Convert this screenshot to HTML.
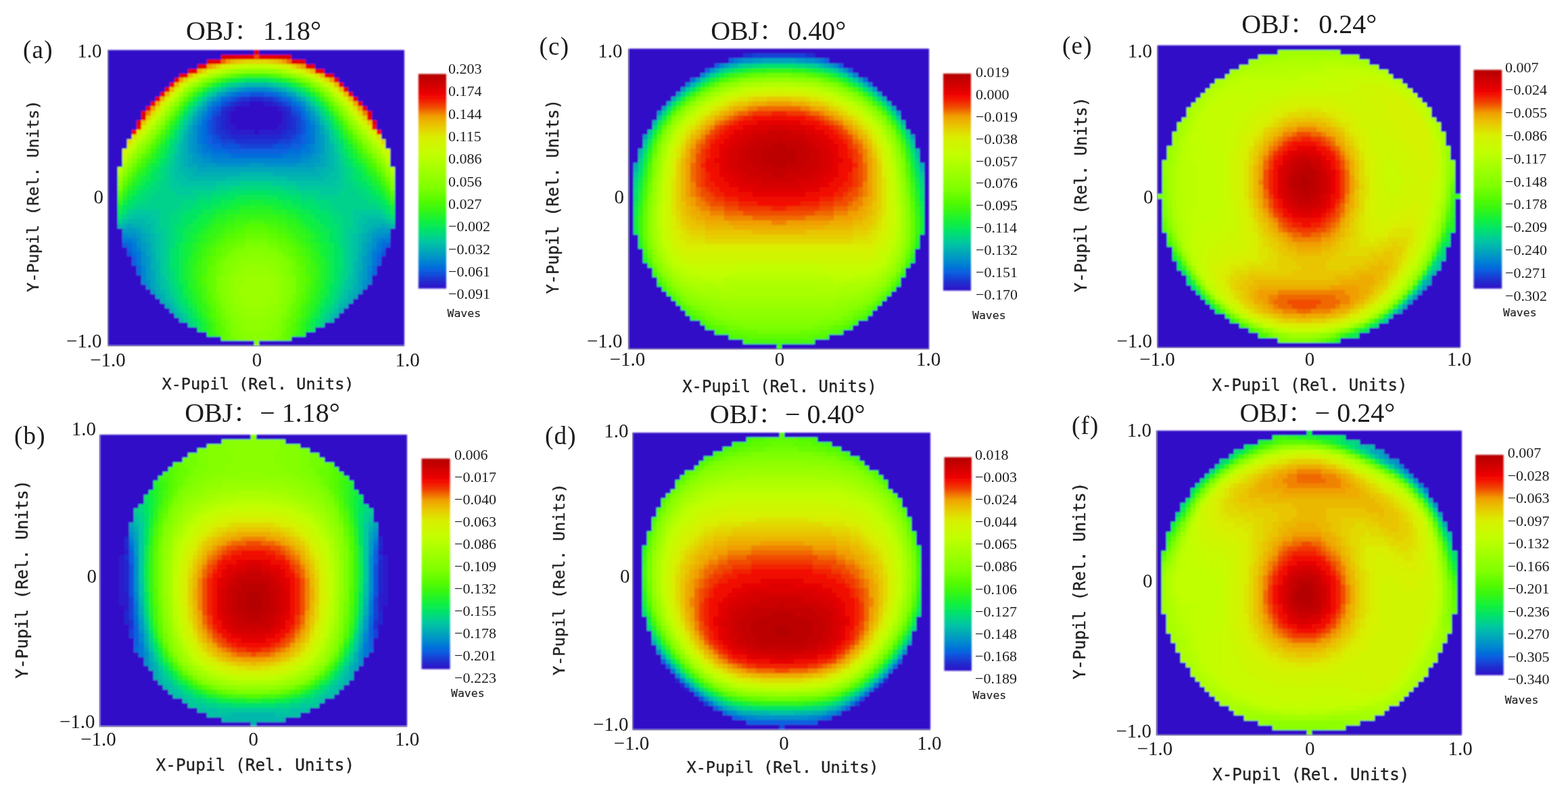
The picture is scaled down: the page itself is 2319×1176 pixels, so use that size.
<!DOCTYPE html>
<html lang="en"><head><meta charset="utf-8"><title>Wavefront maps</title>
<style>
html,body{margin:0;padding:0;background:#fff;}
body{width:2319px;height:1176px;overflow:hidden;}
svg{display:block;}
.ts{font-family:"Liberation Serif","Noto Serif CJK SC",serif;fill:#1a1a1a;}
.tm{font-family:"DejaVu Sans Mono","Liberation Mono",monospace;fill:#222;stroke:#222;stroke-width:0.35px;}
</style></head><body>
<svg width="2319" height="1176" viewBox="0 0 2319 1176">
<defs>
<linearGradient id="cb" x1="0" y1="0" x2="0" y2="1"><stop offset="0.000" stop-color="#b40000"/><stop offset="0.061" stop-color="#d80000"/><stop offset="0.107" stop-color="#f40800"/><stop offset="0.152" stop-color="#f04800"/><stop offset="0.198" stop-color="#f0a000"/><stop offset="0.244" stop-color="#e8c800"/><stop offset="0.298" stop-color="#d8f000"/><stop offset="0.380" stop-color="#c0ff00"/><stop offset="0.471" stop-color="#98ff00"/><stop offset="0.529" stop-color="#80ff00"/><stop offset="0.620" stop-color="#40f808"/><stop offset="0.688" stop-color="#10f040"/><stop offset="0.734" stop-color="#00e070"/><stop offset="0.779" stop-color="#00c8a0"/><stop offset="0.825" stop-color="#00a8b8"/><stop offset="0.870" stop-color="#0088d0"/><stop offset="0.916" stop-color="#0860e0"/><stop offset="0.961" stop-color="#2030d0"/><stop offset="1.000" stop-color="#3010c8"/></linearGradient>
<filter id="bl" x="-2%" y="-2%" width="104%" height="104%"><feGaussianBlur stdDeviation="1.0"/></filter>
<filter id="bl2" x="-10%" y="-2%" width="120%" height="104%"><feGaussianBlur stdDeviation="0.8"/></filter>
<filter id="bt" x="-5%" y="-20%" width="110%" height="140%"><feGaussianBlur stdDeviation="0.5"/></filter>
</defs>
<rect width="2319" height="1176" fill="#fff"/>

<g filter="url(#bt)">
<g id="pa">
<g filter="url(#bl)">
<g transform="translate(160.20 73.80) scale(6.95397 6.94603)" shape-rendering="crispEdges">
<rect x="0" y="0" width="63" height="63" fill="#300fc8"/>
<path fill="#3010c8" d="M30 11h3v1h-3zM27 12h9v1h-9zM26 13h11v1h-11zM26 14h11v1h-11zM26 15h11v1h-11zM27 16h9v1h-9zM31 17h1v1h-1z"/>
<path fill="#2a1ccb" d="M28 11h2v1h-2zM33 11h2v1h-2zM26 12h1v1h-1zM36 12h1v1h-1zM25 13h1v1h-1zM37 13h1v1h-1zM25 14h1v1h-1zM37 14h1v1h-1zM25 15h1v1h-1zM37 15h1v1h-1zM25 16h2v1h-2zM36 16h2v1h-2zM26 17h5v1h-5zM32 17h5v1h-5z"/>
<path fill="#2427ce" d="M30 10h3v1h-3zM27 11h1v1h-1zM35 11h1v1h-1zM25 12h1v1h-1zM37 12h1v1h-1zM24 13h1v1h-1zM38 13h1v1h-1zM24 14h1v1h-1zM38 14h1v1h-1zM24 15h1v1h-1zM38 15h1v1h-1zM24 16h1v1h-1zM38 16h1v1h-1zM25 17h1v1h-1zM37 17h1v1h-1zM26 18h11v1h-11z"/>
<path fill="#1e33d1" d="M28 10h2v1h-2zM33 10h2v1h-2zM26 11h1v1h-1zM36 11h1v1h-1zM24 12h1v1h-1zM38 12h1v1h-1zM23 14h1v1h-1zM39 14h1v1h-1zM23 15h1v1h-1zM39 15h1v1h-1zM23 16h1v1h-1zM39 16h1v1h-1zM23 17h2v1h-2zM38 17h2v1h-2zM24 18h2v1h-2zM37 18h2v1h-2zM27 19h9v1h-9z"/>
<path fill="#1742d6" d="M27 10h1v1h-1zM35 10h1v1h-1zM25 11h1v1h-1zM37 11h1v1h-1zM23 13h1v1h-1zM39 13h1v1h-1zM22 14h1v1h-1zM40 14h1v1h-1zM22 15h1v1h-1zM40 15h1v1h-1zM22 16h1v1h-1zM40 16h1v1h-1zM22 17h1v1h-1zM40 17h1v1h-1zM23 18h1v1h-1zM39 18h1v1h-1zM24 19h3v1h-3zM36 19h3v1h-3zM28 20h7v1h-7z"/>
<path fill="#0f52db" d="M30 9h3v1h-3zM26 10h1v1h-1zM36 10h1v1h-1zM24 11h1v1h-1zM38 11h1v1h-1zM23 12h1v1h-1zM39 12h1v1h-1zM22 13h1v1h-1zM40 13h1v1h-1zM21 15h1v1h-1zM41 15h1v1h-1zM21 16h1v1h-1zM41 16h1v1h-1zM21 17h1v1h-1zM41 17h1v1h-1zM22 18h1v1h-1zM40 18h1v1h-1zM22 19h2v1h-2zM39 19h2v1h-2zM24 20h4v1h-4zM35 20h4v1h-4zM4 43h1v1h-1zM58 43h1v1h-1z"/>
<path fill="#0860e0" d="M28 9h2v1h-2zM33 9h2v1h-2zM25 10h1v1h-1zM37 10h1v1h-1zM22 12h1v1h-1zM40 12h1v1h-1zM21 14h1v1h-1zM41 14h1v1h-1zM21 18h1v1h-1zM41 18h1v1h-1zM21 19h1v1h-1zM41 19h1v1h-1zM22 20h2v1h-2zM39 20h2v1h-2zM25 21h13v1h-13zM3 41h1v1h-1zM59 41h1v1h-1zM4 42h1v1h-1zM58 42h1v1h-1zM5 44h1v1h-1zM57 44h1v1h-1zM5 45h1v1h-1zM57 45h1v1h-1z"/>
<path fill="#056ddb" d="M27 9h1v1h-1zM35 9h1v1h-1zM24 10h1v1h-1zM38 10h1v1h-1zM23 11h1v1h-1zM39 11h1v1h-1zM21 13h1v1h-1zM41 13h1v1h-1zM20 15h1v1h-1zM42 15h1v1h-1zM20 16h1v1h-1zM42 16h1v1h-1zM20 17h1v1h-1zM42 17h1v1h-1zM20 18h1v1h-1zM42 18h1v1h-1zM20 19h1v1h-1zM42 19h1v1h-1zM21 20h1v1h-1zM41 20h1v1h-1zM22 21h3v1h-3zM38 21h3v1h-3zM26 22h11v1h-11zM4 41h1v1h-1zM58 41h1v1h-1zM5 43h1v1h-1zM57 43h1v1h-1zM6 46h1v1h-1zM56 46h1v1h-1zM6 47h1v1h-1zM56 47h1v1h-1z"/>
<path fill="#0379d6" d="M26 9h1v1h-1zM36 9h1v1h-1zM22 11h1v1h-1zM40 11h1v1h-1zM21 12h1v1h-1zM41 12h1v1h-1zM20 14h1v1h-1zM42 14h1v1h-1zM19 16h1v1h-1zM43 16h1v1h-1zM19 17h1v1h-1zM43 17h1v1h-1zM19 18h1v1h-1zM43 18h1v1h-1zM19 19h1v1h-1zM43 19h1v1h-1zM20 20h1v1h-1zM42 20h1v1h-1zM20 21h2v1h-2zM41 21h2v1h-2zM22 22h4v1h-4zM37 22h4v1h-4zM3 40h2v1h-2zM58 40h2v1h-2zM5 41h1v1h-1zM57 41h1v1h-1zM5 42h1v1h-1zM57 42h1v1h-1zM6 43h1v1h-1zM56 43h1v1h-1zM6 44h1v1h-1zM56 44h1v1h-1zM6 45h1v1h-1zM56 45h1v1h-1z"/>
<path fill="#0185d1" d="M29 8h5v1h-5zM25 9h1v1h-1zM37 9h1v1h-1zM23 10h1v1h-1zM39 10h1v1h-1zM20 13h1v1h-1zM42 13h1v1h-1zM19 15h1v1h-1zM43 15h1v1h-1zM19 20h1v1h-1zM43 20h1v1h-1zM19 21h1v1h-1zM43 21h1v1h-1zM20 22h2v1h-2zM41 22h2v1h-2zM22 23h19v1h-19zM3 39h1v1h-1zM59 39h1v1h-1zM5 40h1v1h-1zM57 40h1v1h-1zM6 42h1v1h-1zM56 42h1v1h-1zM7 46h1v1h-1zM55 46h1v1h-1zM7 47h1v1h-1zM55 47h1v1h-1zM7 48h1v1h-1zM55 48h1v1h-1zM7 49h1v1h-1zM55 49h1v1h-1z"/>
<path fill="#0090ca" d="M28 8h1v1h-1zM34 8h1v1h-1zM21 11h1v1h-1zM41 11h1v1h-1zM19 14h1v1h-1zM43 14h1v1h-1zM18 16h1v1h-1zM44 16h1v1h-1zM18 17h1v1h-1zM44 17h1v1h-1zM18 18h1v1h-1zM44 18h1v1h-1zM18 19h1v1h-1zM44 19h1v1h-1zM18 20h1v1h-1zM44 20h1v1h-1zM18 21h1v1h-1zM44 21h1v1h-1zM19 22h1v1h-1zM43 22h1v1h-1zM20 23h2v1h-2zM41 23h2v1h-2zM23 24h7v1h-7zM33 24h7v1h-7zM4 39h2v1h-2zM57 39h2v1h-2zM6 40h1v1h-1zM56 40h1v1h-1zM6 41h1v1h-1zM56 41h1v1h-1zM7 43h1v1h-1zM55 43h1v1h-1zM7 44h1v1h-1zM55 44h1v1h-1zM7 45h1v1h-1zM55 45h1v1h-1zM8 49h1v1h-1zM54 49h1v1h-1zM8 50h1v1h-1zM54 50h1v1h-1z"/>
<path fill="#009ac3" d="M27 8h1v1h-1zM35 8h1v1h-1zM24 9h1v1h-1zM38 9h1v1h-1zM22 10h1v1h-1zM40 10h1v1h-1zM20 12h1v1h-1zM42 12h1v1h-1zM19 13h1v1h-1zM43 13h1v1h-1zM18 15h1v1h-1zM44 15h1v1h-1zM17 18h1v1h-1zM45 18h1v1h-1zM17 19h1v1h-1zM45 19h1v1h-1zM17 20h1v1h-1zM45 20h1v1h-1zM17 21h1v1h-1zM45 21h1v1h-1zM18 22h1v1h-1zM44 22h1v1h-1zM18 23h2v1h-2zM43 23h2v1h-2zM19 24h4v1h-4zM30 24h3v1h-3zM40 24h4v1h-4zM3 38h3v1h-3zM57 38h3v1h-3zM6 39h1v1h-1zM56 39h1v1h-1zM7 41h1v1h-1zM55 41h1v1h-1zM7 42h1v1h-1zM55 42h1v1h-1zM8 44h1v1h-1zM54 44h1v1h-1zM8 45h1v1h-1zM54 45h1v1h-1zM8 46h1v1h-1zM54 46h1v1h-1zM8 47h1v1h-1zM54 47h1v1h-1zM8 48h1v1h-1zM54 48h1v1h-1zM9 51h1v1h-1zM53 51h1v1h-1z"/>
<path fill="#00a4bb" d="M26 8h1v1h-1zM36 8h1v1h-1zM23 9h1v1h-1zM39 9h1v1h-1zM18 14h1v1h-1zM44 14h1v1h-1zM17 16h1v1h-1zM45 16h1v1h-1zM17 17h1v1h-1zM45 17h1v1h-1zM17 22h1v1h-1zM45 22h1v1h-1zM17 23h1v1h-1zM45 23h1v1h-1zM17 24h2v1h-2zM44 24h2v1h-2zM19 25h25v1h-25zM4 37h1v1h-1zM58 37h1v1h-1zM6 38h1v1h-1zM56 38h1v1h-1zM7 39h1v1h-1zM55 39h1v1h-1zM7 40h1v1h-1zM55 40h1v1h-1zM8 41h1v1h-1zM54 41h1v1h-1zM8 42h1v1h-1zM54 42h1v1h-1zM8 43h1v1h-1zM54 43h1v1h-1zM9 47h1v1h-1zM53 47h1v1h-1zM9 48h1v1h-1zM53 48h1v1h-1zM9 49h1v1h-1zM53 49h1v1h-1zM9 50h1v1h-1zM53 50h1v1h-1zM10 52h1v1h-1zM52 52h1v1h-1z"/>
<path fill="#00aeb4" d="M25 8h1v1h-1zM37 8h1v1h-1zM21 10h1v1h-1zM41 10h1v1h-1zM20 11h1v1h-1zM42 11h1v1h-1zM19 12h1v1h-1zM43 12h1v1h-1zM16 18h1v1h-1zM46 18h1v1h-1zM16 19h1v1h-1zM46 19h1v1h-1zM16 20h1v1h-1zM46 20h1v1h-1zM16 21h1v1h-1zM46 21h1v1h-1zM16 22h1v1h-1zM46 22h1v1h-1zM16 23h1v1h-1zM46 23h1v1h-1zM16 24h1v1h-1zM46 24h1v1h-1zM17 25h2v1h-2zM44 25h2v1h-2zM18 26h10v1h-10zM35 26h10v1h-10zM3 37h1v1h-1zM5 37h2v1h-2zM56 37h2v1h-2zM59 37h1v1h-1zM7 38h1v1h-1zM55 38h1v1h-1zM8 39h1v1h-1zM54 39h1v1h-1zM8 40h1v1h-1zM54 40h1v1h-1zM9 43h1v1h-1zM53 43h1v1h-1zM9 44h1v1h-1zM53 44h1v1h-1zM9 45h1v1h-1zM53 45h1v1h-1zM9 46h1v1h-1zM53 46h1v1h-1zM10 50h1v1h-1zM52 50h1v1h-1zM10 51h1v1h-1zM52 51h1v1h-1zM11 52h1v1h-1zM51 52h1v1h-1zM11 53h1v1h-1zM51 53h1v1h-1zM12 54h1v1h-1zM50 54h1v1h-1zM13 55h1v1h-1zM49 55h1v1h-1z"/>
<path fill="#00b7ac" d="M29 7h5v1h-5zM18 13h1v1h-1zM44 13h1v1h-1zM17 15h1v1h-1zM45 15h1v1h-1zM16 17h1v1h-1zM46 17h1v1h-1zM15 20h1v1h-1zM47 20h1v1h-1zM15 21h1v1h-1zM47 21h1v1h-1zM15 22h1v1h-1zM47 22h1v1h-1zM15 23h1v1h-1zM47 23h1v1h-1zM15 24h1v1h-1zM47 24h1v1h-1zM15 25h2v1h-2zM46 25h2v1h-2zM16 26h2v1h-2zM28 26h7v1h-7zM45 26h2v1h-2zM17 27h8v1h-8zM38 27h8v1h-8zM4 36h4v1h-4zM55 36h4v1h-4zM2 37h1v1h-1zM7 37h2v1h-2zM54 37h2v1h-2zM60 37h1v1h-1zM8 38h1v1h-1zM54 38h1v1h-1zM9 39h1v1h-1zM53 39h1v1h-1zM9 40h1v1h-1zM53 40h1v1h-1zM9 41h1v1h-1zM53 41h1v1h-1zM9 42h1v1h-1zM53 42h1v1h-1zM10 45h1v1h-1zM52 45h1v1h-1zM10 46h1v1h-1zM52 46h1v1h-1zM10 47h1v1h-1zM52 47h1v1h-1zM10 48h1v1h-1zM52 48h1v1h-1zM10 49h1v1h-1zM52 49h1v1h-1zM11 51h1v1h-1zM51 51h1v1h-1zM12 53h1v1h-1zM50 53h1v1h-1zM13 54h1v1h-1zM49 54h1v1h-1zM14 56h1v1h-1zM48 56h1v1h-1zM15 57h1v1h-1zM47 57h1v1h-1z"/>
<path fill="#00c1a5" d="M28 7h1v1h-1zM34 7h1v1h-1zM24 8h1v1h-1zM38 8h1v1h-1zM22 9h1v1h-1zM40 9h1v1h-1zM17 14h1v1h-1zM45 14h1v1h-1zM16 16h1v1h-1zM46 16h1v1h-1zM15 19h1v1h-1zM47 19h1v1h-1zM14 22h1v1h-1zM48 22h1v1h-1zM14 23h1v1h-1zM48 23h1v1h-1zM14 24h1v1h-1zM48 24h1v1h-1zM14 25h1v1h-1zM48 25h1v1h-1zM14 26h2v1h-2zM47 26h2v1h-2zM14 27h3v1h-3zM25 27h13v1h-13zM46 27h3v1h-3zM15 28h8v1h-8zM40 28h8v1h-8zM5 35h4v1h-4zM54 35h4v1h-4zM3 36h1v1h-1zM8 36h2v1h-2zM53 36h2v1h-2zM59 36h1v1h-1zM9 37h1v1h-1zM53 37h1v1h-1zM9 38h1v1h-1zM53 38h1v1h-1zM10 39h1v1h-1zM52 39h1v1h-1zM10 40h1v1h-1zM52 40h1v1h-1zM10 41h1v1h-1zM52 41h1v1h-1zM10 42h1v1h-1zM52 42h1v1h-1zM10 43h1v1h-1zM52 43h1v1h-1zM10 44h1v1h-1zM52 44h1v1h-1zM11 48h1v1h-1zM51 48h1v1h-1zM11 49h1v1h-1zM51 49h1v1h-1zM11 50h1v1h-1zM51 50h1v1h-1zM12 51h1v1h-1zM50 51h1v1h-1zM12 52h1v1h-1zM50 52h1v1h-1zM13 53h1v1h-1zM49 53h1v1h-1zM14 55h1v1h-1zM48 55h1v1h-1zM15 56h1v1h-1zM47 56h1v1h-1z"/>
<path fill="#00ca9b" d="M27 7h1v1h-1zM35 7h1v1h-1zM20 10h1v1h-1zM42 10h1v1h-1zM19 11h1v1h-1zM43 11h1v1h-1zM18 12h1v1h-1zM44 12h1v1h-1zM16 15h1v1h-1zM46 15h1v1h-1zM15 17h1v1h-1zM47 17h1v1h-1zM15 18h1v1h-1zM47 18h1v1h-1zM14 20h1v1h-1zM48 20h1v1h-1zM14 21h1v1h-1zM48 21h1v1h-1zM13 24h1v1h-1zM49 24h1v1h-1zM13 25h1v1h-1zM49 25h1v1h-1zM13 26h1v1h-1zM49 26h1v1h-1zM13 27h1v1h-1zM49 27h1v1h-1zM13 28h2v1h-2zM23 28h5v1h-5zM35 28h5v1h-5zM48 28h2v1h-2zM13 29h10v1h-10zM40 29h10v1h-10zM14 30h4v1h-4zM45 30h4v1h-4zM5 34h6v1h-6zM52 34h6v1h-6zM4 35h1v1h-1zM9 35h2v1h-2zM52 35h2v1h-2zM58 35h1v1h-1zM10 36h1v1h-1zM52 36h1v1h-1zM10 37h1v1h-1zM52 37h1v1h-1zM10 38h2v1h-2zM51 38h2v1h-2zM11 39h1v1h-1zM51 39h1v1h-1zM11 40h1v1h-1zM51 40h1v1h-1zM11 41h1v1h-1zM51 41h1v1h-1zM11 42h1v1h-1zM51 42h1v1h-1zM11 43h1v1h-1zM51 43h1v1h-1zM11 44h1v1h-1zM51 44h1v1h-1zM11 45h1v1h-1zM51 45h1v1h-1zM11 46h1v1h-1zM51 46h1v1h-1zM11 47h1v1h-1zM51 47h1v1h-1zM12 49h1v1h-1zM50 49h1v1h-1zM12 50h1v1h-1zM50 50h1v1h-1zM13 52h1v1h-1zM49 52h1v1h-1zM14 54h1v1h-1zM48 54h1v1h-1zM16 57h1v1h-1zM46 57h1v1h-1z"/>
<path fill="#00d28c" d="M26 7h1v1h-1zM36 7h1v1h-1zM23 8h1v1h-1zM39 8h1v1h-1zM21 9h1v1h-1zM41 9h1v1h-1zM17 13h1v1h-1zM45 13h1v1h-1zM14 19h1v1h-1zM48 19h1v1h-1zM13 22h1v1h-1zM49 22h1v1h-1zM13 23h1v1h-1zM49 23h1v1h-1zM12 25h1v1h-1zM50 25h1v1h-1zM12 26h1v1h-1zM50 26h1v1h-1zM12 27h1v1h-1zM50 27h1v1h-1zM11 28h2v1h-2zM28 28h7v1h-7zM50 28h2v1h-2zM11 29h2v1h-2zM23 29h3v1h-3zM37 29h3v1h-3zM50 29h2v1h-2zM10 30h4v1h-4zM18 30h4v1h-4zM41 30h4v1h-4zM49 30h4v1h-4zM9 31h10v1h-10zM44 31h10v1h-10zM8 32h8v1h-8zM47 32h8v1h-8zM6 33h9v1h-9zM48 33h9v1h-9zM4 34h1v1h-1zM11 34h3v1h-3zM49 34h3v1h-3zM58 34h1v1h-1zM3 35h1v1h-1zM11 35h2v1h-2zM50 35h2v1h-2zM59 35h1v1h-1zM2 36h1v1h-1zM11 36h2v1h-2zM50 36h2v1h-2zM60 36h1v1h-1zM11 37h2v1h-2zM50 37h2v1h-2zM12 38h1v1h-1zM50 38h1v1h-1zM12 39h1v1h-1zM50 39h1v1h-1zM12 40h1v1h-1zM50 40h1v1h-1zM12 41h1v1h-1zM50 41h1v1h-1zM12 42h1v1h-1zM50 42h1v1h-1zM12 43h1v1h-1zM50 43h1v1h-1zM12 44h1v1h-1zM50 44h1v1h-1zM12 45h1v1h-1zM50 45h1v1h-1zM12 46h1v1h-1zM50 46h1v1h-1zM12 47h1v1h-1zM50 47h1v1h-1zM12 48h1v1h-1zM50 48h1v1h-1zM13 50h1v1h-1zM49 50h1v1h-1zM13 51h1v1h-1zM49 51h1v1h-1zM14 53h1v1h-1zM48 53h1v1h-1zM15 55h1v1h-1zM47 55h1v1h-1zM16 56h1v1h-1zM46 56h1v1h-1zM17 58h1v1h-1zM45 58h1v1h-1z"/>
<path fill="#00d97d" d="M25 7h1v1h-1zM37 7h1v1h-1zM16 14h1v1h-1zM46 14h1v1h-1zM15 16h1v1h-1zM47 16h1v1h-1zM14 18h1v1h-1zM48 18h1v1h-1zM13 20h1v1h-1zM49 20h1v1h-1zM13 21h1v1h-1zM49 21h1v1h-1zM12 23h1v1h-1zM50 23h1v1h-1zM12 24h1v1h-1zM50 24h1v1h-1zM11 25h1v1h-1zM51 25h1v1h-1zM11 26h1v1h-1zM51 26h1v1h-1zM11 27h1v1h-1zM51 27h1v1h-1zM10 28h1v1h-1zM52 28h1v1h-1zM9 29h2v1h-2zM26 29h11v1h-11zM52 29h2v1h-2zM8 30h2v1h-2zM22 30h3v1h-3zM38 30h3v1h-3zM53 30h2v1h-2zM7 31h2v1h-2zM19 31h3v1h-3zM41 31h3v1h-3zM54 31h2v1h-2zM6 32h2v1h-2zM16 32h3v1h-3zM44 32h3v1h-3zM55 32h2v1h-2zM5 33h1v1h-1zM15 33h3v1h-3zM45 33h3v1h-3zM57 33h1v1h-1zM14 34h2v1h-2zM47 34h2v1h-2zM13 35h2v1h-2zM48 35h2v1h-2zM13 36h2v1h-2zM48 36h2v1h-2zM13 37h1v1h-1zM49 37h1v1h-1zM13 38h1v1h-1zM49 38h1v1h-1zM13 39h1v1h-1zM49 39h1v1h-1zM13 40h1v1h-1zM49 40h1v1h-1zM13 41h1v1h-1zM49 41h1v1h-1zM13 47h1v1h-1zM49 47h1v1h-1zM13 48h1v1h-1zM49 48h1v1h-1zM13 49h1v1h-1zM49 49h1v1h-1zM14 51h1v1h-1zM48 51h1v1h-1zM14 52h1v1h-1zM48 52h1v1h-1zM15 54h1v1h-1zM47 54h1v1h-1zM16 55h1v1h-1zM46 55h1v1h-1zM17 57h1v1h-1zM45 57h1v1h-1z"/>
<path fill="#01e16e" d="M22 8h1v1h-1zM40 8h1v1h-1zM19 10h1v1h-1zM43 10h1v1h-1zM18 11h1v1h-1zM44 11h1v1h-1zM17 12h1v1h-1zM45 12h1v1h-1zM15 15h1v1h-1zM47 15h1v1h-1zM14 17h1v1h-1zM48 17h1v1h-1zM13 19h1v1h-1zM49 19h1v1h-1zM12 22h1v1h-1zM50 22h1v1h-1zM11 24h1v1h-1zM51 24h1v1h-1zM10 26h1v1h-1zM52 26h1v1h-1zM10 27h1v1h-1zM52 27h1v1h-1zM9 28h1v1h-1zM53 28h1v1h-1zM8 29h1v1h-1zM54 29h1v1h-1zM7 30h1v1h-1zM25 30h4v1h-4zM34 30h4v1h-4zM55 30h1v1h-1zM6 31h1v1h-1zM22 31h2v1h-2zM39 31h2v1h-2zM56 31h1v1h-1zM5 32h1v1h-1zM19 32h3v1h-3zM41 32h3v1h-3zM57 32h1v1h-1zM4 33h1v1h-1zM18 33h2v1h-2zM43 33h2v1h-2zM58 33h1v1h-1zM3 34h1v1h-1zM16 34h2v1h-2zM45 34h2v1h-2zM59 34h1v1h-1zM2 35h1v1h-1zM15 35h2v1h-2zM46 35h2v1h-2zM60 35h1v1h-1zM15 36h1v1h-1zM47 36h1v1h-1zM14 37h2v1h-2zM47 37h2v1h-2zM14 38h1v1h-1zM48 38h1v1h-1zM14 39h1v1h-1zM48 39h1v1h-1zM14 40h1v1h-1zM48 40h1v1h-1zM13 42h1v1h-1zM49 42h1v1h-1zM13 43h1v1h-1zM49 43h1v1h-1zM13 44h1v1h-1zM49 44h1v1h-1zM13 45h1v1h-1zM49 45h1v1h-1zM13 46h1v1h-1zM49 46h1v1h-1zM14 49h1v1h-1zM48 49h1v1h-1zM14 50h1v1h-1zM48 50h1v1h-1zM15 52h1v1h-1zM47 52h1v1h-1zM15 53h1v1h-1zM47 53h1v1h-1zM16 54h1v1h-1zM46 54h1v1h-1zM17 56h1v1h-1zM45 56h1v1h-1zM18 58h1v1h-1zM44 58h1v1h-1z"/>
<path fill="#05e560" d="M29 6h5v1h-5zM24 7h1v1h-1zM38 7h1v1h-1zM20 9h1v1h-1zM42 9h1v1h-1zM16 13h1v1h-1zM46 13h1v1h-1zM12 21h1v1h-1zM50 21h1v1h-1zM11 23h1v1h-1zM51 23h1v1h-1zM10 25h1v1h-1zM52 25h1v1h-1zM9 26h1v1h-1zM53 26h1v1h-1zM9 27h1v1h-1zM53 27h1v1h-1zM8 28h1v1h-1zM54 28h1v1h-1zM7 29h1v1h-1zM55 29h1v1h-1zM6 30h1v1h-1zM29 30h5v1h-5zM56 30h1v1h-1zM5 31h1v1h-1zM24 31h3v1h-3zM36 31h3v1h-3zM57 31h1v1h-1zM4 32h1v1h-1zM22 32h2v1h-2zM39 32h2v1h-2zM58 32h1v1h-1zM3 33h1v1h-1zM20 33h2v1h-2zM41 33h2v1h-2zM59 33h1v1h-1zM18 34h2v1h-2zM43 34h2v1h-2zM17 35h2v1h-2zM44 35h2v1h-2zM16 36h2v1h-2zM45 36h2v1h-2zM16 37h1v1h-1zM46 37h1v1h-1zM15 38h1v1h-1zM47 38h1v1h-1zM15 39h1v1h-1zM47 39h1v1h-1zM15 40h1v1h-1zM47 40h1v1h-1zM14 41h1v1h-1zM48 41h1v1h-1zM14 42h1v1h-1zM48 42h1v1h-1zM14 43h1v1h-1zM48 43h1v1h-1zM14 44h1v1h-1zM48 44h1v1h-1zM14 45h1v1h-1zM48 45h1v1h-1zM14 46h1v1h-1zM48 46h1v1h-1zM14 47h1v1h-1zM48 47h1v1h-1zM14 48h1v1h-1zM48 48h1v1h-1zM15 50h1v1h-1zM47 50h1v1h-1zM15 51h1v1h-1zM47 51h1v1h-1zM16 53h1v1h-1zM46 53h1v1h-1zM17 55h1v1h-1zM45 55h1v1h-1zM18 57h1v1h-1zM44 57h1v1h-1z"/>
<path fill="#0aea51" d="M28 6h1v1h-1zM34 6h1v1h-1zM21 8h1v1h-1zM41 8h1v1h-1zM15 14h1v1h-1zM47 14h1v1h-1zM14 16h1v1h-1zM48 16h1v1h-1zM13 18h1v1h-1zM49 18h1v1h-1zM12 20h1v1h-1zM50 20h1v1h-1zM11 22h1v1h-1zM51 22h1v1h-1zM10 24h1v1h-1zM52 24h1v1h-1zM9 25h1v1h-1zM53 25h1v1h-1zM8 27h1v1h-1zM54 27h1v1h-1zM7 28h1v1h-1zM55 28h1v1h-1zM6 29h1v1h-1zM56 29h1v1h-1zM27 31h9v1h-9zM24 32h2v1h-2zM37 32h2v1h-2zM22 33h2v1h-2zM39 33h2v1h-2zM2 34h1v1h-1zM20 34h2v1h-2zM41 34h2v1h-2zM60 34h1v1h-1zM19 35h1v1h-1zM43 35h1v1h-1zM18 36h1v1h-1zM44 36h1v1h-1zM17 37h1v1h-1zM45 37h1v1h-1zM16 38h2v1h-2zM45 38h2v1h-2zM16 39h1v1h-1zM46 39h1v1h-1zM16 40h1v1h-1zM46 40h1v1h-1zM15 41h1v1h-1zM47 41h1v1h-1zM15 42h1v1h-1zM47 42h1v1h-1zM15 43h1v1h-1zM47 43h1v1h-1zM15 44h1v1h-1zM47 44h1v1h-1zM15 45h1v1h-1zM47 45h1v1h-1zM15 46h1v1h-1zM47 46h1v1h-1zM15 47h1v1h-1zM47 47h1v1h-1zM15 48h1v1h-1zM47 48h1v1h-1zM15 49h1v1h-1zM47 49h1v1h-1zM16 52h1v1h-1zM46 52h1v1h-1zM17 54h1v1h-1zM45 54h1v1h-1zM18 56h1v1h-1zM44 56h1v1h-1zM19 58h1v1h-1zM43 58h1v1h-1zM19 59h1v1h-1zM43 59h1v1h-1z"/>
<path fill="#0fef42" d="M27 6h1v1h-1zM35 6h1v1h-1zM23 7h1v1h-1zM39 7h1v1h-1zM18 10h1v1h-1zM44 10h1v1h-1zM17 11h1v1h-1zM45 11h1v1h-1zM13 17h1v1h-1zM49 17h1v1h-1zM12 19h1v1h-1zM50 19h1v1h-1zM11 21h1v1h-1zM51 21h1v1h-1zM10 23h1v1h-1zM52 23h1v1h-1zM9 24h1v1h-1zM53 24h1v1h-1zM8 26h1v1h-1zM54 26h1v1h-1zM7 27h1v1h-1zM55 27h1v1h-1zM5 30h1v1h-1zM57 30h1v1h-1zM4 31h1v1h-1zM58 31h1v1h-1zM3 32h1v1h-1zM26 32h4v1h-4zM33 32h4v1h-4zM59 32h1v1h-1zM24 33h2v1h-2zM37 33h2v1h-2zM22 34h1v1h-1zM40 34h1v1h-1zM20 35h2v1h-2zM41 35h2v1h-2zM19 36h2v1h-2zM42 36h2v1h-2zM18 37h2v1h-2zM43 37h2v1h-2zM18 38h1v1h-1zM44 38h1v1h-1zM17 39h1v1h-1zM45 39h1v1h-1zM17 40h1v1h-1zM45 40h1v1h-1zM16 41h1v1h-1zM46 41h1v1h-1zM16 42h1v1h-1zM46 42h1v1h-1zM16 43h1v1h-1zM46 43h1v1h-1zM16 44h1v1h-1zM46 44h1v1h-1zM16 49h1v1h-1zM46 49h1v1h-1zM16 50h1v1h-1zM46 50h1v1h-1zM16 51h1v1h-1zM46 51h1v1h-1zM17 53h1v1h-1zM45 53h1v1h-1zM18 55h1v1h-1zM44 55h1v1h-1zM19 57h1v1h-1zM43 57h1v1h-1z"/>
<path fill="#18f136" d="M26 6h1v1h-1zM36 6h1v1h-1zM19 9h1v1h-1zM43 9h1v1h-1zM16 12h1v1h-1zM46 12h1v1h-1zM14 15h1v1h-1zM48 15h1v1h-1zM11 20h1v1h-1zM51 20h1v1h-1zM10 22h1v1h-1zM52 22h1v1h-1zM8 25h1v1h-1zM54 25h1v1h-1zM6 28h1v1h-1zM56 28h1v1h-1zM5 29h1v1h-1zM57 29h1v1h-1zM4 30h1v1h-1zM58 30h1v1h-1zM30 32h3v1h-3zM2 33h1v1h-1zM26 33h2v1h-2zM35 33h2v1h-2zM60 33h1v1h-1zM23 34h2v1h-2zM38 34h2v1h-2zM22 35h1v1h-1zM40 35h1v1h-1zM21 36h1v1h-1zM41 36h1v1h-1zM20 37h1v1h-1zM42 37h1v1h-1zM19 38h1v1h-1zM43 38h1v1h-1zM18 39h1v1h-1zM44 39h1v1h-1zM18 40h1v1h-1zM44 40h1v1h-1zM17 41h1v1h-1zM45 41h1v1h-1zM17 42h1v1h-1zM45 42h1v1h-1zM17 43h1v1h-1zM45 43h1v1h-1zM16 45h1v1h-1zM46 45h1v1h-1zM16 46h1v1h-1zM46 46h1v1h-1zM16 47h1v1h-1zM46 47h1v1h-1zM16 48h1v1h-1zM46 48h1v1h-1zM17 51h1v1h-1zM45 51h1v1h-1zM17 52h1v1h-1zM45 52h1v1h-1zM18 54h1v1h-1zM44 54h1v1h-1zM19 56h1v1h-1zM43 56h1v1h-1zM20 58h1v1h-1zM42 58h1v1h-1zM20 59h1v1h-1zM42 59h1v1h-1z"/>
<path fill="#22f32b" d="M25 6h1v1h-1zM37 6h1v1h-1zM22 7h1v1h-1zM40 7h1v1h-1zM20 8h1v1h-1zM42 8h1v1h-1zM15 13h1v1h-1zM47 13h1v1h-1zM13 16h1v1h-1zM49 16h1v1h-1zM12 18h1v1h-1zM50 18h1v1h-1zM10 21h1v1h-1zM52 21h1v1h-1zM9 23h1v1h-1zM53 23h1v1h-1zM8 24h1v1h-1zM54 24h1v1h-1zM7 26h1v1h-1zM55 26h1v1h-1zM6 27h1v1h-1zM56 27h1v1h-1zM5 28h1v1h-1zM57 28h1v1h-1zM3 31h1v1h-1zM59 31h1v1h-1zM28 33h7v1h-7zM25 34h3v1h-3zM35 34h3v1h-3zM23 35h2v1h-2zM38 35h2v1h-2zM22 36h1v1h-1zM40 36h1v1h-1zM21 37h1v1h-1zM41 37h1v1h-1zM20 38h1v1h-1zM42 38h1v1h-1zM19 39h1v1h-1zM43 39h1v1h-1zM19 40h1v1h-1zM43 40h1v1h-1zM18 41h1v1h-1zM44 41h1v1h-1zM18 42h1v1h-1zM44 42h1v1h-1zM17 44h1v1h-1zM45 44h1v1h-1zM17 45h1v1h-1zM45 45h1v1h-1zM17 46h1v1h-1zM45 46h1v1h-1zM17 47h1v1h-1zM45 47h1v1h-1zM17 48h1v1h-1zM45 48h1v1h-1zM17 49h1v1h-1zM45 49h1v1h-1zM17 50h1v1h-1zM45 50h1v1h-1zM18 52h1v1h-1zM44 52h1v1h-1zM18 53h1v1h-1zM44 53h1v1h-1zM19 55h1v1h-1zM43 55h1v1h-1zM20 57h1v1h-1zM42 57h1v1h-1z"/>
<path fill="#2cf51f" d="M14 14h1v1h-1zM48 14h1v1h-1zM11 19h1v1h-1zM51 19h1v1h-1zM9 22h1v1h-1zM53 22h1v1h-1zM7 25h1v1h-1zM55 25h1v1h-1zM6 26h1v1h-1zM56 26h1v1h-1zM4 29h1v1h-1zM58 29h1v1h-1zM28 34h7v1h-7zM25 35h2v1h-2zM36 35h2v1h-2zM23 36h2v1h-2zM38 36h2v1h-2zM22 37h1v1h-1zM40 37h1v1h-1zM21 38h1v1h-1zM41 38h1v1h-1zM20 39h1v1h-1zM42 39h1v1h-1zM20 40h1v1h-1zM42 40h1v1h-1zM19 41h1v1h-1zM43 41h1v1h-1zM19 42h1v1h-1zM43 42h1v1h-1zM18 43h1v1h-1zM44 43h1v1h-1zM18 44h1v1h-1zM44 44h1v1h-1zM18 45h1v1h-1zM44 45h1v1h-1zM18 49h1v1h-1zM44 49h1v1h-1zM18 50h1v1h-1zM44 50h1v1h-1zM18 51h1v1h-1zM44 51h1v1h-1zM19 53h1v1h-1zM43 53h1v1h-1zM19 54h1v1h-1zM43 54h1v1h-1zM20 56h1v1h-1zM42 56h1v1h-1zM21 58h1v1h-1zM41 58h1v1h-1zM21 59h1v1h-1zM41 59h1v1h-1zM21 60h1v1h-1zM41 60h1v1h-1z"/>
<path fill="#36f613" d="M24 6h1v1h-1zM38 6h1v1h-1zM18 9h1v1h-1zM44 9h1v1h-1zM17 10h1v1h-1zM45 10h1v1h-1zM16 11h1v1h-1zM46 11h1v1h-1zM13 15h1v1h-1zM49 15h1v1h-1zM12 17h1v1h-1zM50 17h1v1h-1zM10 20h1v1h-1zM52 20h1v1h-1zM8 23h1v1h-1zM54 23h1v1h-1zM5 27h1v1h-1zM57 27h1v1h-1zM3 30h1v1h-1zM59 30h1v1h-1zM2 32h1v1h-1zM60 32h1v1h-1zM27 35h9v1h-9zM25 36h2v1h-2zM36 36h2v1h-2zM23 37h2v1h-2zM38 37h2v1h-2zM22 38h2v1h-2zM39 38h2v1h-2zM21 39h2v1h-2zM40 39h2v1h-2zM21 40h1v1h-1zM41 40h1v1h-1zM20 41h1v1h-1zM42 41h1v1h-1zM19 43h1v1h-1zM43 43h1v1h-1zM19 44h1v1h-1zM43 44h1v1h-1zM18 46h1v1h-1zM44 46h1v1h-1zM18 47h1v1h-1zM44 47h1v1h-1zM18 48h1v1h-1zM44 48h1v1h-1zM19 51h1v1h-1zM43 51h1v1h-1zM19 52h1v1h-1zM43 52h1v1h-1zM20 54h1v1h-1zM42 54h1v1h-1zM20 55h1v1h-1zM42 55h1v1h-1zM21 57h1v1h-1zM41 57h1v1h-1zM22 60h1v1h-1zM40 60h1v1h-1z"/>
<path fill="#40f808" d="M29 5h5v1h-5zM21 7h1v1h-1zM41 7h1v1h-1zM15 12h1v1h-1zM47 12h1v1h-1zM11 18h1v1h-1zM51 18h1v1h-1zM9 21h1v1h-1zM53 21h1v1h-1zM7 24h1v1h-1zM55 24h1v1h-1zM6 25h1v1h-1zM56 25h1v1h-1zM4 28h1v1h-1zM58 28h1v1h-1zM27 36h3v1h-3zM33 36h3v1h-3zM25 37h2v1h-2zM36 37h2v1h-2zM24 38h1v1h-1zM38 38h1v1h-1zM23 39h1v1h-1zM39 39h1v1h-1zM22 40h1v1h-1zM40 40h1v1h-1zM21 41h1v1h-1zM41 41h1v1h-1zM20 42h1v1h-1zM42 42h1v1h-1zM20 43h1v1h-1zM42 43h1v1h-1zM19 45h1v1h-1zM43 45h1v1h-1zM19 46h1v1h-1zM43 46h1v1h-1zM19 47h1v1h-1zM43 47h1v1h-1zM19 48h1v1h-1zM43 48h1v1h-1zM19 49h1v1h-1zM43 49h1v1h-1zM19 50h1v1h-1zM43 50h1v1h-1zM20 53h1v1h-1zM42 53h1v1h-1zM21 55h1v1h-1zM41 55h1v1h-1zM21 56h1v1h-1zM41 56h1v1h-1zM22 58h1v1h-1zM40 58h1v1h-1zM22 59h1v1h-1zM40 59h1v1h-1z"/>
<path fill="#4af907" d="M28 5h1v1h-1zM34 5h1v1h-1zM23 6h1v1h-1zM39 6h1v1h-1zM19 8h1v1h-1zM43 8h1v1h-1zM14 13h1v1h-1zM48 13h1v1h-1zM12 16h1v1h-1zM50 16h1v1h-1zM10 19h1v1h-1zM52 19h1v1h-1zM8 22h1v1h-1zM54 22h1v1h-1zM7 23h1v1h-1zM55 23h1v1h-1zM5 26h1v1h-1zM57 26h1v1h-1zM3 29h1v1h-1zM59 29h1v1h-1zM2 31h1v1h-1zM60 31h1v1h-1zM30 36h3v1h-3zM27 37h2v1h-2zM34 37h2v1h-2zM25 38h2v1h-2zM36 38h2v1h-2zM24 39h1v1h-1zM38 39h1v1h-1zM23 40h1v1h-1zM39 40h1v1h-1zM22 41h1v1h-1zM40 41h1v1h-1zM21 42h1v1h-1zM41 42h1v1h-1zM21 43h1v1h-1zM41 43h1v1h-1zM20 44h1v1h-1zM42 44h1v1h-1zM20 45h1v1h-1zM42 45h1v1h-1zM20 46h1v1h-1zM42 46h1v1h-1zM20 47h1v1h-1zM42 47h1v1h-1zM20 50h1v1h-1zM42 50h1v1h-1zM20 51h1v1h-1zM42 51h1v1h-1zM20 52h1v1h-1zM42 52h1v1h-1zM21 54h1v1h-1zM41 54h1v1h-1zM22 57h1v1h-1zM40 57h1v1h-1zM23 60h1v1h-1zM39 60h1v1h-1z"/>
<path fill="#54fa05" d="M27 5h1v1h-1zM35 5h1v1h-1zM13 14h1v1h-1zM49 14h1v1h-1zM11 17h1v1h-1zM51 17h1v1h-1zM9 20h1v1h-1zM53 20h1v1h-1zM6 24h1v1h-1zM56 24h1v1h-1zM4 27h1v1h-1zM58 27h1v1h-1zM29 37h5v1h-5zM27 38h2v1h-2zM34 38h2v1h-2zM25 39h2v1h-2zM36 39h2v1h-2zM24 40h1v1h-1zM38 40h1v1h-1zM23 41h1v1h-1zM39 41h1v1h-1zM22 42h1v1h-1zM40 42h1v1h-1zM22 43h1v1h-1zM40 43h1v1h-1zM21 44h1v1h-1zM41 44h1v1h-1zM21 45h1v1h-1zM41 45h1v1h-1zM20 48h1v1h-1zM42 48h1v1h-1zM20 49h1v1h-1zM42 49h1v1h-1zM21 52h1v1h-1zM41 52h1v1h-1zM21 53h1v1h-1zM41 53h1v1h-1zM22 55h1v1h-1zM40 55h1v1h-1zM22 56h1v1h-1zM40 56h1v1h-1zM23 58h1v1h-1zM39 58h1v1h-1zM23 59h1v1h-1zM39 59h1v1h-1z"/>
<path fill="#5efb04" d="M26 5h1v1h-1zM36 5h1v1h-1zM20 7h1v1h-1zM42 7h1v1h-1zM17 9h1v1h-1zM45 9h1v1h-1zM16 10h1v1h-1zM46 10h1v1h-1zM15 11h1v1h-1zM47 11h1v1h-1zM12 15h1v1h-1zM50 15h1v1h-1zM10 18h1v1h-1zM52 18h1v1h-1zM8 21h1v1h-1zM54 21h1v1h-1zM7 22h1v1h-1zM55 22h1v1h-1zM5 25h1v1h-1zM57 25h1v1h-1zM3 28h1v1h-1zM59 28h1v1h-1zM2 30h1v1h-1zM60 30h1v1h-1zM29 38h5v1h-5zM27 39h2v1h-2zM34 39h2v1h-2zM25 40h2v1h-2zM36 40h2v1h-2zM24 41h1v1h-1zM38 41h1v1h-1zM23 42h1v1h-1zM39 42h1v1h-1zM23 43h1v1h-1zM39 43h1v1h-1zM22 44h1v1h-1zM40 44h1v1h-1zM22 45h1v1h-1zM40 45h1v1h-1zM21 46h1v1h-1zM41 46h1v1h-1zM21 47h1v1h-1zM41 47h1v1h-1zM21 48h1v1h-1zM41 48h1v1h-1zM21 49h1v1h-1zM41 49h1v1h-1zM21 50h1v1h-1zM41 50h1v1h-1zM21 51h1v1h-1zM41 51h1v1h-1zM22 53h1v1h-1zM40 53h1v1h-1zM22 54h1v1h-1zM40 54h1v1h-1zM23 56h1v1h-1zM39 56h1v1h-1zM23 57h1v1h-1zM39 57h1v1h-1zM24 59h1v1h-1zM38 59h1v1h-1zM24 60h1v1h-1zM38 60h1v1h-1zM24 61h1v1h-1zM38 61h1v1h-1z"/>
<path fill="#68fc03" d="M22 6h1v1h-1zM40 6h1v1h-1zM18 8h1v1h-1zM44 8h1v1h-1zM14 12h1v1h-1zM48 12h1v1h-1zM9 19h1v1h-1zM53 19h1v1h-1zM6 23h1v1h-1zM56 23h1v1h-1zM4 26h1v1h-1zM58 26h1v1h-1zM29 39h5v1h-5zM27 40h2v1h-2zM34 40h2v1h-2zM25 41h2v1h-2zM36 41h2v1h-2zM24 42h2v1h-2zM37 42h2v1h-2zM24 43h1v1h-1zM38 43h1v1h-1zM23 44h1v1h-1zM39 44h1v1h-1zM22 46h1v1h-1zM40 46h1v1h-1zM22 47h1v1h-1zM40 47h1v1h-1zM22 48h1v1h-1zM40 48h1v1h-1zM22 49h1v1h-1zM40 49h1v1h-1zM22 50h1v1h-1zM40 50h1v1h-1zM22 51h1v1h-1zM40 51h1v1h-1zM22 52h1v1h-1zM40 52h1v1h-1zM23 54h1v1h-1zM39 54h1v1h-1zM23 55h1v1h-1zM39 55h1v1h-1zM24 57h1v1h-1zM38 57h1v1h-1zM24 58h1v1h-1zM38 58h1v1h-1zM25 60h1v1h-1zM37 60h1v1h-1zM25 61h1v1h-1zM37 61h1v1h-1z"/>
<path fill="#72fd02" d="M25 5h1v1h-1zM37 5h1v1h-1zM13 13h1v1h-1zM49 13h1v1h-1zM11 16h1v1h-1zM51 16h1v1h-1zM8 20h1v1h-1zM54 20h1v1h-1zM5 24h1v1h-1zM57 24h1v1h-1zM3 27h1v1h-1zM59 27h1v1h-1zM29 40h5v1h-5zM27 41h2v1h-2zM34 41h2v1h-2zM26 42h1v1h-1zM36 42h1v1h-1zM25 43h1v1h-1zM37 43h1v1h-1zM24 44h1v1h-1zM38 44h1v1h-1zM23 45h1v1h-1zM39 45h1v1h-1zM23 46h1v1h-1zM39 46h1v1h-1zM23 47h1v1h-1zM39 47h1v1h-1zM23 52h1v1h-1zM39 52h1v1h-1zM23 53h1v1h-1zM39 53h1v1h-1zM24 55h1v1h-1zM38 55h1v1h-1zM24 56h1v1h-1zM38 56h1v1h-1zM25 57h1v1h-1zM37 57h1v1h-1zM25 58h1v1h-1zM37 58h1v1h-1zM25 59h1v1h-1zM37 59h1v1h-1zM26 61h1v1h-1zM36 61h1v1h-1z"/>
<path fill="#7cff01" d="M24 5h1v1h-1zM38 5h1v1h-1zM21 6h1v1h-1zM41 6h1v1h-1zM19 7h1v1h-1zM43 7h1v1h-1zM12 14h1v1h-1zM50 14h1v1h-1zM10 17h1v1h-1zM52 17h1v1h-1zM7 21h1v1h-1zM55 21h1v1h-1zM6 22h1v1h-1zM56 22h1v1h-1zM4 25h1v1h-1zM58 25h1v1h-1zM2 29h1v1h-1zM60 29h1v1h-1zM29 41h5v1h-5zM27 42h2v1h-2zM34 42h2v1h-2zM26 43h1v1h-1zM36 43h1v1h-1zM25 44h1v1h-1zM37 44h1v1h-1zM24 45h1v1h-1zM38 45h1v1h-1zM24 46h1v1h-1zM38 46h1v1h-1zM24 47h1v1h-1zM38 47h1v1h-1zM23 48h1v1h-1zM39 48h1v1h-1zM23 49h1v1h-1zM39 49h1v1h-1zM23 50h1v1h-1zM39 50h1v1h-1zM23 51h1v1h-1zM39 51h1v1h-1zM24 53h1v1h-1zM38 53h1v1h-1zM24 54h1v1h-1zM38 54h1v1h-1zM25 56h1v1h-1zM37 56h1v1h-1zM26 58h1v1h-1zM36 58h1v1h-1zM26 59h1v1h-1zM36 59h1v1h-1zM26 60h1v1h-1zM36 60h1v1h-1zM27 61h1v1h-1zM35 61h1v1h-1z"/>
<path fill="#83ff00" d="M16 9h1v1h-1zM46 9h1v1h-1zM15 10h1v1h-1zM47 10h1v1h-1zM9 18h1v1h-1zM53 18h1v1h-1zM5 23h1v1h-1zM57 23h1v1h-1zM29 42h5v1h-5zM27 43h3v1h-3zM33 43h3v1h-3zM26 44h2v1h-2zM35 44h2v1h-2zM25 45h2v1h-2zM36 45h2v1h-2zM25 46h1v1h-1zM37 46h1v1h-1zM25 47h1v1h-1zM37 47h1v1h-1zM24 48h1v1h-1zM38 48h1v1h-1zM24 49h1v1h-1zM38 49h1v1h-1zM24 50h1v1h-1zM38 50h1v1h-1zM24 51h1v1h-1zM38 51h1v1h-1zM24 52h1v1h-1zM38 52h1v1h-1zM25 54h1v1h-1zM37 54h1v1h-1zM25 55h1v1h-1zM37 55h1v1h-1zM26 56h1v1h-1zM36 56h1v1h-1zM26 57h1v1h-1zM36 57h1v1h-1zM27 58h1v1h-1zM35 58h1v1h-1zM27 59h1v1h-1zM35 59h1v1h-1zM27 60h2v1h-2zM34 60h2v1h-2zM28 61h1v1h-1zM34 61h1v1h-1z"/>
<path fill="#89ff00" d="M29 4h5v1h-5zM17 8h1v1h-1zM45 8h1v1h-1zM14 11h1v1h-1zM48 11h1v1h-1zM13 12h1v1h-1zM49 12h1v1h-1zM11 15h1v1h-1zM51 15h1v1h-1zM8 19h1v1h-1zM54 19h1v1h-1zM7 20h1v1h-1zM55 20h1v1h-1zM4 24h1v1h-1zM58 24h1v1h-1zM3 26h1v1h-1zM59 26h1v1h-1zM2 28h1v1h-1zM60 28h1v1h-1zM30 43h3v1h-3zM28 44h3v1h-3zM32 44h3v1h-3zM27 45h1v1h-1zM35 45h1v1h-1zM26 46h1v1h-1zM36 46h1v1h-1zM26 47h1v1h-1zM36 47h1v1h-1zM25 48h1v1h-1zM37 48h1v1h-1zM25 49h1v1h-1zM37 49h1v1h-1zM25 50h1v1h-1zM37 50h1v1h-1zM25 51h1v1h-1zM37 51h1v1h-1zM25 52h1v1h-1zM37 52h1v1h-1zM25 53h1v1h-1zM37 53h1v1h-1zM26 54h1v1h-1zM36 54h1v1h-1zM26 55h1v1h-1zM36 55h1v1h-1zM27 56h1v1h-1zM35 56h1v1h-1zM27 57h2v1h-2zM34 57h2v1h-2zM28 58h1v1h-1zM34 58h1v1h-1zM28 59h2v1h-2zM33 59h2v1h-2zM29 60h5v1h-5zM29 61h5v1h-5zM31 62h1v1h-1z"/>
<path fill="#8fff00" d="M28 4h1v1h-1zM34 4h1v1h-1zM23 5h1v1h-1zM39 5h1v1h-1zM20 6h1v1h-1zM42 6h1v1h-1zM10 16h1v1h-1zM52 16h1v1h-1zM6 21h1v1h-1zM56 21h1v1h-1zM31 44h1v1h-1zM28 45h7v1h-7zM27 46h2v1h-2zM34 46h2v1h-2zM27 47h1v1h-1zM35 47h1v1h-1zM26 48h1v1h-1zM36 48h1v1h-1zM26 49h1v1h-1zM36 49h1v1h-1zM26 50h1v1h-1zM36 50h1v1h-1zM26 51h1v1h-1zM36 51h1v1h-1zM26 52h1v1h-1zM36 52h1v1h-1zM26 53h1v1h-1zM36 53h1v1h-1zM27 54h1v1h-1zM35 54h1v1h-1zM27 55h2v1h-2zM34 55h2v1h-2zM28 56h1v1h-1zM34 56h1v1h-1zM29 57h5v1h-5zM29 58h5v1h-5zM30 59h3v1h-3z"/>
<path fill="#95ff00" d="M27 4h1v1h-1zM35 4h1v1h-1zM18 7h1v1h-1zM44 7h1v1h-1zM12 13h1v1h-1zM50 13h1v1h-1zM9 17h1v1h-1zM53 17h1v1h-1zM5 22h1v1h-1zM57 22h1v1h-1zM3 25h1v1h-1zM59 25h1v1h-1zM2 27h1v1h-1zM60 27h1v1h-1zM29 46h5v1h-5zM28 47h7v1h-7zM27 48h2v1h-2zM34 48h2v1h-2zM27 49h2v1h-2zM34 49h2v1h-2zM27 50h1v1h-1zM35 50h1v1h-1zM27 51h1v1h-1zM35 51h1v1h-1zM27 52h2v1h-2zM34 52h2v1h-2zM27 53h2v1h-2zM34 53h2v1h-2zM28 54h2v1h-2zM33 54h2v1h-2zM29 55h5v1h-5zM29 56h5v1h-5z"/>
<path fill="#9bff00" d="M26 4h1v1h-1zM36 4h1v1h-1zM22 5h1v1h-1zM40 5h1v1h-1zM11 14h1v1h-1zM51 14h1v1h-1zM8 18h1v1h-1zM54 18h1v1h-1zM7 19h1v1h-1zM55 19h1v1h-1zM4 23h1v1h-1zM58 23h1v1h-1zM29 48h5v1h-5zM29 49h5v1h-5zM28 50h7v1h-7zM28 51h7v1h-7zM29 52h5v1h-5zM29 53h5v1h-5zM30 54h3v1h-3z"/>
<path fill="#a1ff00" d="M16 8h1v1h-1zM46 8h1v1h-1zM15 9h1v1h-1zM47 9h1v1h-1zM14 10h1v1h-1zM48 10h1v1h-1zM13 11h1v1h-1zM49 11h1v1h-1zM10 15h1v1h-1zM52 15h1v1h-1zM6 20h1v1h-1zM56 20h1v1h-1z"/>
<path fill="#a7ff00" d="M25 4h1v1h-1zM37 4h1v1h-1zM19 6h1v1h-1zM43 6h1v1h-1zM12 12h1v1h-1zM50 12h1v1h-1zM9 16h1v1h-1zM53 16h1v1h-1zM5 21h1v1h-1zM57 21h1v1h-1zM3 24h1v1h-1zM59 24h1v1h-1zM2 26h1v1h-1zM60 26h1v1h-1z"/>
<path fill="#adff00" d="M21 5h1v1h-1zM41 5h1v1h-1zM17 7h1v1h-1zM45 7h1v1h-1zM8 17h1v1h-1zM54 17h1v1h-1zM4 22h1v1h-1zM58 22h1v1h-1z"/>
<path fill="#b3ff00" d="M24 4h1v1h-1zM38 4h1v1h-1zM11 13h1v1h-1zM51 13h1v1h-1zM7 18h1v1h-1zM55 18h1v1h-1zM6 19h1v1h-1zM56 19h1v1h-1z"/>
<path fill="#baff00" d="M30 3h3v1h-3zM10 14h1v1h-1zM52 14h1v1h-1zM5 20h1v1h-1zM57 20h1v1h-1zM3 23h1v1h-1zM59 23h1v1h-1zM2 25h1v1h-1zM60 25h1v1h-1z"/>
<path fill="#c0ff00" d="M28 3h2v1h-2zM33 3h2v1h-2zM23 4h1v1h-1zM39 4h1v1h-1zM20 5h1v1h-1zM42 5h1v1h-1zM18 6h1v1h-1zM44 6h1v1h-1zM15 8h1v1h-1zM47 8h1v1h-1zM14 9h1v1h-1zM48 9h1v1h-1zM13 10h1v1h-1zM49 10h1v1h-1zM9 15h1v1h-1zM53 15h1v1h-1zM4 21h1v1h-1zM58 21h1v1h-1z"/>
<path fill="#c4fc00" d="M27 3h1v1h-1zM35 3h1v1h-1zM16 7h1v1h-1zM46 7h1v1h-1zM12 11h1v1h-1zM50 11h1v1h-1zM8 16h1v1h-1zM54 16h1v1h-1z"/>
<path fill="#c8fa00" d="M22 4h1v1h-1zM40 4h1v1h-1zM11 12h1v1h-1zM51 12h1v1h-1zM7 17h1v1h-1zM55 17h1v1h-1zM6 18h1v1h-1zM56 18h1v1h-1zM3 22h1v1h-1zM59 22h1v1h-1z"/>
<path fill="#ccf700" d="M26 3h1v1h-1zM36 3h1v1h-1zM19 5h1v1h-1zM43 5h1v1h-1zM10 13h1v1h-1zM52 13h1v1h-1zM5 19h1v1h-1zM57 19h1v1h-1z"/>
<path fill="#d0f500" d="M25 3h1v1h-1zM37 3h1v1h-1zM17 6h1v1h-1zM45 6h1v1h-1zM9 14h1v1h-1zM53 14h1v1h-1zM4 20h1v1h-1zM58 20h1v1h-1z"/>
<path fill="#d5f200" d="M21 4h1v1h-1zM41 4h1v1h-1zM14 8h1v1h-1zM48 8h1v1h-1zM13 9h1v1h-1zM49 9h1v1h-1zM12 10h1v1h-1zM50 10h1v1h-1zM8 15h1v1h-1zM54 15h1v1h-1zM3 21h1v1h-1zM59 21h1v1h-1z"/>
<path fill="#d9ee00" d="M24 3h1v1h-1zM38 3h1v1h-1zM15 7h1v1h-1zM47 7h1v1h-1zM11 11h1v1h-1zM51 11h1v1h-1zM7 16h1v1h-1zM55 16h1v1h-1zM6 17h1v1h-1zM56 17h1v1h-1z"/>
<path fill="#dde400" d="M18 5h1v1h-1zM44 5h1v1h-1zM10 12h1v1h-1zM52 12h1v1h-1zM5 18h1v1h-1zM57 18h1v1h-1z"/>
<path fill="#e1d900" d="M29 2h5v1h-5zM23 3h1v1h-1zM39 3h1v1h-1zM20 4h1v1h-1zM42 4h1v1h-1zM16 6h1v1h-1zM46 6h1v1h-1zM9 13h1v1h-1zM53 13h1v1h-1zM4 19h1v1h-1zM58 19h1v1h-1z"/>
<path fill="#e5cf00" d="M28 2h1v1h-1zM34 2h1v1h-1zM8 14h1v1h-1zM54 14h1v1h-1z"/>
<path fill="#e9c400" d="M27 2h1v1h-1zM35 2h1v1h-1zM7 15h1v1h-1zM55 15h1v1h-1z"/>
<path fill="#ebb800" d="M26 2h1v1h-1zM36 2h1v1h-1zM22 3h1v1h-1zM40 3h1v1h-1zM19 4h1v1h-1zM43 4h1v1h-1zM17 5h1v1h-1zM45 5h1v1h-1zM14 7h1v1h-1zM48 7h1v1h-1zM13 8h1v1h-1zM49 8h1v1h-1zM12 9h1v1h-1zM50 9h1v1h-1zM11 10h1v1h-1zM51 10h1v1h-1z"/>
<path fill="#eeac00" d="M10 11h1v1h-1zM52 11h1v1h-1z"/>
<path fill="#f09e00" d="M25 2h1v1h-1zM37 2h1v1h-1zM21 3h1v1h-1zM41 3h1v1h-1zM15 6h1v1h-1zM47 6h1v1h-1zM9 12h1v1h-1zM53 12h1v1h-1z"/>
<path fill="#f08300" d="M8 13h1v1h-1zM54 13h1v1h-1z"/>
<path fill="#f06900" d="M24 2h1v1h-1zM38 2h1v1h-1z"/>
<path fill="#f04e00" d="M31 1h1v1h-1z"/>
<path fill="#ef0700" d="M6 16h1v1h-1zM56 16h1v1h-1zM5 17h1v1h-1zM57 17h1v1h-1z"/>
<path fill="#e60400" d="M27 1h4v1h-4zM32 1h4v1h-4zM22 2h2v1h-2zM39 2h2v1h-2zM20 3h1v1h-1zM42 3h1v1h-1zM17 4h2v1h-2zM44 4h2v1h-2zM16 5h1v1h-1zM46 5h1v1h-1zM14 6h1v1h-1zM48 6h1v1h-1zM13 7h1v1h-1zM49 7h1v1h-1zM12 8h1v1h-1zM50 8h1v1h-1zM11 9h1v1h-1zM51 9h1v1h-1zM10 10h1v1h-1zM52 10h1v1h-1zM9 11h1v1h-1zM53 11h1v1h-1zM8 12h1v1h-1zM54 12h1v1h-1zM7 14h1v1h-1zM55 14h1v1h-1zM6 15h1v1h-1zM56 15h1v1h-1z"/>
<path fill="#de0200" d="M31 0h1v1h-1zM24 1h3v1h-3zM36 1h3v1h-3zM21 2h1v1h-1zM41 2h1v1h-1zM19 3h1v1h-1zM43 3h1v1h-1zM15 5h1v1h-1zM47 5h1v1h-1zM7 13h1v1h-1zM55 13h1v1h-1z"/>
</g>
</g>
<path d="M159.9 73.8V511.7H598.3" fill="none" stroke="#3a3a55" stroke-opacity="0.55" stroke-width="1.2"/>
<rect x="618.8" y="109.4" width="41.2" height="317.4" fill="url(#cb)" filter="url(#bl2)"/>
<text class="ts" x="663.0" y="108.9" font-size="22.0" text-anchor="start">0.203</text>
<text class="ts" x="663.0" y="142.2" font-size="22.0" text-anchor="start">0.174</text>
<text class="ts" x="663.0" y="175.5" font-size="22.0" text-anchor="start">0.144</text>
<text class="ts" x="663.0" y="208.9" font-size="22.0" text-anchor="start">0.115</text>
<text class="ts" x="663.0" y="242.2" font-size="22.0" text-anchor="start">0.086</text>
<text class="ts" x="663.0" y="275.6" font-size="22.0" text-anchor="start">0.056</text>
<text class="ts" x="663.0" y="308.9" font-size="22.0" text-anchor="start">0.027</text>
<text class="ts" x="663.0" y="342.2" font-size="22.0" text-anchor="start">−0.002</text>
<text class="ts" x="663.0" y="375.6" font-size="22.0" text-anchor="start">−0.032</text>
<text class="ts" x="663.0" y="408.9" font-size="22.0" text-anchor="start">−0.061</text>
<text class="ts" x="663.0" y="442.3" font-size="22.0" text-anchor="start">−0.091</text>
<text class="tm" x="661.5" y="469.0" font-size="16.5" text-anchor="start" style="stroke-width:0.15px">Waves</text>
<text class="ts" x="375.0" y="59.0" font-size="40.0" text-anchor="middle">OBJ：<tspan dx="3">1.18°</tspan></text>
<text class="ts" x="34.0" y="86.0" font-size="37.0" text-anchor="start" letter-spacing="1.2">(a)</text>
<text class="ts" x="150.5" y="84.6" font-size="29.0" text-anchor="end">1.0</text>
<text class="ts" x="153.0" y="300.6" font-size="29.0" text-anchor="end">0</text>
<text class="ts" x="150.5" y="513.6" font-size="29.0" text-anchor="end">−1.0</text>
<text class="ts" x="159.5" y="541.6" font-size="29.0" text-anchor="middle">−1.0</text>
<text class="ts" x="380.0" y="541.6" font-size="29.0" text-anchor="middle">0</text>
<text class="ts" x="602.5" y="541.6" font-size="29.0" text-anchor="middle">1.0</text>
<text class="tm" x="381.5" y="576.1" font-size="23.6" text-anchor="middle">X-Pupil (Rel. Units)</text>
<text class="tm" font-size="23.6" text-anchor="middle" transform="translate(50.0 290.0) rotate(-90)" y="7.1">Y-Pupil (Rel. Units)</text>
</g>
<g id="pb">
<g filter="url(#bl)">
<g transform="translate(147.60 642.80) scale(7.21746 6.85238)" shape-rendering="crispEdges">
<rect x="0" y="0" width="63" height="63" fill="#300fc8"/>
<path fill="#2a1ccb" d="M5 25h1v1h-1zM57 25h1v1h-1zM4 26h1v1h-1zM58 26h1v1h-1zM4 27h1v1h-1zM58 27h1v1h-1zM4 28h1v1h-1zM58 28h1v1h-1zM4 29h1v1h-1zM58 29h1v1h-1zM4 30h1v1h-1zM58 30h1v1h-1zM4 31h1v1h-1zM58 31h1v1h-1zM4 32h1v1h-1zM58 32h1v1h-1zM4 33h1v1h-1zM58 33h1v1h-1zM4 34h2v1h-2zM57 34h2v1h-2zM4 35h2v1h-2zM57 35h2v1h-2zM4 36h2v1h-2zM57 36h2v1h-2zM5 37h1v1h-1zM57 37h1v1h-1z"/>
<path fill="#2427ce" d="M5 22h1v1h-1zM57 22h1v1h-1zM5 23h1v1h-1zM57 23h1v1h-1zM5 24h1v1h-1zM57 24h1v1h-1zM5 27h1v1h-1zM57 27h1v1h-1zM5 28h1v1h-1zM57 28h1v1h-1zM5 29h1v1h-1zM57 29h1v1h-1zM5 30h1v1h-1zM57 30h1v1h-1zM5 31h1v1h-1zM57 31h1v1h-1zM5 32h1v1h-1zM57 32h1v1h-1zM5 33h1v1h-1zM57 33h1v1h-1zM5 38h1v1h-1zM57 38h1v1h-1zM5 39h1v1h-1zM57 39h1v1h-1zM5 40h1v1h-1zM57 40h1v1h-1z"/>
<path fill="#1e33d1" d="M5 26h1v1h-1zM57 26h1v1h-1zM6 40h1v1h-1zM56 40h1v1h-1zM6 41h1v1h-1zM56 41h1v1h-1z"/>
<path fill="#1742d6" d="M6 35h1v1h-1zM56 35h1v1h-1zM6 36h1v1h-1zM56 36h1v1h-1zM6 37h1v1h-1zM56 37h1v1h-1zM6 38h1v1h-1zM56 38h1v1h-1zM6 39h1v1h-1zM56 39h1v1h-1zM6 42h1v1h-1zM56 42h1v1h-1zM6 43h1v1h-1zM56 43h1v1h-1z"/>
<path fill="#0f52db" d="M6 28h1v1h-1zM56 28h1v1h-1zM6 29h1v1h-1zM56 29h1v1h-1zM6 30h1v1h-1zM56 30h1v1h-1zM6 31h1v1h-1zM56 31h1v1h-1zM6 32h1v1h-1zM56 32h1v1h-1zM6 33h1v1h-1zM56 33h1v1h-1zM6 34h1v1h-1zM56 34h1v1h-1z"/>
<path fill="#0860e0" d="M6 25h1v1h-1zM56 25h1v1h-1zM6 26h1v1h-1zM56 26h1v1h-1zM6 27h1v1h-1zM56 27h1v1h-1zM7 41h1v1h-1zM55 41h1v1h-1zM7 42h1v1h-1zM55 42h1v1h-1zM7 43h1v1h-1zM55 43h1v1h-1zM7 44h1v1h-1zM55 44h1v1h-1zM7 45h1v1h-1zM55 45h1v1h-1z"/>
<path fill="#056ddb" d="M6 24h1v1h-1zM56 24h1v1h-1zM7 39h1v1h-1zM55 39h1v1h-1zM7 40h1v1h-1zM55 40h1v1h-1zM7 46h1v1h-1zM55 46h1v1h-1z"/>
<path fill="#0379d6" d="M6 23h1v1h-1zM56 23h1v1h-1zM7 36h1v1h-1zM55 36h1v1h-1zM7 37h1v1h-1zM55 37h1v1h-1zM7 38h1v1h-1zM55 38h1v1h-1zM8 45h1v1h-1zM54 45h1v1h-1zM8 46h1v1h-1zM54 46h1v1h-1zM8 47h1v1h-1zM54 47h1v1h-1z"/>
<path fill="#0185d1" d="M6 22h1v1h-1zM56 22h1v1h-1zM7 34h1v1h-1zM55 34h1v1h-1zM7 35h1v1h-1zM55 35h1v1h-1zM8 43h1v1h-1zM54 43h1v1h-1zM8 44h1v1h-1zM54 44h1v1h-1z"/>
<path fill="#0090ca" d="M6 21h1v1h-1zM56 21h1v1h-1zM7 26h1v1h-1zM55 26h1v1h-1zM7 27h1v1h-1zM55 27h1v1h-1zM7 28h1v1h-1zM55 28h1v1h-1zM7 29h1v1h-1zM55 29h1v1h-1zM7 30h1v1h-1zM55 30h1v1h-1zM7 31h1v1h-1zM55 31h1v1h-1zM7 32h1v1h-1zM55 32h1v1h-1zM7 33h1v1h-1zM55 33h1v1h-1zM8 42h1v1h-1zM54 42h1v1h-1zM9 47h1v1h-1zM53 47h1v1h-1zM9 48h1v1h-1zM53 48h1v1h-1zM9 49h1v1h-1zM53 49h1v1h-1z"/>
<path fill="#009ac3" d="M6 20h1v1h-1zM56 20h1v1h-1zM7 23h1v1h-1zM55 23h1v1h-1zM7 24h1v1h-1zM55 24h1v1h-1zM7 25h1v1h-1zM55 25h1v1h-1zM8 40h1v1h-1zM54 40h1v1h-1zM8 41h1v1h-1zM54 41h1v1h-1zM9 46h1v1h-1zM53 46h1v1h-1z"/>
<path fill="#00a4bb" d="M6 19h1v1h-1zM56 19h1v1h-1zM7 21h1v1h-1zM55 21h1v1h-1zM7 22h1v1h-1zM55 22h1v1h-1zM8 39h1v1h-1zM54 39h1v1h-1zM9 45h1v1h-1zM53 45h1v1h-1zM10 49h1v1h-1zM52 49h1v1h-1zM10 50h1v1h-1zM52 50h1v1h-1z"/>
<path fill="#00aeb4" d="M7 20h1v1h-1zM55 20h1v1h-1zM8 37h1v1h-1zM54 37h1v1h-1zM8 38h1v1h-1zM54 38h1v1h-1zM9 43h1v1h-1zM53 43h1v1h-1zM9 44h1v1h-1zM53 44h1v1h-1zM10 47h1v1h-1zM52 47h1v1h-1zM10 48h1v1h-1zM52 48h1v1h-1zM11 50h1v1h-1zM51 50h1v1h-1zM11 51h1v1h-1zM51 51h1v1h-1zM11 52h1v1h-1zM51 52h1v1h-1zM31 62h1v1h-1z"/>
<path fill="#00b7ac" d="M7 19h1v1h-1zM55 19h1v1h-1zM8 35h1v1h-1zM54 35h1v1h-1zM8 36h1v1h-1zM54 36h1v1h-1zM9 42h1v1h-1zM53 42h1v1h-1zM11 49h1v1h-1zM51 49h1v1h-1zM12 52h1v1h-1zM50 52h1v1h-1zM12 53h1v1h-1zM50 53h1v1h-1zM13 54h1v1h-1zM49 54h1v1h-1zM27 60h9v1h-9zM25 61h13v1h-13z"/>
<path fill="#00c1a5" d="M7 18h1v1h-1zM55 18h1v1h-1zM8 32h1v1h-1zM54 32h1v1h-1zM8 33h1v1h-1zM54 33h1v1h-1zM8 34h1v1h-1zM54 34h1v1h-1zM9 41h1v1h-1zM53 41h1v1h-1zM10 46h1v1h-1zM52 46h1v1h-1zM12 51h1v1h-1zM50 51h1v1h-1zM13 53h1v1h-1zM49 53h1v1h-1zM14 54h1v1h-1zM48 54h1v1h-1zM14 55h2v1h-2zM47 55h2v1h-2zM15 56h2v1h-2zM46 56h2v1h-2zM17 57h1v1h-1zM45 57h1v1h-1zM20 59h4v1h-4zM39 59h4v1h-4zM22 60h5v1h-5zM36 60h5v1h-5z"/>
<path fill="#00ca9b" d="M7 17h1v1h-1zM55 17h1v1h-1zM8 19h1v1h-1zM54 19h1v1h-1zM8 20h1v1h-1zM54 20h1v1h-1zM8 21h1v1h-1zM54 21h1v1h-1zM8 22h1v1h-1zM54 22h1v1h-1zM8 23h1v1h-1zM54 23h1v1h-1zM8 24h1v1h-1zM54 24h1v1h-1zM8 25h1v1h-1zM54 25h1v1h-1zM8 26h1v1h-1zM54 26h1v1h-1zM8 27h1v1h-1zM54 27h1v1h-1zM8 28h1v1h-1zM54 28h1v1h-1zM8 29h1v1h-1zM54 29h1v1h-1zM8 30h1v1h-1zM54 30h1v1h-1zM8 31h1v1h-1zM54 31h1v1h-1zM9 40h1v1h-1zM53 40h1v1h-1zM10 45h1v1h-1zM52 45h1v1h-1zM11 48h1v1h-1zM51 48h1v1h-1zM12 50h1v1h-1zM50 50h1v1h-1zM13 52h1v1h-1zM49 52h1v1h-1zM14 53h1v1h-1zM48 53h1v1h-1zM15 54h1v1h-1zM47 54h1v1h-1zM16 55h1v1h-1zM46 55h1v1h-1zM17 56h1v1h-1zM45 56h1v1h-1zM18 57h1v1h-1zM44 57h1v1h-1zM18 58h4v1h-4zM41 58h4v1h-4zM24 59h15v1h-15z"/>
<path fill="#00d28c" d="M7 16h1v1h-1zM55 16h1v1h-1zM8 17h1v1h-1zM54 17h1v1h-1zM8 18h1v1h-1zM54 18h1v1h-1zM9 39h1v1h-1zM53 39h1v1h-1zM10 44h1v1h-1zM52 44h1v1h-1zM11 47h1v1h-1zM51 47h1v1h-1zM13 51h1v1h-1zM49 51h1v1h-1zM18 56h1v1h-1zM44 56h1v1h-1zM19 57h2v1h-2zM42 57h2v1h-2zM22 58h2v1h-2zM39 58h2v1h-2z"/>
<path fill="#00d97d" d="M8 15h1v1h-1zM54 15h1v1h-1zM8 16h1v1h-1zM54 16h1v1h-1zM9 38h1v1h-1zM53 38h1v1h-1zM10 43h1v1h-1zM52 43h1v1h-1zM12 49h1v1h-1zM50 49h1v1h-1zM14 52h1v1h-1zM48 52h1v1h-1zM15 53h1v1h-1zM47 53h1v1h-1zM16 54h1v1h-1zM46 54h1v1h-1zM17 55h1v1h-1zM45 55h1v1h-1zM21 57h1v1h-1zM41 57h1v1h-1zM24 58h3v1h-3zM36 58h3v1h-3z"/>
<path fill="#01e16e" d="M9 17h1v1h-1zM53 17h1v1h-1zM9 18h1v1h-1zM53 18h1v1h-1zM9 19h1v1h-1zM53 19h1v1h-1zM9 36h1v1h-1zM53 36h1v1h-1zM9 37h1v1h-1zM53 37h1v1h-1zM11 46h1v1h-1zM51 46h1v1h-1zM12 48h1v1h-1zM50 48h1v1h-1zM13 50h1v1h-1zM49 50h1v1h-1zM18 55h1v1h-1zM44 55h1v1h-1zM19 56h1v1h-1zM43 56h1v1h-1zM22 57h1v1h-1zM40 57h1v1h-1zM27 58h9v1h-9z"/>
<path fill="#05e560" d="M9 14h1v1h-1zM53 14h1v1h-1zM9 15h1v1h-1zM53 15h1v1h-1zM9 16h1v1h-1zM53 16h1v1h-1zM9 20h1v1h-1zM53 20h1v1h-1zM9 21h1v1h-1zM53 21h1v1h-1zM9 22h1v1h-1zM53 22h1v1h-1zM9 23h1v1h-1zM53 23h1v1h-1zM9 34h1v1h-1zM53 34h1v1h-1zM9 35h1v1h-1zM53 35h1v1h-1zM10 42h1v1h-1zM52 42h1v1h-1zM11 45h1v1h-1zM51 45h1v1h-1zM14 51h1v1h-1zM48 51h1v1h-1zM17 54h1v1h-1zM45 54h1v1h-1zM20 56h1v1h-1zM42 56h1v1h-1zM23 57h1v1h-1zM39 57h1v1h-1z"/>
<path fill="#0aea51" d="M9 13h1v1h-1zM53 13h1v1h-1zM9 24h1v1h-1zM53 24h1v1h-1zM9 25h1v1h-1zM53 25h1v1h-1zM9 26h1v1h-1zM53 26h1v1h-1zM9 27h1v1h-1zM53 27h1v1h-1zM9 31h1v1h-1zM53 31h1v1h-1zM9 32h1v1h-1zM53 32h1v1h-1zM9 33h1v1h-1zM53 33h1v1h-1zM10 41h1v1h-1zM52 41h1v1h-1zM12 47h1v1h-1zM50 47h1v1h-1zM13 49h1v1h-1zM49 49h1v1h-1zM15 52h1v1h-1zM47 52h1v1h-1zM16 53h1v1h-1zM46 53h1v1h-1zM19 55h1v1h-1zM43 55h1v1h-1zM21 56h1v1h-1zM41 56h1v1h-1zM24 57h1v1h-1zM38 57h1v1h-1z"/>
<path fill="#0fef42" d="M10 13h1v1h-1zM52 13h1v1h-1zM10 14h1v1h-1zM52 14h1v1h-1zM10 15h1v1h-1zM52 15h1v1h-1zM10 16h1v1h-1zM52 16h1v1h-1zM10 17h1v1h-1zM52 17h1v1h-1zM9 28h1v1h-1zM53 28h1v1h-1zM9 29h1v1h-1zM53 29h1v1h-1zM9 30h1v1h-1zM53 30h1v1h-1zM10 40h1v1h-1zM52 40h1v1h-1zM11 44h1v1h-1zM51 44h1v1h-1zM25 57h2v1h-2zM36 57h2v1h-2z"/>
<path fill="#18f136" d="M10 12h1v1h-1zM52 12h1v1h-1zM10 18h1v1h-1zM52 18h1v1h-1zM10 19h1v1h-1zM52 19h1v1h-1zM10 39h1v1h-1zM52 39h1v1h-1zM12 46h1v1h-1zM50 46h1v1h-1zM14 50h1v1h-1zM48 50h1v1h-1zM15 51h1v1h-1zM47 51h1v1h-1zM17 53h1v1h-1zM45 53h1v1h-1zM18 54h1v1h-1zM44 54h1v1h-1zM20 55h1v1h-1zM42 55h1v1h-1zM22 56h1v1h-1zM40 56h1v1h-1zM27 57h3v1h-3zM33 57h3v1h-3z"/>
<path fill="#22f32b" d="M11 11h1v1h-1zM51 11h1v1h-1zM11 12h1v1h-1zM51 12h1v1h-1zM11 13h1v1h-1zM51 13h1v1h-1zM11 14h1v1h-1zM51 14h1v1h-1zM11 15h1v1h-1zM51 15h1v1h-1zM10 20h1v1h-1zM52 20h1v1h-1zM10 21h1v1h-1zM52 21h1v1h-1zM10 37h1v1h-1zM52 37h1v1h-1zM10 38h1v1h-1zM52 38h1v1h-1zM11 43h1v1h-1zM51 43h1v1h-1zM13 48h1v1h-1zM49 48h1v1h-1zM16 52h1v1h-1zM46 52h1v1h-1zM23 56h1v1h-1zM39 56h1v1h-1zM30 57h3v1h-3z"/>
<path fill="#2cf51f" d="M11 10h1v1h-1zM51 10h1v1h-1zM11 16h1v1h-1zM51 16h1v1h-1zM11 17h1v1h-1zM51 17h1v1h-1zM10 22h1v1h-1zM52 22h1v1h-1zM10 23h1v1h-1zM52 23h1v1h-1zM10 34h1v1h-1zM52 34h1v1h-1zM10 35h1v1h-1zM52 35h1v1h-1zM10 36h1v1h-1zM52 36h1v1h-1zM11 42h1v1h-1zM51 42h1v1h-1zM12 45h1v1h-1zM50 45h1v1h-1zM14 49h1v1h-1zM48 49h1v1h-1zM19 54h1v1h-1zM43 54h1v1h-1zM21 55h1v1h-1zM41 55h1v1h-1zM24 56h1v1h-1zM38 56h1v1h-1z"/>
<path fill="#36f613" d="M12 10h1v1h-1zM50 10h1v1h-1zM12 11h1v1h-1zM50 11h1v1h-1zM12 12h1v1h-1zM50 12h1v1h-1zM12 13h1v1h-1zM50 13h1v1h-1zM12 14h1v1h-1zM50 14h1v1h-1zM11 18h1v1h-1zM51 18h1v1h-1zM10 24h1v1h-1zM52 24h1v1h-1zM10 25h1v1h-1zM52 25h1v1h-1zM10 26h1v1h-1zM52 26h1v1h-1zM10 27h1v1h-1zM52 27h1v1h-1zM10 28h1v1h-1zM52 28h1v1h-1zM10 29h1v1h-1zM52 29h1v1h-1zM10 30h1v1h-1zM52 30h1v1h-1zM10 31h1v1h-1zM52 31h1v1h-1zM10 32h1v1h-1zM52 32h1v1h-1zM10 33h1v1h-1zM52 33h1v1h-1zM11 41h1v1h-1zM51 41h1v1h-1zM13 47h1v1h-1zM49 47h1v1h-1zM18 53h1v1h-1zM44 53h1v1h-1zM25 56h1v1h-1zM37 56h1v1h-1z"/>
<path fill="#40f808" d="M12 9h1v1h-1zM50 9h1v1h-1zM13 10h1v1h-1zM49 10h1v1h-1zM13 11h1v1h-1zM49 11h1v1h-1zM12 15h1v1h-1zM50 15h1v1h-1zM11 19h1v1h-1zM51 19h1v1h-1zM11 40h1v1h-1zM51 40h1v1h-1zM12 44h1v1h-1zM50 44h1v1h-1zM15 50h1v1h-1zM47 50h1v1h-1zM16 51h1v1h-1zM46 51h1v1h-1zM17 52h1v1h-1zM45 52h1v1h-1zM20 54h1v1h-1zM42 54h1v1h-1zM22 55h1v1h-1zM40 55h1v1h-1zM26 56h1v1h-1zM36 56h1v1h-1z"/>
<path fill="#4af907" d="M13 8h1v1h-1zM49 8h1v1h-1zM13 9h1v1h-1zM49 9h1v1h-1zM13 12h1v1h-1zM49 12h1v1h-1zM13 13h1v1h-1zM49 13h1v1h-1zM12 16h1v1h-1zM50 16h1v1h-1zM11 20h1v1h-1zM51 20h1v1h-1zM11 21h1v1h-1zM51 21h1v1h-1zM11 37h1v1h-1zM51 37h1v1h-1zM11 38h1v1h-1zM51 38h1v1h-1zM11 39h1v1h-1zM51 39h1v1h-1zM13 46h1v1h-1zM49 46h1v1h-1zM14 48h1v1h-1zM48 48h1v1h-1zM23 55h1v1h-1zM39 55h1v1h-1zM27 56h3v1h-3zM33 56h3v1h-3z"/>
<path fill="#54fa05" d="M14 7h1v1h-1zM48 7h1v1h-1zM14 8h1v1h-1zM48 8h1v1h-1zM14 9h1v1h-1zM48 9h1v1h-1zM14 10h1v1h-1zM48 10h1v1h-1zM14 11h1v1h-1zM48 11h1v1h-1zM14 12h1v1h-1zM48 12h1v1h-1zM13 14h1v1h-1zM49 14h1v1h-1zM13 15h1v1h-1zM49 15h1v1h-1zM12 17h1v1h-1zM50 17h1v1h-1zM12 18h1v1h-1zM50 18h1v1h-1zM11 22h1v1h-1zM51 22h1v1h-1zM11 23h1v1h-1zM51 23h1v1h-1zM11 24h1v1h-1zM51 24h1v1h-1zM11 33h1v1h-1zM51 33h1v1h-1zM11 34h1v1h-1zM51 34h1v1h-1zM11 35h1v1h-1zM51 35h1v1h-1zM11 36h1v1h-1zM51 36h1v1h-1zM12 43h1v1h-1zM50 43h1v1h-1zM15 49h1v1h-1zM47 49h1v1h-1zM19 53h1v1h-1zM43 53h1v1h-1zM21 54h1v1h-1zM41 54h1v1h-1zM30 56h3v1h-3z"/>
<path fill="#5efb04" d="M15 6h1v1h-1zM47 6h1v1h-1zM15 7h1v1h-1zM47 7h1v1h-1zM15 8h1v1h-1zM47 8h1v1h-1zM15 9h1v1h-1zM47 9h1v1h-1zM15 10h1v1h-1zM47 10h1v1h-1zM15 11h1v1h-1zM47 11h1v1h-1zM14 13h1v1h-1zM48 13h1v1h-1zM13 16h1v1h-1zM49 16h1v1h-1zM12 19h1v1h-1zM50 19h1v1h-1zM11 25h1v1h-1zM51 25h1v1h-1zM11 26h1v1h-1zM51 26h1v1h-1zM11 27h1v1h-1zM51 27h1v1h-1zM11 28h1v1h-1zM51 28h1v1h-1zM11 29h1v1h-1zM51 29h1v1h-1zM11 30h1v1h-1zM51 30h1v1h-1zM11 31h1v1h-1zM51 31h1v1h-1zM11 32h1v1h-1zM51 32h1v1h-1zM12 41h1v1h-1zM50 41h1v1h-1zM12 42h1v1h-1zM50 42h1v1h-1zM13 45h1v1h-1zM49 45h1v1h-1zM16 50h1v1h-1zM46 50h1v1h-1zM18 52h1v1h-1zM44 52h1v1h-1zM24 55h1v1h-1zM38 55h1v1h-1z"/>
<path fill="#68fc03" d="M16 6h1v1h-1zM46 6h1v1h-1zM16 7h2v1h-2zM45 7h2v1h-2zM16 8h2v1h-2zM45 8h2v1h-2zM16 9h1v1h-1zM46 9h1v1h-1zM16 10h1v1h-1zM46 10h1v1h-1zM15 12h1v1h-1zM47 12h1v1h-1zM14 14h1v1h-1zM48 14h1v1h-1zM13 17h1v1h-1zM49 17h1v1h-1zM12 20h1v1h-1zM50 20h1v1h-1zM12 21h1v1h-1zM50 21h1v1h-1zM12 39h1v1h-1zM50 39h1v1h-1zM12 40h1v1h-1zM50 40h1v1h-1zM14 47h1v1h-1zM48 47h1v1h-1zM17 51h1v1h-1zM45 51h1v1h-1zM22 54h1v1h-1zM40 54h1v1h-1zM25 55h1v1h-1zM37 55h1v1h-1z"/>
<path fill="#72fd02" d="M18 4h2v1h-2zM43 4h2v1h-2zM17 5h3v1h-3zM43 5h3v1h-3zM17 6h3v1h-3zM43 6h3v1h-3zM18 7h1v1h-1zM44 7h1v1h-1zM18 8h1v1h-1zM44 8h1v1h-1zM17 9h1v1h-1zM45 9h1v1h-1zM17 10h1v1h-1zM45 10h1v1h-1zM16 11h1v1h-1zM46 11h1v1h-1zM15 13h1v1h-1zM47 13h1v1h-1zM14 15h1v1h-1zM48 15h1v1h-1zM13 18h1v1h-1zM49 18h1v1h-1zM12 22h1v1h-1zM50 22h1v1h-1zM12 23h1v1h-1zM50 23h1v1h-1zM12 36h1v1h-1zM50 36h1v1h-1zM12 37h1v1h-1zM50 37h1v1h-1zM12 38h1v1h-1zM50 38h1v1h-1zM13 43h1v1h-1zM49 43h1v1h-1zM13 44h1v1h-1zM49 44h1v1h-1zM15 48h1v1h-1zM47 48h1v1h-1zM20 53h1v1h-1zM42 53h1v1h-1zM26 55h2v1h-2zM35 55h2v1h-2z"/>
<path fill="#7cff01" d="M20 3h2v1h-2zM41 3h2v1h-2zM20 4h2v1h-2zM41 4h2v1h-2zM20 5h2v1h-2zM41 5h2v1h-2zM20 6h2v1h-2zM41 6h2v1h-2zM19 7h3v1h-3zM41 7h3v1h-3zM19 8h2v1h-2zM42 8h2v1h-2zM18 9h2v1h-2zM43 9h2v1h-2zM18 10h1v1h-1zM44 10h1v1h-1zM17 11h1v1h-1zM45 11h1v1h-1zM16 12h1v1h-1zM46 12h1v1h-1zM16 13h1v1h-1zM46 13h1v1h-1zM15 14h1v1h-1zM47 14h1v1h-1zM14 16h1v1h-1zM48 16h1v1h-1zM13 19h1v1h-1zM49 19h1v1h-1zM12 24h1v1h-1zM50 24h1v1h-1zM12 25h1v1h-1zM50 25h1v1h-1zM12 26h1v1h-1zM50 26h1v1h-1zM12 27h1v1h-1zM50 27h1v1h-1zM12 28h1v1h-1zM50 28h1v1h-1zM12 29h1v1h-1zM50 29h1v1h-1zM12 30h1v1h-1zM50 30h1v1h-1zM12 31h1v1h-1zM50 31h1v1h-1zM12 32h1v1h-1zM50 32h1v1h-1zM12 33h1v1h-1zM50 33h1v1h-1zM12 34h1v1h-1zM50 34h1v1h-1zM12 35h1v1h-1zM50 35h1v1h-1zM13 42h1v1h-1zM49 42h1v1h-1zM14 46h1v1h-1zM48 46h1v1h-1zM16 49h1v1h-1zM46 49h1v1h-1zM19 52h1v1h-1zM43 52h1v1h-1zM23 54h1v1h-1zM39 54h1v1h-1zM28 55h7v1h-7z"/>
<path fill="#83ff00" d="M25 1h1v1h-1zM37 1h1v1h-1zM22 2h4v1h-4zM37 2h4v1h-4zM22 3h4v1h-4zM37 3h4v1h-4zM22 4h5v1h-5zM36 4h5v1h-5zM22 5h5v1h-5zM36 5h5v1h-5zM22 6h4v1h-4zM37 6h4v1h-4zM22 7h3v1h-3zM38 7h3v1h-3zM21 8h2v1h-2zM40 8h2v1h-2zM20 9h2v1h-2zM41 9h2v1h-2zM19 10h1v1h-1zM43 10h1v1h-1zM18 11h1v1h-1zM44 11h1v1h-1zM17 12h1v1h-1zM45 12h1v1h-1zM16 14h1v1h-1zM46 14h1v1h-1zM15 15h1v1h-1zM47 15h1v1h-1zM14 17h1v1h-1zM48 17h1v1h-1zM14 18h1v1h-1zM48 18h1v1h-1zM13 20h1v1h-1zM49 20h1v1h-1zM13 21h1v1h-1zM49 21h1v1h-1zM13 40h1v1h-1zM49 40h1v1h-1zM13 41h1v1h-1zM49 41h1v1h-1zM14 45h1v1h-1zM48 45h1v1h-1zM15 47h1v1h-1zM47 47h1v1h-1zM17 50h1v1h-1zM45 50h1v1h-1zM18 51h1v1h-1zM44 51h1v1h-1zM21 53h1v1h-1zM41 53h1v1h-1zM24 54h1v1h-1zM38 54h1v1h-1z"/>
<path fill="#89ff00" d="M26 1h11v1h-11zM26 2h11v1h-11zM26 3h11v1h-11zM27 4h9v1h-9zM27 5h9v1h-9zM26 6h11v1h-11zM25 7h13v1h-13zM23 8h6v1h-6zM34 8h6v1h-6zM22 9h2v1h-2zM39 9h2v1h-2zM20 10h2v1h-2zM41 10h2v1h-2zM19 11h2v1h-2zM42 11h2v1h-2zM18 12h1v1h-1zM44 12h1v1h-1zM17 13h1v1h-1zM45 13h1v1h-1zM16 15h1v1h-1zM46 15h1v1h-1zM15 16h1v1h-1zM47 16h1v1h-1zM14 19h1v1h-1zM48 19h1v1h-1zM13 22h1v1h-1zM49 22h1v1h-1zM13 23h1v1h-1zM49 23h1v1h-1zM13 38h1v1h-1zM49 38h1v1h-1zM13 39h1v1h-1zM49 39h1v1h-1zM14 44h1v1h-1zM48 44h1v1h-1zM25 54h1v1h-1zM37 54h1v1h-1z"/>
<path fill="#8fff00" d="M31 0h1v1h-1zM29 8h5v1h-5zM24 9h15v1h-15zM22 10h3v1h-3zM38 10h3v1h-3zM21 11h1v1h-1zM41 11h1v1h-1zM19 12h2v1h-2zM42 12h2v1h-2zM18 13h1v1h-1zM44 13h1v1h-1zM17 14h1v1h-1zM45 14h1v1h-1zM16 16h1v1h-1zM46 16h1v1h-1zM15 17h1v1h-1zM47 17h1v1h-1zM15 18h1v1h-1zM47 18h1v1h-1zM14 20h1v1h-1zM48 20h1v1h-1zM13 24h1v1h-1zM49 24h1v1h-1zM13 25h1v1h-1zM49 25h1v1h-1zM13 26h1v1h-1zM49 26h1v1h-1zM13 35h1v1h-1zM49 35h1v1h-1zM13 36h1v1h-1zM49 36h1v1h-1zM13 37h1v1h-1zM49 37h1v1h-1zM14 43h1v1h-1zM48 43h1v1h-1zM15 46h1v1h-1zM47 46h1v1h-1zM16 48h1v1h-1zM46 48h1v1h-1zM20 52h1v1h-1zM42 52h1v1h-1zM22 53h1v1h-1zM40 53h1v1h-1zM26 54h1v1h-1zM36 54h1v1h-1z"/>
<path fill="#95ff00" d="M25 10h13v1h-13zM22 11h3v1h-3zM38 11h3v1h-3zM21 12h1v1h-1zM41 12h1v1h-1zM19 13h2v1h-2zM42 13h2v1h-2zM18 14h1v1h-1zM44 14h1v1h-1zM17 15h1v1h-1zM45 15h1v1h-1zM16 17h1v1h-1zM46 17h1v1h-1zM15 19h1v1h-1zM47 19h1v1h-1zM14 21h1v1h-1zM48 21h1v1h-1zM14 22h1v1h-1zM48 22h1v1h-1zM13 27h1v1h-1zM49 27h1v1h-1zM13 28h1v1h-1zM49 28h1v1h-1zM13 29h1v1h-1zM49 29h1v1h-1zM13 30h1v1h-1zM49 30h1v1h-1zM13 31h1v1h-1zM49 31h1v1h-1zM13 32h1v1h-1zM49 32h1v1h-1zM13 33h1v1h-1zM49 33h1v1h-1zM13 34h1v1h-1zM49 34h1v1h-1zM14 41h1v1h-1zM48 41h1v1h-1zM14 42h1v1h-1zM48 42h1v1h-1zM15 45h1v1h-1zM47 45h1v1h-1zM16 47h1v1h-1zM46 47h1v1h-1zM17 49h1v1h-1zM45 49h1v1h-1zM18 50h1v1h-1zM44 50h1v1h-1zM19 51h1v1h-1zM43 51h1v1h-1zM21 52h1v1h-1zM41 52h1v1h-1zM23 53h1v1h-1zM39 53h1v1h-1zM27 54h9v1h-9z"/>
<path fill="#9bff00" d="M25 11h13v1h-13zM22 12h2v1h-2zM39 12h2v1h-2zM21 13h1v1h-1zM41 13h1v1h-1zM19 14h1v1h-1zM43 14h1v1h-1zM18 15h1v1h-1zM44 15h1v1h-1zM17 16h1v1h-1zM45 16h1v1h-1zM16 18h1v1h-1zM46 18h1v1h-1zM15 20h1v1h-1zM47 20h1v1h-1zM14 23h1v1h-1zM48 23h1v1h-1zM14 24h1v1h-1zM48 24h1v1h-1zM14 40h1v1h-1zM48 40h1v1h-1zM15 44h1v1h-1zM47 44h1v1h-1zM24 53h1v1h-1zM38 53h1v1h-1z"/>
<path fill="#a1ff00" d="M24 12h4v1h-4zM35 12h4v1h-4zM22 13h2v1h-2zM39 13h2v1h-2zM20 14h2v1h-2zM41 14h2v1h-2zM19 15h1v1h-1zM43 15h1v1h-1zM18 16h1v1h-1zM44 16h1v1h-1zM17 17h1v1h-1zM45 17h1v1h-1zM16 19h1v1h-1zM46 19h1v1h-1zM15 21h1v1h-1zM47 21h1v1h-1zM14 25h1v1h-1zM48 25h1v1h-1zM14 26h1v1h-1zM48 26h1v1h-1zM14 37h1v1h-1zM48 37h1v1h-1zM14 38h1v1h-1zM48 38h1v1h-1zM14 39h1v1h-1zM48 39h1v1h-1zM15 43h1v1h-1zM47 43h1v1h-1zM16 46h1v1h-1zM46 46h1v1h-1zM17 48h1v1h-1zM45 48h1v1h-1zM18 49h1v1h-1zM44 49h1v1h-1zM19 50h1v1h-1zM43 50h1v1h-1zM20 51h1v1h-1zM42 51h1v1h-1zM22 52h1v1h-1zM40 52h1v1h-1zM25 53h1v1h-1zM37 53h1v1h-1z"/>
<path fill="#a7ff00" d="M28 12h7v1h-7zM24 13h2v1h-2zM37 13h2v1h-2zM22 14h1v1h-1zM40 14h1v1h-1zM20 15h1v1h-1zM42 15h1v1h-1zM19 16h1v1h-1zM43 16h1v1h-1zM18 17h1v1h-1zM44 17h1v1h-1zM17 18h1v1h-1zM45 18h1v1h-1zM16 20h1v1h-1zM46 20h1v1h-1zM15 22h1v1h-1zM47 22h1v1h-1zM14 27h1v1h-1zM48 27h1v1h-1zM14 28h1v1h-1zM48 28h1v1h-1zM14 29h1v1h-1zM48 29h1v1h-1zM14 30h1v1h-1zM48 30h1v1h-1zM14 31h1v1h-1zM48 31h1v1h-1zM14 32h1v1h-1zM48 32h1v1h-1zM14 33h1v1h-1zM48 33h1v1h-1zM14 34h1v1h-1zM48 34h1v1h-1zM14 35h1v1h-1zM48 35h1v1h-1zM14 36h1v1h-1zM48 36h1v1h-1zM15 42h1v1h-1zM47 42h1v1h-1zM16 45h1v1h-1zM46 45h1v1h-1zM17 47h1v1h-1zM45 47h1v1h-1zM21 51h1v1h-1zM41 51h1v1h-1zM23 52h1v1h-1zM39 52h1v1h-1zM26 53h2v1h-2zM35 53h2v1h-2z"/>
<path fill="#adff00" d="M26 13h11v1h-11zM23 14h2v1h-2zM38 14h2v1h-2zM21 15h1v1h-1zM41 15h1v1h-1zM20 16h1v1h-1zM42 16h1v1h-1zM18 18h1v1h-1zM44 18h1v1h-1zM17 19h1v1h-1zM45 19h1v1h-1zM16 21h1v1h-1zM46 21h1v1h-1zM15 23h1v1h-1zM47 23h1v1h-1zM15 24h1v1h-1zM47 24h1v1h-1zM15 41h1v1h-1zM47 41h1v1h-1zM16 44h1v1h-1zM46 44h1v1h-1zM18 48h1v1h-1zM44 48h1v1h-1zM20 50h1v1h-1zM42 50h1v1h-1zM24 52h1v1h-1zM38 52h1v1h-1zM28 53h7v1h-7z"/>
<path fill="#b3ff00" d="M25 14h3v1h-3zM35 14h3v1h-3zM22 15h2v1h-2zM39 15h2v1h-2zM21 16h1v1h-1zM41 16h1v1h-1zM19 17h1v1h-1zM43 17h1v1h-1zM17 20h1v1h-1zM45 20h1v1h-1zM16 22h1v1h-1zM46 22h1v1h-1zM15 25h1v1h-1zM47 25h1v1h-1zM15 26h1v1h-1zM47 26h1v1h-1zM15 39h1v1h-1zM47 39h1v1h-1zM15 40h1v1h-1zM47 40h1v1h-1zM17 46h1v1h-1zM45 46h1v1h-1zM19 49h1v1h-1zM43 49h1v1h-1zM22 51h1v1h-1zM40 51h1v1h-1zM25 52h1v1h-1zM37 52h1v1h-1z"/>
<path fill="#baff00" d="M28 14h7v1h-7zM24 15h2v1h-2zM37 15h2v1h-2zM22 16h1v1h-1zM40 16h1v1h-1zM20 17h1v1h-1zM42 17h1v1h-1zM19 18h1v1h-1zM43 18h1v1h-1zM18 19h1v1h-1zM44 19h1v1h-1zM17 21h1v1h-1zM45 21h1v1h-1zM16 23h1v1h-1zM46 23h1v1h-1zM15 27h1v1h-1zM47 27h1v1h-1zM15 28h1v1h-1zM47 28h1v1h-1zM15 29h1v1h-1zM47 29h1v1h-1zM15 35h1v1h-1zM47 35h1v1h-1zM15 36h1v1h-1zM47 36h1v1h-1zM15 37h1v1h-1zM47 37h1v1h-1zM15 38h1v1h-1zM47 38h1v1h-1zM16 42h1v1h-1zM46 42h1v1h-1zM16 43h1v1h-1zM46 43h1v1h-1zM17 45h1v1h-1zM45 45h1v1h-1zM18 47h1v1h-1zM44 47h1v1h-1zM21 50h1v1h-1zM41 50h1v1h-1zM23 51h1v1h-1zM39 51h1v1h-1zM26 52h1v1h-1zM36 52h1v1h-1z"/>
<path fill="#c0ff00" d="M26 15h4v1h-4zM33 15h4v1h-4zM23 16h1v1h-1zM39 16h1v1h-1zM21 17h1v1h-1zM41 17h1v1h-1zM20 18h1v1h-1zM42 18h1v1h-1zM19 19h1v1h-1zM43 19h1v1h-1zM18 20h1v1h-1zM44 20h1v1h-1zM17 22h1v1h-1zM45 22h1v1h-1zM16 24h1v1h-1zM46 24h1v1h-1zM16 25h1v1h-1zM46 25h1v1h-1zM15 30h1v1h-1zM47 30h1v1h-1zM15 31h1v1h-1zM47 31h1v1h-1zM15 32h1v1h-1zM47 32h1v1h-1zM15 33h1v1h-1zM47 33h1v1h-1zM15 34h1v1h-1zM47 34h1v1h-1zM16 41h1v1h-1zM46 41h1v1h-1zM19 48h1v1h-1zM43 48h1v1h-1zM20 49h1v1h-1zM42 49h1v1h-1zM27 52h2v1h-2zM34 52h2v1h-2z"/>
<path fill="#c4fc00" d="M30 15h3v1h-3zM24 16h2v1h-2zM37 16h2v1h-2zM22 17h1v1h-1zM40 17h1v1h-1zM21 18h1v1h-1zM41 18h1v1h-1zM18 21h1v1h-1zM44 21h1v1h-1zM17 23h1v1h-1zM45 23h1v1h-1zM16 26h1v1h-1zM46 26h1v1h-1zM16 39h1v1h-1zM46 39h1v1h-1zM16 40h1v1h-1zM46 40h1v1h-1zM17 44h1v1h-1zM45 44h1v1h-1zM18 46h1v1h-1zM44 46h1v1h-1zM22 50h1v1h-1zM40 50h1v1h-1zM24 51h1v1h-1zM38 51h1v1h-1zM29 52h5v1h-5z"/>
<path fill="#c8fa00" d="M26 16h11v1h-11zM23 17h2v1h-2zM38 17h2v1h-2zM22 18h1v1h-1zM40 18h1v1h-1zM20 19h1v1h-1zM42 19h1v1h-1zM19 20h1v1h-1zM43 20h1v1h-1zM18 22h1v1h-1zM44 22h1v1h-1zM17 24h1v1h-1zM45 24h1v1h-1zM16 27h1v1h-1zM46 27h1v1h-1zM16 28h1v1h-1zM46 28h1v1h-1zM16 29h1v1h-1zM46 29h1v1h-1zM16 37h1v1h-1zM46 37h1v1h-1zM16 38h1v1h-1zM46 38h1v1h-1zM17 43h1v1h-1zM45 43h1v1h-1zM18 45h1v1h-1zM44 45h1v1h-1zM19 47h1v1h-1zM43 47h1v1h-1zM20 48h1v1h-1zM42 48h1v1h-1zM21 49h1v1h-1zM41 49h1v1h-1zM23 50h1v1h-1zM39 50h1v1h-1zM25 51h1v1h-1zM37 51h1v1h-1z"/>
<path fill="#ccf700" d="M25 17h2v1h-2zM36 17h2v1h-2zM23 18h1v1h-1zM39 18h1v1h-1zM21 19h1v1h-1zM41 19h1v1h-1zM20 20h1v1h-1zM42 20h1v1h-1zM19 21h1v1h-1zM43 21h1v1h-1zM18 23h1v1h-1zM44 23h1v1h-1zM17 25h1v1h-1zM45 25h1v1h-1zM16 30h1v1h-1zM46 30h1v1h-1zM16 31h1v1h-1zM46 31h1v1h-1zM16 32h1v1h-1zM46 32h1v1h-1zM16 33h1v1h-1zM46 33h1v1h-1zM16 34h1v1h-1zM46 34h1v1h-1zM16 35h1v1h-1zM46 35h1v1h-1zM16 36h1v1h-1zM46 36h1v1h-1zM17 41h1v1h-1zM45 41h1v1h-1zM17 42h1v1h-1zM45 42h1v1h-1zM18 44h1v1h-1zM44 44h1v1h-1zM19 46h1v1h-1zM43 46h1v1h-1zM22 49h1v1h-1zM40 49h1v1h-1zM26 51h2v1h-2zM35 51h2v1h-2z"/>
<path fill="#d0f500" d="M27 17h9v1h-9zM24 18h1v1h-1zM38 18h1v1h-1zM22 19h1v1h-1zM40 19h1v1h-1zM21 20h1v1h-1zM41 20h1v1h-1zM20 21h1v1h-1zM42 21h1v1h-1zM19 22h1v1h-1zM43 22h1v1h-1zM18 24h1v1h-1zM44 24h1v1h-1zM17 26h1v1h-1zM45 26h1v1h-1zM17 27h1v1h-1zM45 27h1v1h-1zM17 40h1v1h-1zM45 40h1v1h-1zM20 47h1v1h-1zM42 47h1v1h-1zM21 48h1v1h-1zM41 48h1v1h-1zM24 50h1v1h-1zM38 50h1v1h-1zM28 51h7v1h-7z"/>
<path fill="#d5f200" d="M25 18h2v1h-2zM36 18h2v1h-2zM23 19h1v1h-1zM39 19h1v1h-1zM19 23h1v1h-1zM43 23h1v1h-1zM18 25h1v1h-1zM44 25h1v1h-1zM17 28h1v1h-1zM45 28h1v1h-1zM17 29h1v1h-1zM45 29h1v1h-1zM17 37h1v1h-1zM45 37h1v1h-1zM17 38h1v1h-1zM45 38h1v1h-1zM17 39h1v1h-1zM45 39h1v1h-1zM18 42h1v1h-1zM44 42h1v1h-1zM18 43h1v1h-1zM44 43h1v1h-1zM19 45h1v1h-1zM43 45h1v1h-1zM23 49h1v1h-1zM39 49h1v1h-1zM25 50h1v1h-1zM37 50h1v1h-1z"/>
<path fill="#d9ee00" d="M27 18h9v1h-9zM24 19h2v1h-2zM37 19h2v1h-2zM22 20h1v1h-1zM40 20h1v1h-1zM21 21h1v1h-1zM41 21h1v1h-1zM20 22h1v1h-1zM42 22h1v1h-1zM19 24h1v1h-1zM43 24h1v1h-1zM18 26h1v1h-1zM44 26h1v1h-1zM17 30h1v1h-1zM45 30h1v1h-1zM17 31h1v1h-1zM45 31h1v1h-1zM17 32h1v1h-1zM45 32h1v1h-1zM17 33h1v1h-1zM45 33h1v1h-1zM17 34h1v1h-1zM45 34h1v1h-1zM17 35h1v1h-1zM45 35h1v1h-1zM17 36h1v1h-1zM45 36h1v1h-1zM18 41h1v1h-1zM44 41h1v1h-1zM19 44h1v1h-1zM43 44h1v1h-1zM20 46h1v1h-1zM42 46h1v1h-1zM21 47h1v1h-1zM41 47h1v1h-1zM22 48h1v1h-1zM40 48h1v1h-1zM24 49h1v1h-1zM38 49h1v1h-1zM26 50h2v1h-2zM35 50h2v1h-2z"/>
<path fill="#dde400" d="M26 19h1v1h-1zM36 19h1v1h-1zM23 20h1v1h-1zM39 20h1v1h-1zM22 21h1v1h-1zM40 21h1v1h-1zM21 22h1v1h-1zM41 22h1v1h-1zM20 23h1v1h-1zM42 23h1v1h-1zM19 25h1v1h-1zM43 25h1v1h-1zM18 27h1v1h-1zM44 27h1v1h-1zM18 28h1v1h-1zM44 28h1v1h-1zM18 40h1v1h-1zM44 40h1v1h-1zM19 43h1v1h-1zM43 43h1v1h-1zM20 45h1v1h-1zM42 45h1v1h-1zM23 48h1v1h-1zM39 48h1v1h-1zM25 49h1v1h-1zM37 49h1v1h-1zM28 50h2v1h-2zM33 50h2v1h-2z"/>
<path fill="#e1d900" d="M27 19h9v1h-9zM24 20h2v1h-2zM37 20h2v1h-2zM23 21h1v1h-1zM39 21h1v1h-1zM20 24h1v1h-1zM42 24h1v1h-1zM19 26h1v1h-1zM43 26h1v1h-1zM18 29h1v1h-1zM44 29h1v1h-1zM18 30h1v1h-1zM44 30h1v1h-1zM18 37h1v1h-1zM44 37h1v1h-1zM18 38h1v1h-1zM44 38h1v1h-1zM18 39h1v1h-1zM44 39h1v1h-1zM19 42h1v1h-1zM43 42h1v1h-1zM21 46h1v1h-1zM41 46h1v1h-1zM22 47h1v1h-1zM40 47h1v1h-1zM26 49h1v1h-1zM36 49h1v1h-1zM30 50h3v1h-3z"/>
<path fill="#e5cf00" d="M26 20h2v1h-2zM35 20h2v1h-2zM24 21h1v1h-1zM38 21h1v1h-1zM22 22h1v1h-1zM40 22h1v1h-1zM21 23h1v1h-1zM41 23h1v1h-1zM20 25h1v1h-1zM42 25h1v1h-1zM19 27h1v1h-1zM43 27h1v1h-1zM18 31h1v1h-1zM44 31h1v1h-1zM18 32h1v1h-1zM44 32h1v1h-1zM18 33h1v1h-1zM44 33h1v1h-1zM18 34h1v1h-1zM44 34h1v1h-1zM18 35h1v1h-1zM44 35h1v1h-1zM18 36h1v1h-1zM44 36h1v1h-1zM19 41h1v1h-1zM43 41h1v1h-1zM20 44h1v1h-1zM42 44h1v1h-1zM21 45h1v1h-1zM41 45h1v1h-1zM24 48h1v1h-1zM38 48h1v1h-1zM27 49h1v1h-1zM35 49h1v1h-1z"/>
<path fill="#e9c400" d="M28 20h7v1h-7zM25 21h1v1h-1zM37 21h1v1h-1zM23 22h1v1h-1zM39 22h1v1h-1zM22 23h1v1h-1zM40 23h1v1h-1zM21 24h1v1h-1zM41 24h1v1h-1zM20 26h1v1h-1zM42 26h1v1h-1zM19 28h1v1h-1zM43 28h1v1h-1zM19 29h1v1h-1zM43 29h1v1h-1zM19 39h1v1h-1zM43 39h1v1h-1zM19 40h1v1h-1zM43 40h1v1h-1zM20 43h1v1h-1zM42 43h1v1h-1zM22 46h1v1h-1zM40 46h1v1h-1zM23 47h1v1h-1zM39 47h1v1h-1zM25 48h1v1h-1zM37 48h1v1h-1zM28 49h3v1h-3zM32 49h3v1h-3z"/>
<path fill="#ebb800" d="M26 21h2v1h-2zM35 21h2v1h-2zM24 22h1v1h-1zM38 22h1v1h-1zM23 23h1v1h-1zM39 23h1v1h-1zM22 24h1v1h-1zM40 24h1v1h-1zM21 25h1v1h-1zM41 25h1v1h-1zM20 27h1v1h-1zM42 27h1v1h-1zM19 30h1v1h-1zM43 30h1v1h-1zM19 31h1v1h-1zM43 31h1v1h-1zM19 32h1v1h-1zM43 32h1v1h-1zM19 36h1v1h-1zM43 36h1v1h-1zM19 37h1v1h-1zM43 37h1v1h-1zM19 38h1v1h-1zM43 38h1v1h-1zM20 42h1v1h-1zM42 42h1v1h-1zM21 44h1v1h-1zM41 44h1v1h-1zM22 45h1v1h-1zM40 45h1v1h-1zM23 46h1v1h-1zM39 46h1v1h-1zM24 47h1v1h-1zM38 47h1v1h-1zM26 48h1v1h-1zM36 48h1v1h-1zM31 49h1v1h-1z"/>
<path fill="#eeac00" d="M28 21h7v1h-7zM25 22h2v1h-2zM36 22h2v1h-2zM24 23h1v1h-1zM38 23h1v1h-1zM21 26h1v1h-1zM41 26h1v1h-1zM20 28h1v1h-1zM42 28h1v1h-1zM19 33h1v1h-1zM43 33h1v1h-1zM19 34h1v1h-1zM43 34h1v1h-1zM19 35h1v1h-1zM43 35h1v1h-1zM20 40h1v1h-1zM42 40h1v1h-1zM20 41h1v1h-1zM42 41h1v1h-1zM21 43h1v1h-1zM41 43h1v1h-1zM25 47h1v1h-1zM37 47h1v1h-1zM27 48h2v1h-2zM34 48h2v1h-2z"/>
<path fill="#f09e00" d="M27 22h2v1h-2zM34 22h2v1h-2zM25 23h1v1h-1zM37 23h1v1h-1zM23 24h1v1h-1zM39 24h1v1h-1zM22 25h1v1h-1zM40 25h1v1h-1zM21 27h1v1h-1zM41 27h1v1h-1zM20 29h1v1h-1zM42 29h1v1h-1zM20 30h1v1h-1zM42 30h1v1h-1zM20 38h1v1h-1zM42 38h1v1h-1zM20 39h1v1h-1zM42 39h1v1h-1zM21 42h1v1h-1zM41 42h1v1h-1zM22 44h1v1h-1zM40 44h1v1h-1zM23 45h1v1h-1zM39 45h1v1h-1zM24 46h1v1h-1zM38 46h1v1h-1zM26 47h1v1h-1zM36 47h1v1h-1zM29 48h5v1h-5z"/>
<path fill="#f08300" d="M29 22h5v1h-5zM26 23h1v1h-1zM36 23h1v1h-1zM24 24h1v1h-1zM38 24h1v1h-1zM23 25h1v1h-1zM39 25h1v1h-1zM22 26h1v1h-1zM40 26h1v1h-1zM21 28h1v1h-1zM41 28h1v1h-1zM20 31h1v1h-1zM42 31h1v1h-1zM20 32h1v1h-1zM42 32h1v1h-1zM20 33h1v1h-1zM42 33h1v1h-1zM20 34h1v1h-1zM42 34h1v1h-1zM20 35h1v1h-1zM42 35h1v1h-1zM20 36h1v1h-1zM42 36h1v1h-1zM20 37h1v1h-1zM42 37h1v1h-1zM21 41h1v1h-1zM41 41h1v1h-1zM22 43h1v1h-1zM40 43h1v1h-1zM25 46h1v1h-1zM37 46h1v1h-1zM27 47h1v1h-1zM35 47h1v1h-1z"/>
<path fill="#f06900" d="M27 23h3v1h-3zM33 23h3v1h-3zM25 24h1v1h-1zM37 24h1v1h-1zM24 25h1v1h-1zM38 25h1v1h-1zM23 26h1v1h-1zM39 26h1v1h-1zM22 27h1v1h-1zM40 27h1v1h-1zM21 29h1v1h-1zM41 29h1v1h-1zM21 30h1v1h-1zM41 30h1v1h-1zM21 39h1v1h-1zM41 39h1v1h-1zM21 40h1v1h-1zM41 40h1v1h-1zM22 42h1v1h-1zM40 42h1v1h-1zM23 44h1v1h-1zM39 44h1v1h-1zM24 45h1v1h-1zM38 45h1v1h-1zM26 46h1v1h-1zM36 46h1v1h-1zM28 47h3v1h-3zM32 47h3v1h-3z"/>
<path fill="#f04e00" d="M30 23h3v1h-3zM26 24h2v1h-2zM35 24h2v1h-2zM25 25h1v1h-1zM37 25h1v1h-1zM24 26h1v1h-1zM38 26h1v1h-1zM23 27h1v1h-1zM39 27h1v1h-1zM22 28h1v1h-1zM40 28h1v1h-1zM22 29h1v1h-1zM40 29h1v1h-1zM21 31h1v1h-1zM41 31h1v1h-1zM21 32h1v1h-1zM41 32h1v1h-1zM21 33h1v1h-1zM41 33h1v1h-1zM21 34h1v1h-1zM41 34h1v1h-1zM21 35h1v1h-1zM41 35h1v1h-1zM21 36h1v1h-1zM41 36h1v1h-1zM21 37h1v1h-1zM41 37h1v1h-1zM21 38h1v1h-1zM41 38h1v1h-1zM22 41h1v1h-1zM40 41h1v1h-1zM23 43h1v1h-1zM39 43h1v1h-1zM24 44h1v1h-1zM38 44h1v1h-1zM25 45h1v1h-1zM37 45h1v1h-1zM27 46h1v1h-1zM35 46h1v1h-1zM31 47h1v1h-1z"/>
<path fill="#f13800" d="M28 24h7v1h-7zM26 25h1v1h-1zM36 25h1v1h-1zM23 28h1v1h-1zM39 28h1v1h-1zM22 30h1v1h-1zM40 30h1v1h-1zM22 39h1v1h-1zM40 39h1v1h-1zM22 40h1v1h-1zM40 40h1v1h-1zM23 42h1v1h-1zM39 42h1v1h-1zM24 43h1v1h-1zM38 43h1v1h-1zM25 44h1v1h-1zM37 44h1v1h-1zM26 45h1v1h-1zM36 45h1v1h-1zM28 46h2v1h-2zM33 46h2v1h-2z"/>
<path fill="#f22400" d="M27 25h2v1h-2zM34 25h2v1h-2zM25 26h2v1h-2zM36 26h2v1h-2zM24 27h1v1h-1zM38 27h1v1h-1zM23 29h1v1h-1zM39 29h1v1h-1zM22 31h1v1h-1zM40 31h1v1h-1zM22 32h1v1h-1zM40 32h1v1h-1zM22 33h1v1h-1zM40 33h1v1h-1zM22 34h1v1h-1zM40 34h1v1h-1zM22 35h1v1h-1zM40 35h1v1h-1zM22 36h1v1h-1zM40 36h1v1h-1zM22 37h1v1h-1zM40 37h1v1h-1zM22 38h1v1h-1zM40 38h1v1h-1zM23 41h1v1h-1zM39 41h1v1h-1zM27 45h1v1h-1zM35 45h1v1h-1zM30 46h3v1h-3z"/>
<path fill="#f31000" d="M29 25h5v1h-5zM27 26h1v1h-1zM35 26h1v1h-1zM25 27h1v1h-1zM37 27h1v1h-1zM24 28h1v1h-1zM38 28h1v1h-1zM24 29h1v1h-1zM38 29h1v1h-1zM23 30h1v1h-1zM39 30h1v1h-1zM23 31h1v1h-1zM39 31h1v1h-1zM23 39h1v1h-1zM39 39h1v1h-1zM23 40h1v1h-1zM39 40h1v1h-1zM24 41h1v1h-1zM38 41h1v1h-1zM24 42h1v1h-1zM38 42h1v1h-1zM25 43h1v1h-1zM37 43h1v1h-1zM26 44h2v1h-2zM35 44h2v1h-2zM28 45h7v1h-7z"/>
<path fill="#ef0700" d="M28 26h7v1h-7zM26 27h2v1h-2zM35 27h2v1h-2zM25 28h1v1h-1zM37 28h1v1h-1zM24 30h1v1h-1zM38 30h1v1h-1zM23 32h1v1h-1zM39 32h1v1h-1zM23 33h1v1h-1zM39 33h1v1h-1zM23 34h1v1h-1zM39 34h1v1h-1zM23 35h1v1h-1zM39 35h1v1h-1zM23 36h1v1h-1zM39 36h1v1h-1zM23 37h1v1h-1zM39 37h1v1h-1zM23 38h1v1h-1zM39 38h1v1h-1zM24 40h1v1h-1zM38 40h1v1h-1zM25 42h1v1h-1zM37 42h1v1h-1zM26 43h1v1h-1zM36 43h1v1h-1zM28 44h1v1h-1zM34 44h1v1h-1z"/>
<path fill="#e60400" d="M28 27h2v1h-2zM33 27h2v1h-2zM26 28h2v1h-2zM35 28h2v1h-2zM25 29h1v1h-1zM37 29h1v1h-1zM25 30h1v1h-1zM37 30h1v1h-1zM24 31h1v1h-1zM38 31h1v1h-1zM24 32h1v1h-1zM38 32h1v1h-1zM24 38h1v1h-1zM38 38h1v1h-1zM24 39h1v1h-1zM38 39h1v1h-1zM25 41h1v1h-1zM37 41h1v1h-1zM26 42h1v1h-1zM36 42h1v1h-1zM27 43h2v1h-2zM34 43h2v1h-2zM29 44h5v1h-5z"/>
<path fill="#de0200" d="M30 27h3v1h-3zM28 28h2v1h-2zM33 28h2v1h-2zM26 29h2v1h-2zM35 29h2v1h-2zM26 30h1v1h-1zM36 30h1v1h-1zM25 31h1v1h-1zM37 31h1v1h-1zM25 32h1v1h-1zM37 32h1v1h-1zM24 33h1v1h-1zM38 33h1v1h-1zM24 34h1v1h-1zM38 34h1v1h-1zM24 35h1v1h-1zM38 35h1v1h-1zM24 36h1v1h-1zM38 36h1v1h-1zM24 37h1v1h-1zM38 37h1v1h-1zM25 39h1v1h-1zM37 39h1v1h-1zM25 40h1v1h-1zM37 40h1v1h-1zM26 41h1v1h-1zM36 41h1v1h-1zM27 42h1v1h-1zM35 42h1v1h-1zM29 43h5v1h-5z"/>
<path fill="#d50000" d="M30 28h3v1h-3zM28 29h2v1h-2zM33 29h2v1h-2zM27 30h1v1h-1zM35 30h1v1h-1zM26 31h1v1h-1zM36 31h1v1h-1zM25 33h1v1h-1zM37 33h1v1h-1zM25 34h1v1h-1zM37 34h1v1h-1zM25 35h1v1h-1zM37 35h1v1h-1zM25 36h1v1h-1zM37 36h1v1h-1zM25 37h1v1h-1zM37 37h1v1h-1zM25 38h1v1h-1zM37 38h1v1h-1zM26 39h1v1h-1zM36 39h1v1h-1zM26 40h1v1h-1zM36 40h1v1h-1zM27 41h1v1h-1zM35 41h1v1h-1zM28 42h3v1h-3zM32 42h3v1h-3z"/>
<path fill="#cd0000" d="M30 29h3v1h-3zM28 30h2v1h-2zM33 30h2v1h-2zM27 31h1v1h-1zM35 31h1v1h-1zM26 32h2v1h-2zM35 32h2v1h-2zM26 33h1v1h-1zM36 33h1v1h-1zM26 34h1v1h-1zM36 34h1v1h-1zM26 35h1v1h-1zM36 35h1v1h-1zM26 36h1v1h-1zM36 36h1v1h-1zM26 37h1v1h-1zM36 37h1v1h-1zM26 38h1v1h-1zM36 38h1v1h-1zM27 39h1v1h-1zM35 39h1v1h-1zM27 40h2v1h-2zM34 40h2v1h-2zM28 41h7v1h-7zM31 42h1v1h-1z"/>
<path fill="#c50000" d="M30 30h3v1h-3zM28 31h7v1h-7zM28 32h1v1h-1zM34 32h1v1h-1zM27 33h2v1h-2zM34 33h2v1h-2zM27 34h1v1h-1zM35 34h1v1h-1zM27 35h1v1h-1zM35 35h1v1h-1zM27 36h1v1h-1zM35 36h1v1h-1zM27 37h1v1h-1zM35 37h1v1h-1zM27 38h2v1h-2zM34 38h2v1h-2zM28 39h2v1h-2zM33 39h2v1h-2zM29 40h5v1h-5z"/>
<path fill="#bc0000" d="M29 32h5v1h-5zM29 33h5v1h-5zM28 34h2v1h-2zM33 34h2v1h-2zM28 35h2v1h-2zM33 35h2v1h-2zM28 36h2v1h-2zM33 36h2v1h-2zM28 37h2v1h-2zM33 37h2v1h-2zM29 38h5v1h-5zM30 39h3v1h-3z"/>
<path fill="#b40000" d="M30 34h3v1h-3zM30 35h3v1h-3zM30 36h3v1h-3zM30 37h3v1h-3z"/>
</g>
</g>
<path d="M147.3 642.8V1074.8H602.3" fill="none" stroke="#3a3a55" stroke-opacity="0.55" stroke-width="1.2"/>
<rect x="623.5" y="678.3" width="42.1" height="311.5" fill="url(#cb)" filter="url(#bl2)"/>
<text class="ts" x="672.0" y="679.6" font-size="22.0" text-anchor="start">0.006</text>
<text class="ts" x="672.0" y="712.6" font-size="22.0" text-anchor="start">−0.017</text>
<text class="ts" x="672.0" y="745.6" font-size="22.0" text-anchor="start">−0.040</text>
<text class="ts" x="672.0" y="778.6" font-size="22.0" text-anchor="start">−0.063</text>
<text class="ts" x="672.0" y="811.6" font-size="22.0" text-anchor="start">−0.086</text>
<text class="ts" x="672.0" y="844.6" font-size="22.0" text-anchor="start">−0.109</text>
<text class="ts" x="672.0" y="877.6" font-size="22.0" text-anchor="start">−0.132</text>
<text class="ts" x="672.0" y="910.6" font-size="22.0" text-anchor="start">−0.155</text>
<text class="ts" x="672.0" y="943.6" font-size="22.0" text-anchor="start">−0.178</text>
<text class="ts" x="672.0" y="976.6" font-size="22.0" text-anchor="start">−0.201</text>
<text class="ts" x="672.0" y="1009.6" font-size="22.0" text-anchor="start">−0.223</text>
<text class="tm" x="667.0" y="1031.0" font-size="16.5" text-anchor="start" style="stroke-width:0.15px">Waves</text>
<text class="ts" x="388.0" y="623.6" font-size="40.0" text-anchor="middle">OBJ：− 1.18°</text>
<text class="ts" x="21.0" y="657.0" font-size="37.0" text-anchor="start" letter-spacing="1.2">(b)</text>
<text class="ts" x="142.0" y="643.6" font-size="29.0" text-anchor="end">1.0</text>
<text class="ts" x="143.0" y="861.6" font-size="29.0" text-anchor="end">0</text>
<text class="ts" x="140.5" y="1077.1" font-size="29.0" text-anchor="end">−1.0</text>
<text class="ts" x="145.5" y="1102.8" font-size="29.0" text-anchor="middle">−1.0</text>
<text class="ts" x="374.7" y="1102.8" font-size="29.0" text-anchor="middle">0</text>
<text class="ts" x="602.0" y="1102.8" font-size="29.0" text-anchor="middle">1.0</text>
<text class="tm" x="377.4" y="1139.6" font-size="24.4" text-anchor="middle">X-Pupil (Rel. Units)</text>
<text class="tm" font-size="24.4" text-anchor="middle" transform="translate(34.0 857.0) rotate(-90)" y="7.3">Y-Pupil (Rel. Units)</text>
</g>
<g id="pc">
<g filter="url(#bl)">
<g transform="translate(929.70 72.40) scale(7.05873 7.03810)" shape-rendering="crispEdges">
<rect x="0" y="0" width="63" height="63" fill="#300fc8"/>
<path fill="#3010c8" d="M31 0h1v1h-1z"/>
<path fill="#1e33d1" d="M24 1h2v1h-2zM37 1h2v1h-2z"/>
<path fill="#1742d6" d="M26 1h11v1h-11z"/>
<path fill="#0860e0" d="M21 2h1v1h-1zM41 2h1v1h-1zM18 3h1v1h-1zM44 3h1v1h-1zM16 4h1v1h-1zM46 4h1v1h-1z"/>
<path fill="#056ddb" d="M13 6h1v1h-1zM49 6h1v1h-1z"/>
<path fill="#0379d6" d="M22 2h1v1h-1zM40 2h1v1h-1z"/>
<path fill="#0185d1" d="M23 2h1v1h-1zM39 2h1v1h-1zM19 3h1v1h-1zM43 3h1v1h-1zM15 5h1v1h-1zM47 5h1v1h-1zM12 7h1v1h-1zM50 7h1v1h-1z"/>
<path fill="#0090ca" d="M24 2h2v1h-2zM37 2h2v1h-2zM17 4h1v1h-1zM45 4h1v1h-1z"/>
<path fill="#009ac3" d="M26 2h2v1h-2zM35 2h2v1h-2zM20 3h1v1h-1zM42 3h1v1h-1zM11 8h1v1h-1zM51 8h1v1h-1zM6 13h1v1h-1zM56 13h1v1h-1z"/>
<path fill="#00a4bb" d="M28 2h7v1h-7zM14 6h1v1h-1zM48 6h1v1h-1zM10 9h1v1h-1zM52 9h1v1h-1zM7 12h1v1h-1zM55 12h1v1h-1zM3 18h1v1h-1zM59 18h1v1h-1z"/>
<path fill="#00aeb4" d="M21 3h1v1h-1zM41 3h1v1h-1zM18 4h1v1h-1zM44 4h1v1h-1zM16 5h1v1h-1zM46 5h1v1h-1zM9 10h1v1h-1zM53 10h1v1h-1zM8 11h1v1h-1zM54 11h1v1h-1zM1 24h1v1h-1zM61 24h1v1h-1z"/>
<path fill="#00b7ac" d="M22 3h1v1h-1zM40 3h1v1h-1zM13 7h1v1h-1zM49 7h1v1h-1zM5 15h1v1h-1zM57 15h1v1h-1zM2 21h1v1h-1zM60 21h1v1h-1zM1 25h1v1h-1zM61 25h1v1h-1z"/>
<path fill="#00c1a5" d="M3 19h1v1h-1zM59 19h1v1h-1zM2 22h1v1h-1zM60 22h1v1h-1z"/>
<path fill="#00ca9b" d="M23 3h1v1h-1zM39 3h1v1h-1zM19 4h1v1h-1zM43 4h1v1h-1zM15 6h1v1h-1zM47 6h1v1h-1zM12 8h1v1h-1zM50 8h1v1h-1zM6 14h1v1h-1zM56 14h1v1h-1zM4 17h1v1h-1zM58 17h1v1h-1zM1 26h1v1h-1zM61 26h1v1h-1z"/>
<path fill="#00d28c" d="M24 3h2v1h-2zM37 3h2v1h-2zM17 5h1v1h-1zM45 5h1v1h-1zM11 9h1v1h-1zM51 9h1v1h-1zM3 20h1v1h-1zM59 20h1v1h-1zM2 23h1v1h-1zM60 23h1v1h-1zM1 27h1v1h-1zM61 27h1v1h-1z"/>
<path fill="#00d97d" d="M26 3h2v1h-2zM35 3h2v1h-2zM20 4h1v1h-1zM42 4h1v1h-1zM14 7h1v1h-1zM48 7h1v1h-1zM10 10h1v1h-1zM52 10h1v1h-1zM7 13h1v1h-1zM55 13h1v1h-1zM5 16h1v1h-1zM57 16h1v1h-1zM4 18h1v1h-1zM58 18h1v1h-1zM2 24h1v1h-1zM60 24h1v1h-1zM1 28h1v1h-1zM61 28h1v1h-1z"/>
<path fill="#01e16e" d="M28 3h7v1h-7zM21 4h1v1h-1zM41 4h1v1h-1zM18 5h1v1h-1zM44 5h1v1h-1zM9 11h1v1h-1zM53 11h1v1h-1zM8 12h1v1h-1zM54 12h1v1h-1zM3 21h1v1h-1zM59 21h1v1h-1zM2 25h1v1h-1zM60 25h1v1h-1zM1 29h1v1h-1zM61 29h1v1h-1zM1 30h1v1h-1zM61 30h1v1h-1z"/>
<path fill="#05e560" d="M16 6h1v1h-1zM46 6h1v1h-1zM13 8h1v1h-1zM49 8h1v1h-1zM2 26h1v1h-1zM60 26h1v1h-1zM1 31h1v1h-1zM61 31h1v1h-1z"/>
<path fill="#0aea51" d="M22 4h1v1h-1zM40 4h1v1h-1zM6 15h1v1h-1zM56 15h1v1h-1zM4 19h1v1h-1zM58 19h1v1h-1zM3 22h1v1h-1zM59 22h1v1h-1zM2 27h1v1h-1zM60 27h1v1h-1zM1 32h1v1h-1zM61 32h1v1h-1z"/>
<path fill="#0fef42" d="M23 4h1v1h-1zM39 4h1v1h-1zM19 5h1v1h-1zM43 5h1v1h-1zM15 7h1v1h-1zM47 7h1v1h-1zM12 9h1v1h-1zM50 9h1v1h-1zM7 14h1v1h-1zM55 14h1v1h-1zM5 17h1v1h-1zM57 17h1v1h-1zM3 23h1v1h-1zM59 23h1v1h-1zM2 28h1v1h-1zM60 28h1v1h-1zM1 33h1v1h-1zM61 33h1v1h-1zM1 34h1v1h-1zM61 34h1v1h-1zM1 38h1v1h-1zM61 38h1v1h-1z"/>
<path fill="#18f136" d="M24 4h1v1h-1zM38 4h1v1h-1zM17 6h1v1h-1zM45 6h1v1h-1zM11 10h1v1h-1zM51 10h1v1h-1zM8 13h1v1h-1zM54 13h1v1h-1zM4 20h1v1h-1zM58 20h1v1h-1zM3 24h1v1h-1zM59 24h1v1h-1zM2 29h1v1h-1zM60 29h1v1h-1zM1 35h1v1h-1zM61 35h1v1h-1zM1 36h1v1h-1zM61 36h1v1h-1zM1 37h1v1h-1zM61 37h1v1h-1z"/>
<path fill="#22f32b" d="M25 4h1v1h-1zM37 4h1v1h-1zM20 5h1v1h-1zM42 5h1v1h-1zM14 8h1v1h-1zM48 8h1v1h-1zM10 11h1v1h-1zM52 11h1v1h-1zM9 12h1v1h-1zM53 12h1v1h-1zM6 16h1v1h-1zM56 16h1v1h-1zM5 18h1v1h-1zM57 18h1v1h-1zM3 25h1v1h-1zM59 25h1v1h-1zM2 30h1v1h-1zM60 30h1v1h-1zM2 31h1v1h-1zM60 31h1v1h-1zM2 41h1v1h-1zM60 41h1v1h-1zM3 44h1v1h-1zM59 44h1v1h-1z"/>
<path fill="#2cf51f" d="M26 4h3v1h-3zM34 4h3v1h-3zM18 6h1v1h-1zM44 6h1v1h-1zM16 7h1v1h-1zM46 7h1v1h-1zM4 21h1v1h-1zM58 21h1v1h-1zM3 26h1v1h-1zM59 26h1v1h-1zM2 32h1v1h-1zM60 32h1v1h-1zM2 40h1v1h-1zM60 40h1v1h-1z"/>
<path fill="#36f613" d="M29 4h5v1h-5zM21 5h1v1h-1zM41 5h1v1h-1zM13 9h1v1h-1zM49 9h1v1h-1zM7 15h1v1h-1zM55 15h1v1h-1zM4 22h1v1h-1zM58 22h1v1h-1zM3 27h1v1h-1zM59 27h1v1h-1zM2 33h1v1h-1zM60 33h1v1h-1zM2 34h1v1h-1zM60 34h1v1h-1zM2 39h1v1h-1zM60 39h1v1h-1zM3 43h1v1h-1zM59 43h1v1h-1zM6 49h1v1h-1zM56 49h1v1h-1z"/>
<path fill="#40f808" d="M22 5h1v1h-1zM40 5h1v1h-1zM6 17h1v1h-1zM56 17h1v1h-1zM5 19h1v1h-1zM57 19h1v1h-1zM4 23h1v1h-1zM58 23h1v1h-1zM3 28h1v1h-1zM59 28h1v1h-1zM2 35h1v1h-1zM60 35h1v1h-1zM2 36h1v1h-1zM60 36h1v1h-1zM2 37h1v1h-1zM60 37h1v1h-1zM2 38h1v1h-1zM60 38h1v1h-1zM4 45h1v1h-1zM58 45h1v1h-1zM5 47h1v1h-1zM57 47h1v1h-1zM7 50h1v1h-1zM55 50h1v1h-1zM13 56h1v1h-1zM49 56h1v1h-1zM16 58h1v1h-1zM46 58h1v1h-1zM31 62h1v1h-1z"/>
<path fill="#4af907" d="M23 5h1v1h-1zM39 5h1v1h-1zM19 6h1v1h-1zM43 6h1v1h-1zM17 7h1v1h-1zM45 7h1v1h-1zM15 8h1v1h-1zM47 8h1v1h-1zM12 10h1v1h-1zM50 10h1v1h-1zM11 11h1v1h-1zM51 11h1v1h-1zM8 14h1v1h-1zM54 14h1v1h-1zM3 29h1v1h-1zM59 29h1v1h-1zM3 30h1v1h-1zM59 30h1v1h-1zM3 42h1v1h-1zM59 42h1v1h-1zM8 51h1v1h-1zM54 51h1v1h-1zM9 52h1v1h-1zM53 52h1v1h-1zM10 53h1v1h-1zM52 53h1v1h-1zM11 54h1v1h-1zM51 54h1v1h-1zM12 55h1v1h-1zM50 55h1v1h-1zM15 57h1v1h-1zM47 57h1v1h-1zM18 59h1v1h-1zM44 59h1v1h-1zM21 60h1v1h-1zM41 60h1v1h-1zM24 61h15v1h-15z"/>
<path fill="#54fa05" d="M24 5h1v1h-1zM38 5h1v1h-1zM20 6h1v1h-1zM42 6h1v1h-1zM10 12h1v1h-1zM52 12h1v1h-1zM9 13h1v1h-1zM53 13h1v1h-1zM5 20h1v1h-1zM57 20h1v1h-1zM4 24h1v1h-1zM58 24h1v1h-1zM4 25h1v1h-1zM58 25h1v1h-1zM3 31h1v1h-1zM59 31h1v1h-1zM3 41h1v1h-1zM59 41h1v1h-1zM4 44h1v1h-1zM58 44h1v1h-1zM5 46h1v1h-1zM57 46h1v1h-1zM6 48h1v1h-1zM56 48h1v1h-1zM14 56h1v1h-1zM48 56h1v1h-1zM17 58h1v1h-1zM45 58h1v1h-1zM19 59h2v1h-2zM42 59h2v1h-2zM22 60h3v1h-3zM38 60h3v1h-3z"/>
<path fill="#5efb04" d="M25 5h1v1h-1zM37 5h1v1h-1zM14 9h1v1h-1zM48 9h1v1h-1zM7 16h1v1h-1zM55 16h1v1h-1zM6 18h1v1h-1zM56 18h1v1h-1zM5 21h1v1h-1zM57 21h1v1h-1zM4 26h1v1h-1zM58 26h1v1h-1zM3 32h1v1h-1zM59 32h1v1h-1zM3 33h1v1h-1zM59 33h1v1h-1zM3 40h1v1h-1zM59 40h1v1h-1zM7 49h1v1h-1zM55 49h1v1h-1zM12 54h1v1h-1zM50 54h1v1h-1zM13 55h1v1h-1zM49 55h1v1h-1zM15 56h1v1h-1zM47 56h1v1h-1zM16 57h1v1h-1zM46 57h1v1h-1zM18 58h2v1h-2zM43 58h2v1h-2zM21 59h2v1h-2zM40 59h2v1h-2zM25 60h13v1h-13z"/>
<path fill="#68fc03" d="M26 5h3v1h-3zM34 5h3v1h-3zM21 6h1v1h-1zM41 6h1v1h-1zM18 7h1v1h-1zM44 7h1v1h-1zM16 8h1v1h-1zM46 8h1v1h-1zM13 10h1v1h-1zM49 10h1v1h-1zM8 15h1v1h-1zM54 15h1v1h-1zM4 27h1v1h-1zM58 27h1v1h-1zM3 34h1v1h-1zM59 34h1v1h-1zM3 35h1v1h-1zM59 35h1v1h-1zM3 36h1v1h-1zM59 36h1v1h-1zM3 37h1v1h-1zM59 37h1v1h-1zM3 38h1v1h-1zM59 38h1v1h-1zM3 39h1v1h-1zM59 39h1v1h-1zM4 43h1v1h-1zM58 43h1v1h-1zM6 47h1v1h-1zM56 47h1v1h-1zM8 50h1v1h-1zM54 50h1v1h-1zM9 51h1v1h-1zM53 51h1v1h-1zM10 52h1v1h-1zM52 52h1v1h-1zM11 53h1v1h-1zM51 53h1v1h-1zM14 55h1v1h-1zM48 55h1v1h-1zM17 57h1v1h-1zM45 57h1v1h-1zM20 58h1v1h-1zM42 58h1v1h-1zM23 59h4v1h-4zM36 59h4v1h-4z"/>
<path fill="#72fd02" d="M29 5h5v1h-5zM22 6h1v1h-1zM40 6h1v1h-1zM12 11h1v1h-1zM50 11h1v1h-1zM6 19h1v1h-1zM56 19h1v1h-1zM5 22h1v1h-1zM57 22h1v1h-1zM4 28h1v1h-1zM58 28h1v1h-1zM4 29h1v1h-1zM58 29h1v1h-1zM4 42h1v1h-1zM58 42h1v1h-1zM5 45h1v1h-1zM57 45h1v1h-1zM7 48h1v1h-1zM55 48h1v1h-1zM13 54h1v1h-1zM49 54h1v1h-1zM15 55h1v1h-1zM47 55h1v1h-1zM16 56h2v1h-2zM45 56h2v1h-2zM18 57h2v1h-2zM43 57h2v1h-2zM21 58h3v1h-3zM39 58h3v1h-3zM27 59h9v1h-9z"/>
<path fill="#7cff01" d="M19 7h1v1h-1zM43 7h1v1h-1zM17 8h1v1h-1zM45 8h1v1h-1zM15 9h1v1h-1zM47 9h1v1h-1zM11 12h1v1h-1zM51 12h1v1h-1zM10 13h1v1h-1zM52 13h1v1h-1zM9 14h1v1h-1zM53 14h1v1h-1zM7 17h1v1h-1zM55 17h1v1h-1zM5 23h1v1h-1zM57 23h1v1h-1zM4 30h1v1h-1zM58 30h1v1h-1zM8 49h1v1h-1zM54 49h1v1h-1zM9 50h1v1h-1zM53 50h1v1h-1zM10 51h1v1h-1zM52 51h1v1h-1zM11 52h1v1h-1zM51 52h1v1h-1zM12 53h1v1h-1zM50 53h1v1h-1zM14 54h1v1h-1zM48 54h1v1h-1zM16 55h1v1h-1zM46 55h1v1h-1zM18 56h1v1h-1zM44 56h1v1h-1zM20 57h3v1h-3zM40 57h3v1h-3zM24 58h15v1h-15z"/>
<path fill="#83ff00" d="M23 6h1v1h-1zM39 6h1v1h-1zM6 20h1v1h-1zM56 20h1v1h-1zM5 24h1v1h-1zM57 24h1v1h-1zM5 25h1v1h-1zM57 25h1v1h-1zM4 31h1v1h-1zM58 31h1v1h-1zM4 32h1v1h-1zM58 32h1v1h-1zM4 40h1v1h-1zM58 40h1v1h-1zM4 41h1v1h-1zM58 41h1v1h-1zM5 44h1v1h-1zM57 44h1v1h-1zM6 46h1v1h-1zM56 46h1v1h-1zM13 53h1v1h-1zM49 53h1v1h-1zM15 54h1v1h-1zM47 54h1v1h-1zM17 55h1v1h-1zM45 55h1v1h-1zM19 56h3v1h-3zM41 56h3v1h-3zM23 57h17v1h-17z"/>
<path fill="#89ff00" d="M24 6h2v1h-2zM37 6h2v1h-2zM20 7h1v1h-1zM42 7h1v1h-1zM14 10h1v1h-1zM48 10h1v1h-1zM8 16h1v1h-1zM54 16h1v1h-1zM7 18h1v1h-1zM55 18h1v1h-1zM6 21h1v1h-1zM56 21h1v1h-1zM5 26h1v1h-1zM57 26h1v1h-1zM4 33h1v1h-1zM58 33h1v1h-1zM4 34h1v1h-1zM58 34h1v1h-1zM4 35h1v1h-1zM58 35h1v1h-1zM4 38h1v1h-1zM58 38h1v1h-1zM4 39h1v1h-1zM58 39h1v1h-1zM5 43h1v1h-1zM57 43h1v1h-1zM6 45h1v1h-1zM56 45h1v1h-1zM7 47h1v1h-1zM55 47h1v1h-1zM8 48h1v1h-1zM54 48h1v1h-1zM11 51h1v1h-1zM51 51h1v1h-1zM12 52h1v1h-1zM50 52h1v1h-1zM14 53h1v1h-1zM48 53h1v1h-1zM16 54h1v1h-1zM46 54h1v1h-1zM18 55h3v1h-3zM42 55h3v1h-3zM22 56h19v1h-19z"/>
<path fill="#8fff00" d="M26 6h2v1h-2zM35 6h2v1h-2zM21 7h1v1h-1zM41 7h1v1h-1zM18 8h1v1h-1zM44 8h1v1h-1zM16 9h1v1h-1zM46 9h1v1h-1zM13 11h1v1h-1zM49 11h1v1h-1zM9 15h1v1h-1zM53 15h1v1h-1zM5 27h1v1h-1zM57 27h1v1h-1zM4 36h1v1h-1zM58 36h1v1h-1zM4 37h1v1h-1zM58 37h1v1h-1zM5 42h1v1h-1zM57 42h1v1h-1zM9 49h1v1h-1zM53 49h1v1h-1zM10 50h1v1h-1zM52 50h1v1h-1zM13 52h1v1h-1zM49 52h1v1h-1zM15 53h2v1h-2zM46 53h2v1h-2zM17 54h3v1h-3zM43 54h3v1h-3zM21 55h21v1h-21z"/>
<path fill="#95ff00" d="M28 6h7v1h-7zM22 7h1v1h-1zM40 7h1v1h-1zM15 10h1v1h-1zM47 10h1v1h-1zM12 12h1v1h-1zM50 12h1v1h-1zM11 13h1v1h-1zM51 13h1v1h-1zM10 14h1v1h-1zM52 14h1v1h-1zM8 17h1v1h-1zM54 17h1v1h-1zM7 19h1v1h-1zM55 19h1v1h-1zM6 22h1v1h-1zM56 22h1v1h-1zM5 28h1v1h-1zM57 28h1v1h-1zM5 29h1v1h-1zM57 29h1v1h-1zM5 41h1v1h-1zM57 41h1v1h-1zM6 44h1v1h-1zM56 44h1v1h-1zM7 46h1v1h-1zM55 46h1v1h-1zM8 47h1v1h-1zM54 47h1v1h-1zM11 50h1v1h-1zM51 50h1v1h-1zM12 51h2v1h-2zM49 51h2v1h-2zM14 52h2v1h-2zM47 52h2v1h-2zM17 53h3v1h-3zM43 53h3v1h-3zM20 54h23v1h-23z"/>
<path fill="#9bff00" d="M19 8h1v1h-1zM43 8h1v1h-1zM17 9h1v1h-1zM45 9h1v1h-1zM6 23h1v1h-1zM56 23h1v1h-1zM6 24h1v1h-1zM56 24h1v1h-1zM5 30h1v1h-1zM57 30h1v1h-1zM5 31h1v1h-1zM57 31h1v1h-1zM5 32h1v1h-1zM57 32h1v1h-1zM5 40h1v1h-1zM57 40h1v1h-1zM7 45h1v1h-1zM55 45h1v1h-1zM9 48h1v1h-1zM53 48h1v1h-1zM10 49h1v1h-1zM52 49h1v1h-1zM12 50h1v1h-1zM50 50h1v1h-1zM14 51h1v1h-1zM48 51h1v1h-1zM16 52h3v1h-3zM44 52h3v1h-3zM20 53h23v1h-23z"/>
<path fill="#a1ff00" d="M23 7h1v1h-1zM39 7h1v1h-1zM20 8h1v1h-1zM42 8h1v1h-1zM14 11h1v1h-1zM48 11h1v1h-1zM9 16h1v1h-1zM53 16h1v1h-1zM8 18h1v1h-1zM54 18h1v1h-1zM7 20h1v1h-1zM55 20h1v1h-1zM6 25h1v1h-1zM56 25h1v1h-1zM5 33h1v1h-1zM57 33h1v1h-1zM5 34h1v1h-1zM57 34h1v1h-1zM5 35h1v1h-1zM57 35h1v1h-1zM5 36h1v1h-1zM57 36h1v1h-1zM5 37h1v1h-1zM57 37h1v1h-1zM5 38h1v1h-1zM57 38h1v1h-1zM5 39h1v1h-1zM57 39h1v1h-1zM6 43h1v1h-1zM56 43h1v1h-1zM8 46h1v1h-1zM54 46h1v1h-1zM9 47h1v1h-1zM53 47h1v1h-1zM10 48h1v1h-1zM52 48h1v1h-1zM11 49h1v1h-1zM51 49h1v1h-1zM13 50h1v1h-1zM49 50h1v1h-1zM15 51h4v1h-4zM44 51h4v1h-4zM19 52h25v1h-25z"/>
<path fill="#a7ff00" d="M24 7h2v1h-2zM37 7h2v1h-2zM18 9h1v1h-1zM44 9h1v1h-1zM16 10h1v1h-1zM46 10h1v1h-1zM13 12h1v1h-1zM49 12h1v1h-1zM12 13h1v1h-1zM50 13h1v1h-1zM11 14h1v1h-1zM51 14h1v1h-1zM10 15h1v1h-1zM52 15h1v1h-1zM7 21h1v1h-1zM55 21h1v1h-1zM6 26h1v1h-1zM56 26h1v1h-1zM6 27h1v1h-1zM56 27h1v1h-1zM6 42h1v1h-1zM56 42h1v1h-1zM7 44h1v1h-1zM55 44h1v1h-1zM12 49h1v1h-1zM50 49h1v1h-1zM14 50h5v1h-5zM23 50h17v1h-17zM44 50h5v1h-5zM19 51h25v1h-25z"/>
<path fill="#adff00" d="M26 7h2v1h-2zM35 7h2v1h-2zM21 8h1v1h-1zM41 8h1v1h-1zM9 17h1v1h-1zM53 17h1v1h-1zM8 19h1v1h-1zM54 19h1v1h-1zM7 22h1v1h-1zM55 22h1v1h-1zM6 28h1v1h-1zM56 28h1v1h-1zM6 29h1v1h-1zM56 29h1v1h-1zM6 40h1v1h-1zM56 40h1v1h-1zM6 41h1v1h-1zM56 41h1v1h-1zM7 43h1v1h-1zM55 43h1v1h-1zM8 45h1v1h-1zM54 45h1v1h-1zM9 46h1v1h-1zM53 46h1v1h-1zM10 47h1v1h-1zM52 47h1v1h-1zM11 48h2v1h-2zM50 48h2v1h-2zM13 49h5v1h-5zM20 49h23v1h-23zM45 49h5v1h-5zM19 50h4v1h-4zM40 50h4v1h-4z"/>
<path fill="#b3ff00" d="M28 7h7v1h-7zM22 8h1v1h-1zM40 8h1v1h-1zM19 9h1v1h-1zM43 9h1v1h-1zM17 10h1v1h-1zM45 10h1v1h-1zM15 11h1v1h-1zM47 11h1v1h-1zM7 23h1v1h-1zM55 23h1v1h-1zM6 30h1v1h-1zM56 30h1v1h-1zM6 31h1v1h-1zM56 31h1v1h-1zM6 32h1v1h-1zM56 32h1v1h-1zM6 38h1v1h-1zM56 38h1v1h-1zM6 39h1v1h-1zM56 39h1v1h-1zM7 42h1v1h-1zM55 42h1v1h-1zM8 44h1v1h-1zM54 44h1v1h-1zM10 46h1v1h-1zM52 46h1v1h-1zM11 47h1v1h-1zM51 47h1v1h-1zM13 48h3v1h-3zM20 48h23v1h-23zM47 48h3v1h-3zM18 49h2v1h-2zM43 49h2v1h-2z"/>
<path fill="#baff00" d="M23 8h1v1h-1zM39 8h1v1h-1zM14 12h1v1h-1zM48 12h1v1h-1zM13 13h1v1h-1zM49 13h1v1h-1zM11 15h1v1h-1zM51 15h1v1h-1zM10 16h1v1h-1zM52 16h1v1h-1zM9 18h1v1h-1zM53 18h1v1h-1zM8 20h1v1h-1zM54 20h1v1h-1zM7 24h1v1h-1zM55 24h1v1h-1zM7 25h1v1h-1zM55 25h1v1h-1zM6 33h1v1h-1zM56 33h1v1h-1zM6 34h1v1h-1zM56 34h1v1h-1zM6 35h1v1h-1zM56 35h1v1h-1zM6 36h1v1h-1zM56 36h1v1h-1zM6 37h1v1h-1zM56 37h1v1h-1zM7 41h1v1h-1zM55 41h1v1h-1zM8 43h1v1h-1zM54 43h1v1h-1zM9 45h1v1h-1zM53 45h1v1h-1zM11 46h1v1h-1zM51 46h1v1h-1zM12 47h3v1h-3zM21 47h21v1h-21zM48 47h3v1h-3zM16 48h4v1h-4zM43 48h4v1h-4z"/>
<path fill="#c0ff00" d="M24 8h1v1h-1zM38 8h1v1h-1zM20 9h1v1h-1zM42 9h1v1h-1zM18 10h1v1h-1zM44 10h1v1h-1zM16 11h1v1h-1zM46 11h1v1h-1zM12 14h1v1h-1zM50 14h1v1h-1zM8 21h1v1h-1zM54 21h1v1h-1zM7 26h1v1h-1zM55 26h1v1h-1zM7 27h1v1h-1zM55 27h1v1h-1zM7 40h1v1h-1zM55 40h1v1h-1zM9 44h1v1h-1zM53 44h1v1h-1zM10 45h1v1h-1zM52 45h1v1h-1zM12 46h2v1h-2zM22 46h19v1h-19zM49 46h2v1h-2zM15 47h6v1h-6zM42 47h6v1h-6z"/>
<path fill="#c4fc00" d="M25 8h2v1h-2zM36 8h2v1h-2zM21 9h1v1h-1zM41 9h1v1h-1zM15 12h1v1h-1zM47 12h1v1h-1zM10 17h1v1h-1zM52 17h1v1h-1zM9 19h1v1h-1zM53 19h1v1h-1zM8 22h1v1h-1zM54 22h1v1h-1zM7 28h1v1h-1zM55 28h1v1h-1zM7 29h1v1h-1zM55 29h1v1h-1zM7 30h1v1h-1zM55 30h1v1h-1zM7 31h1v1h-1zM55 31h1v1h-1zM7 37h1v1h-1zM55 37h1v1h-1zM7 38h1v1h-1zM55 38h1v1h-1zM7 39h1v1h-1zM55 39h1v1h-1zM8 41h1v1h-1zM54 41h1v1h-1zM8 42h1v1h-1zM54 42h1v1h-1zM9 43h1v1h-1zM53 43h1v1h-1zM10 44h1v1h-1zM52 44h1v1h-1zM11 45h2v1h-2zM23 45h17v1h-17zM50 45h2v1h-2zM14 46h8v1h-8zM41 46h8v1h-8z"/>
<path fill="#c8fa00" d="M27 8h4v1h-4zM32 8h4v1h-4zM22 9h1v1h-1zM40 9h1v1h-1zM19 10h1v1h-1zM43 10h1v1h-1zM17 11h1v1h-1zM45 11h1v1h-1zM14 13h1v1h-1zM48 13h1v1h-1zM13 14h1v1h-1zM49 14h1v1h-1zM12 15h1v1h-1zM50 15h1v1h-1zM11 16h1v1h-1zM51 16h1v1h-1zM9 20h1v1h-1zM53 20h1v1h-1zM8 23h1v1h-1zM54 23h1v1h-1zM8 24h1v1h-1zM54 24h1v1h-1zM7 32h1v1h-1zM55 32h1v1h-1zM7 33h1v1h-1zM55 33h1v1h-1zM7 34h1v1h-1zM55 34h1v1h-1zM7 35h1v1h-1zM55 35h1v1h-1zM7 36h1v1h-1zM55 36h1v1h-1zM8 40h1v1h-1zM54 40h1v1h-1zM9 42h1v1h-1zM53 42h1v1h-1zM10 43h1v1h-1zM52 43h1v1h-1zM11 44h1v1h-1zM51 44h1v1h-1zM13 45h10v1h-10zM40 45h10v1h-10z"/>
<path fill="#ccf700" d="M31 8h1v1h-1zM23 9h1v1h-1zM39 9h1v1h-1zM20 10h1v1h-1zM42 10h1v1h-1zM16 12h1v1h-1zM46 12h1v1h-1zM10 18h1v1h-1zM52 18h1v1h-1zM8 25h1v1h-1zM54 25h1v1h-1zM8 26h1v1h-1zM54 26h1v1h-1zM8 38h1v1h-1zM54 38h1v1h-1zM8 39h1v1h-1zM54 39h1v1h-1zM9 41h1v1h-1zM53 41h1v1h-1zM10 42h1v1h-1zM52 42h1v1h-1zM11 43h1v1h-1zM51 43h1v1h-1zM12 44h39v1h-39z"/>
<path fill="#d0f500" d="M24 9h1v1h-1zM38 9h1v1h-1zM18 11h1v1h-1zM44 11h1v1h-1zM15 13h1v1h-1zM47 13h1v1h-1zM11 17h1v1h-1zM51 17h1v1h-1zM10 19h1v1h-1zM52 19h1v1h-1zM9 21h1v1h-1zM53 21h1v1h-1zM9 22h1v1h-1zM53 22h1v1h-1zM8 27h1v1h-1zM54 27h1v1h-1zM8 28h1v1h-1zM54 28h1v1h-1zM8 29h1v1h-1zM54 29h1v1h-1zM8 30h1v1h-1zM54 30h1v1h-1zM8 31h1v1h-1zM54 31h1v1h-1zM8 32h1v1h-1zM54 32h1v1h-1zM8 33h1v1h-1zM54 33h1v1h-1zM8 34h1v1h-1zM54 34h1v1h-1zM8 35h1v1h-1zM54 35h1v1h-1zM8 36h1v1h-1zM54 36h1v1h-1zM8 37h1v1h-1zM54 37h1v1h-1zM9 39h1v1h-1zM53 39h1v1h-1zM9 40h1v1h-1zM53 40h1v1h-1zM10 41h1v1h-1zM52 41h1v1h-1zM11 42h1v1h-1zM51 42h1v1h-1zM12 43h39v1h-39z"/>
<path fill="#d5f200" d="M25 9h2v1h-2zM36 9h2v1h-2zM21 10h1v1h-1zM41 10h1v1h-1zM19 11h1v1h-1zM43 11h1v1h-1zM17 12h1v1h-1zM45 12h1v1h-1zM14 14h1v1h-1zM48 14h1v1h-1zM13 15h1v1h-1zM49 15h1v1h-1zM12 16h1v1h-1zM50 16h1v1h-1zM9 23h1v1h-1zM53 23h1v1h-1zM9 38h1v1h-1zM53 38h1v1h-1zM10 40h1v1h-1zM52 40h1v1h-1zM11 41h1v1h-1zM51 41h1v1h-1zM12 42h39v1h-39z"/>
<path fill="#d9ee00" d="M27 9h9v1h-9zM22 10h1v1h-1zM40 10h1v1h-1zM16 13h1v1h-1zM46 13h1v1h-1zM11 18h1v1h-1zM51 18h1v1h-1zM10 20h1v1h-1zM52 20h1v1h-1zM9 24h1v1h-1zM53 24h1v1h-1zM9 25h1v1h-1zM53 25h1v1h-1zM9 26h1v1h-1zM53 26h1v1h-1zM9 35h1v1h-1zM53 35h1v1h-1zM9 36h1v1h-1zM53 36h1v1h-1zM9 37h1v1h-1zM53 37h1v1h-1zM10 38h1v1h-1zM52 38h1v1h-1zM10 39h1v1h-1zM52 39h1v1h-1zM11 40h1v1h-1zM51 40h1v1h-1zM12 41h39v1h-39z"/>
<path fill="#dde400" d="M23 10h2v1h-2zM38 10h2v1h-2zM20 11h1v1h-1zM42 11h1v1h-1zM18 12h1v1h-1zM44 12h1v1h-1zM15 14h1v1h-1zM47 14h1v1h-1zM14 15h1v1h-1zM48 15h1v1h-1zM13 16h1v1h-1zM49 16h1v1h-1zM12 17h1v1h-1zM50 17h1v1h-1zM11 19h1v1h-1zM51 19h1v1h-1zM10 21h1v1h-1zM52 21h1v1h-1zM10 22h1v1h-1zM52 22h1v1h-1zM9 27h1v1h-1zM53 27h1v1h-1zM9 28h1v1h-1zM53 28h1v1h-1zM9 29h1v1h-1zM53 29h1v1h-1zM9 30h1v1h-1zM53 30h1v1h-1zM9 31h1v1h-1zM53 31h1v1h-1zM9 32h1v1h-1zM53 32h1v1h-1zM9 33h1v1h-1zM53 33h1v1h-1zM9 34h1v1h-1zM53 34h1v1h-1zM10 36h1v1h-1zM52 36h1v1h-1zM10 37h1v1h-1zM52 37h1v1h-1zM11 38h1v1h-1zM51 38h1v1h-1zM11 39h2v1h-2zM50 39h2v1h-2zM12 40h4v1h-4zM47 40h4v1h-4z"/>
<path fill="#e1d900" d="M25 10h1v1h-1zM37 10h1v1h-1zM21 11h1v1h-1zM41 11h1v1h-1zM19 12h1v1h-1zM43 12h1v1h-1zM17 13h1v1h-1zM45 13h1v1h-1zM12 18h1v1h-1zM50 18h1v1h-1zM11 20h1v1h-1zM51 20h1v1h-1zM10 23h1v1h-1zM52 23h1v1h-1zM10 34h1v1h-1zM52 34h1v1h-1zM10 35h1v1h-1zM52 35h1v1h-1zM11 37h1v1h-1zM51 37h1v1h-1zM12 38h1v1h-1zM50 38h1v1h-1zM13 39h3v1h-3zM47 39h3v1h-3zM16 40h31v1h-31z"/>
<path fill="#e5cf00" d="M26 10h3v1h-3zM34 10h3v1h-3zM22 11h1v1h-1zM40 11h1v1h-1zM20 12h1v1h-1zM42 12h1v1h-1zM18 13h1v1h-1zM44 13h1v1h-1zM16 14h1v1h-1zM46 14h1v1h-1zM15 15h1v1h-1zM47 15h1v1h-1zM14 16h1v1h-1zM48 16h1v1h-1zM13 17h1v1h-1zM49 17h1v1h-1zM11 21h1v1h-1zM51 21h1v1h-1zM10 24h1v1h-1zM52 24h1v1h-1zM10 25h1v1h-1zM52 25h1v1h-1zM10 26h1v1h-1zM52 26h1v1h-1zM10 27h1v1h-1zM52 27h1v1h-1zM10 28h1v1h-1zM52 28h1v1h-1zM10 29h1v1h-1zM52 29h1v1h-1zM10 30h1v1h-1zM52 30h1v1h-1zM10 31h1v1h-1zM52 31h1v1h-1zM10 32h1v1h-1zM52 32h1v1h-1zM10 33h1v1h-1zM52 33h1v1h-1zM11 35h1v1h-1zM51 35h1v1h-1zM11 36h1v1h-1zM51 36h1v1h-1zM12 37h1v1h-1zM50 37h1v1h-1zM13 38h3v1h-3zM47 38h3v1h-3zM16 39h31v1h-31z"/>
<path fill="#e9c400" d="M29 10h5v1h-5zM23 11h2v1h-2zM38 11h2v1h-2zM17 14h1v1h-1zM45 14h1v1h-1zM12 19h1v1h-1zM50 19h1v1h-1zM11 22h1v1h-1zM51 22h1v1h-1zM11 32h1v1h-1zM51 32h1v1h-1zM11 33h1v1h-1zM51 33h1v1h-1zM11 34h1v1h-1zM51 34h1v1h-1zM12 35h1v1h-1zM50 35h1v1h-1zM12 36h2v1h-2zM49 36h2v1h-2zM13 37h3v1h-3zM47 37h3v1h-3zM16 38h10v1h-10zM37 38h10v1h-10z"/>
<path fill="#ebb800" d="M25 11h1v1h-1zM37 11h1v1h-1zM21 12h1v1h-1zM41 12h1v1h-1zM19 13h1v1h-1zM43 13h1v1h-1zM16 15h1v1h-1zM46 15h1v1h-1zM15 16h1v1h-1zM47 16h1v1h-1zM14 17h1v1h-1zM48 17h1v1h-1zM13 18h1v1h-1zM49 18h1v1h-1zM12 20h1v1h-1zM50 20h1v1h-1zM11 23h1v1h-1zM51 23h1v1h-1zM11 24h1v1h-1zM51 24h1v1h-1zM11 25h1v1h-1zM51 25h1v1h-1zM11 26h1v1h-1zM51 26h1v1h-1zM11 27h1v1h-1zM51 27h1v1h-1zM11 28h1v1h-1zM51 28h1v1h-1zM11 29h1v1h-1zM51 29h1v1h-1zM11 30h1v1h-1zM51 30h1v1h-1zM11 31h1v1h-1zM51 31h1v1h-1zM12 33h1v1h-1zM50 33h1v1h-1zM12 34h1v1h-1zM50 34h1v1h-1zM13 35h1v1h-1zM49 35h1v1h-1zM14 36h2v1h-2zM47 36h2v1h-2zM16 37h6v1h-6zM41 37h6v1h-6zM26 38h11v1h-11z"/>
<path fill="#eeac00" d="M26 11h3v1h-3zM34 11h3v1h-3zM22 12h2v1h-2zM39 12h2v1h-2zM20 13h1v1h-1zM42 13h1v1h-1zM18 14h1v1h-1zM44 14h1v1h-1zM17 15h1v1h-1zM45 15h1v1h-1zM14 18h1v1h-1zM48 18h1v1h-1zM13 19h1v1h-1zM49 19h1v1h-1zM12 21h1v1h-1zM50 21h1v1h-1zM12 22h1v1h-1zM50 22h1v1h-1zM12 31h1v1h-1zM50 31h1v1h-1zM12 32h1v1h-1zM50 32h1v1h-1zM13 33h1v1h-1zM49 33h1v1h-1zM13 34h2v1h-2zM48 34h2v1h-2zM14 35h2v1h-2zM47 35h2v1h-2zM16 36h5v1h-5zM42 36h5v1h-5zM22 37h19v1h-19z"/>
<path fill="#f09e00" d="M29 11h5v1h-5zM24 12h1v1h-1zM38 12h1v1h-1zM21 13h1v1h-1zM41 13h1v1h-1zM19 14h1v1h-1zM43 14h1v1h-1zM16 16h1v1h-1zM46 16h1v1h-1zM15 17h1v1h-1zM47 17h1v1h-1zM13 20h1v1h-1zM49 20h1v1h-1zM12 23h1v1h-1zM50 23h1v1h-1zM12 24h1v1h-1zM50 24h1v1h-1zM12 25h1v1h-1zM50 25h1v1h-1zM12 26h1v1h-1zM50 26h1v1h-1zM12 27h1v1h-1zM50 27h1v1h-1zM12 28h1v1h-1zM50 28h1v1h-1zM12 29h1v1h-1zM50 29h1v1h-1zM12 30h1v1h-1zM50 30h1v1h-1zM13 31h1v1h-1zM49 31h1v1h-1zM13 32h1v1h-1zM49 32h1v1h-1zM14 33h1v1h-1zM48 33h1v1h-1zM15 34h2v1h-2zM46 34h2v1h-2zM16 35h4v1h-4zM43 35h4v1h-4zM21 36h9v1h-9zM33 36h9v1h-9z"/>
<path fill="#f08300" d="M25 12h2v1h-2zM36 12h2v1h-2zM22 13h1v1h-1zM40 13h1v1h-1zM20 14h1v1h-1zM42 14h1v1h-1zM18 15h1v1h-1zM44 15h1v1h-1zM17 16h1v1h-1zM45 16h1v1h-1zM16 17h1v1h-1zM46 17h1v1h-1zM15 18h1v1h-1zM47 18h1v1h-1zM14 19h1v1h-1zM48 19h1v1h-1zM13 21h1v1h-1zM49 21h1v1h-1zM13 22h1v1h-1zM49 22h1v1h-1zM13 23h1v1h-1zM49 23h1v1h-1zM13 28h1v1h-1zM49 28h1v1h-1zM13 29h1v1h-1zM49 29h1v1h-1zM13 30h1v1h-1zM49 30h1v1h-1zM14 31h1v1h-1zM48 31h1v1h-1zM14 32h2v1h-2zM47 32h2v1h-2zM15 33h2v1h-2zM46 33h2v1h-2zM17 34h3v1h-3zM43 34h3v1h-3zM20 35h6v1h-6zM37 35h6v1h-6zM30 36h3v1h-3z"/>
<path fill="#f06900" d="M27 12h9v1h-9zM23 13h2v1h-2zM38 13h2v1h-2zM21 14h1v1h-1zM41 14h1v1h-1zM19 15h1v1h-1zM43 15h1v1h-1zM15 19h1v1h-1zM47 19h1v1h-1zM14 20h1v1h-1zM48 20h1v1h-1zM14 21h1v1h-1zM48 21h1v1h-1zM13 24h1v1h-1zM49 24h1v1h-1zM13 25h1v1h-1zM49 25h1v1h-1zM13 26h1v1h-1zM49 26h1v1h-1zM13 27h1v1h-1zM49 27h1v1h-1zM14 29h1v1h-1zM48 29h1v1h-1zM14 30h1v1h-1zM48 30h1v1h-1zM15 31h1v1h-1zM47 31h1v1h-1zM16 32h1v1h-1zM46 32h1v1h-1zM17 33h3v1h-3zM43 33h3v1h-3zM20 34h4v1h-4zM39 34h4v1h-4zM26 35h11v1h-11z"/>
<path fill="#f04e00" d="M25 13h1v1h-1zM37 13h1v1h-1zM22 14h1v1h-1zM40 14h1v1h-1zM20 15h1v1h-1zM42 15h1v1h-1zM18 16h1v1h-1zM44 16h1v1h-1zM17 17h1v1h-1zM45 17h1v1h-1zM16 18h1v1h-1zM46 18h1v1h-1zM15 20h1v1h-1zM47 20h1v1h-1zM14 22h1v1h-1zM48 22h1v1h-1zM14 23h1v1h-1zM48 23h1v1h-1zM14 24h1v1h-1zM48 24h1v1h-1zM14 25h1v1h-1zM48 25h1v1h-1zM14 26h1v1h-1zM48 26h1v1h-1zM14 27h1v1h-1zM48 27h1v1h-1zM14 28h1v1h-1zM48 28h1v1h-1zM15 29h1v1h-1zM47 29h1v1h-1zM15 30h2v1h-2zM46 30h2v1h-2zM16 31h2v1h-2zM45 31h2v1h-2zM17 32h3v1h-3zM43 32h3v1h-3zM20 33h3v1h-3zM40 33h3v1h-3zM24 34h15v1h-15z"/>
<path fill="#f13800" d="M26 13h4v1h-4zM33 13h4v1h-4zM23 14h1v1h-1zM39 14h1v1h-1zM21 15h1v1h-1zM41 15h1v1h-1zM19 16h1v1h-1zM43 16h1v1h-1zM18 17h1v1h-1zM44 17h1v1h-1zM17 18h1v1h-1zM45 18h1v1h-1zM16 19h1v1h-1zM46 19h1v1h-1zM16 20h1v1h-1zM46 20h1v1h-1zM15 21h1v1h-1zM47 21h1v1h-1zM15 22h1v1h-1zM47 22h1v1h-1zM15 23h1v1h-1zM47 23h1v1h-1zM15 25h1v1h-1zM47 25h1v1h-1zM15 26h1v1h-1zM47 26h1v1h-1zM15 27h1v1h-1zM47 27h1v1h-1zM15 28h1v1h-1zM47 28h1v1h-1zM16 29h1v1h-1zM46 29h1v1h-1zM17 30h1v1h-1zM45 30h1v1h-1zM18 31h2v1h-2zM43 31h2v1h-2zM20 32h3v1h-3zM40 32h3v1h-3zM23 33h7v1h-7zM33 33h7v1h-7z"/>
<path fill="#f22400" d="M30 13h3v1h-3zM24 14h2v1h-2zM37 14h2v1h-2zM22 15h1v1h-1zM40 15h1v1h-1zM20 16h1v1h-1zM42 16h1v1h-1zM19 17h1v1h-1zM43 17h1v1h-1zM18 18h1v1h-1zM44 18h1v1h-1zM17 19h1v1h-1zM45 19h1v1h-1zM16 21h1v1h-1zM46 21h1v1h-1zM16 22h1v1h-1zM46 22h1v1h-1zM15 24h1v1h-1zM47 24h1v1h-1zM16 26h1v1h-1zM46 26h1v1h-1zM16 27h1v1h-1zM46 27h1v1h-1zM16 28h2v1h-2zM45 28h2v1h-2zM17 29h2v1h-2zM44 29h2v1h-2zM18 30h2v1h-2zM43 30h2v1h-2zM20 31h3v1h-3zM40 31h3v1h-3zM23 32h4v1h-4zM36 32h4v1h-4zM30 33h3v1h-3z"/>
<path fill="#f31000" d="M26 14h4v1h-4zM33 14h4v1h-4zM23 15h2v1h-2zM38 15h2v1h-2zM21 16h2v1h-2zM40 16h2v1h-2zM20 17h1v1h-1zM42 17h1v1h-1zM19 18h1v1h-1zM43 18h1v1h-1zM18 19h1v1h-1zM44 19h1v1h-1zM17 20h1v1h-1zM45 20h1v1h-1zM17 21h1v1h-1zM45 21h1v1h-1zM17 22h1v1h-1zM45 22h1v1h-1zM16 23h1v1h-1zM46 23h1v1h-1zM16 24h1v1h-1zM46 24h1v1h-1zM16 25h2v1h-2zM45 25h2v1h-2zM17 26h1v1h-1zM45 26h1v1h-1zM17 27h1v1h-1zM45 27h1v1h-1zM18 28h1v1h-1zM44 28h1v1h-1zM19 29h2v1h-2zM42 29h2v1h-2zM20 30h3v1h-3zM40 30h3v1h-3zM23 31h3v1h-3zM37 31h3v1h-3zM27 32h9v1h-9z"/>
<path fill="#ef0700" d="M30 14h3v1h-3zM25 15h2v1h-2zM36 15h2v1h-2zM23 16h1v1h-1zM39 16h1v1h-1zM21 17h1v1h-1zM41 17h1v1h-1zM20 18h1v1h-1zM42 18h1v1h-1zM19 19h1v1h-1zM43 19h1v1h-1zM18 20h1v1h-1zM44 20h1v1h-1zM18 21h1v1h-1zM44 21h1v1h-1zM18 22h1v1h-1zM44 22h1v1h-1zM17 23h1v1h-1zM45 23h1v1h-1zM17 24h2v1h-2zM44 24h2v1h-2zM18 25h1v1h-1zM44 25h1v1h-1zM18 26h1v1h-1zM44 26h1v1h-1zM18 27h2v1h-2zM43 27h2v1h-2zM19 28h2v1h-2zM42 28h2v1h-2zM21 29h2v1h-2zM40 29h2v1h-2zM23 30h3v1h-3zM37 30h3v1h-3zM26 31h11v1h-11z"/>
<path fill="#e60400" d="M27 15h9v1h-9zM24 16h2v1h-2zM37 16h2v1h-2zM22 17h2v1h-2zM39 17h2v1h-2zM21 18h1v1h-1zM41 18h1v1h-1zM20 19h1v1h-1zM42 19h1v1h-1zM19 20h2v1h-2zM42 20h2v1h-2zM19 21h1v1h-1zM43 21h1v1h-1zM19 22h1v1h-1zM43 22h1v1h-1zM18 23h2v1h-2zM43 23h2v1h-2zM19 24h1v1h-1zM43 24h1v1h-1zM19 25h1v1h-1zM43 25h1v1h-1zM19 26h2v1h-2zM42 26h2v1h-2zM20 27h2v1h-2zM41 27h2v1h-2zM21 28h2v1h-2zM40 28h2v1h-2zM23 29h3v1h-3zM37 29h3v1h-3zM26 30h11v1h-11z"/>
<path fill="#de0200" d="M26 16h4v1h-4zM33 16h4v1h-4zM24 17h2v1h-2zM37 17h2v1h-2zM22 18h2v1h-2zM39 18h2v1h-2zM21 19h2v1h-2zM40 19h2v1h-2zM21 20h1v1h-1zM41 20h1v1h-1zM20 21h1v1h-1zM42 21h1v1h-1zM20 22h1v1h-1zM42 22h1v1h-1zM20 23h1v1h-1zM42 23h1v1h-1zM20 24h1v1h-1zM42 24h1v1h-1zM20 25h2v1h-2zM41 25h2v1h-2zM21 26h2v1h-2zM40 26h2v1h-2zM22 27h2v1h-2zM39 27h2v1h-2zM23 28h4v1h-4zM36 28h4v1h-4zM26 29h11v1h-11z"/>
<path fill="#d50000" d="M30 16h3v1h-3zM26 17h3v1h-3zM34 17h3v1h-3zM24 18h2v1h-2zM37 18h2v1h-2zM23 19h2v1h-2zM38 19h2v1h-2zM22 20h2v1h-2zM39 20h2v1h-2zM21 21h2v1h-2zM40 21h2v1h-2zM21 22h2v1h-2zM40 22h2v1h-2zM21 23h2v1h-2zM40 23h2v1h-2zM21 24h2v1h-2zM40 24h2v1h-2zM22 25h2v1h-2zM39 25h2v1h-2zM23 26h2v1h-2zM38 26h2v1h-2zM24 27h4v1h-4zM35 27h4v1h-4zM27 28h9v1h-9z"/>
<path fill="#cd0000" d="M29 17h5v1h-5zM26 18h5v1h-5zM32 18h5v1h-5zM25 19h2v1h-2zM36 19h2v1h-2zM24 20h2v1h-2zM37 20h2v1h-2zM23 21h2v1h-2zM38 21h2v1h-2zM23 22h2v1h-2zM38 22h2v1h-2zM23 23h2v1h-2zM38 23h2v1h-2zM23 24h3v1h-3zM37 24h3v1h-3zM24 25h3v1h-3zM36 25h3v1h-3zM25 26h5v1h-5zM33 26h5v1h-5zM28 27h7v1h-7z"/>
<path fill="#c50000" d="M31 18h1v1h-1zM27 19h9v1h-9zM26 20h4v1h-4zM33 20h4v1h-4zM25 21h3v1h-3zM35 21h3v1h-3zM25 22h3v1h-3zM35 22h3v1h-3zM25 23h3v1h-3zM35 23h3v1h-3zM26 24h4v1h-4zM33 24h4v1h-4zM27 25h9v1h-9zM30 26h3v1h-3z"/>
<path fill="#bc0000" d="M30 20h3v1h-3zM28 21h7v1h-7zM28 22h7v1h-7zM28 23h7v1h-7zM30 24h3v1h-3z"/>
</g>
</g>
<path d="M929.4 72.4V516.1H1374.4" fill="none" stroke="#3a3a55" stroke-opacity="0.55" stroke-width="1.2"/>
<rect x="1395.0" y="108.8" width="41.0" height="321.1" fill="url(#cb)" filter="url(#bl2)"/>
<text class="ts" x="1443.0" y="114.1" font-size="22.0" text-anchor="start">0.019</text>
<text class="ts" x="1443.0" y="146.9" font-size="22.0" text-anchor="start">0.000</text>
<text class="ts" x="1443.0" y="179.8" font-size="22.0" text-anchor="start">−0.019</text>
<text class="ts" x="1443.0" y="212.6" font-size="22.0" text-anchor="start">−0.038</text>
<text class="ts" x="1443.0" y="245.5" font-size="22.0" text-anchor="start">−0.057</text>
<text class="ts" x="1443.0" y="278.4" font-size="22.0" text-anchor="start">−0.076</text>
<text class="ts" x="1443.0" y="311.2" font-size="22.0" text-anchor="start">−0.095</text>
<text class="ts" x="1443.0" y="344.1" font-size="22.0" text-anchor="start">−0.114</text>
<text class="ts" x="1443.0" y="376.9" font-size="22.0" text-anchor="start">−0.132</text>
<text class="ts" x="1443.0" y="409.8" font-size="22.0" text-anchor="start">−0.151</text>
<text class="ts" x="1443.0" y="442.7" font-size="22.0" text-anchor="start">−0.170</text>
<text class="tm" x="1438.0" y="472.0" font-size="16.5" text-anchor="start" style="stroke-width:0.15px">Waves</text>
<text class="ts" x="1151.2" y="59.0" font-size="40.0" text-anchor="middle">OBJ：<tspan dx="3">0.40°</tspan></text>
<text class="ts" x="797.5" y="81.0" font-size="37.0" text-anchor="start" letter-spacing="1.2">(c)</text>
<text class="ts" x="920.5" y="84.6" font-size="29.0" text-anchor="end">1.0</text>
<text class="ts" x="923.0" y="300.6" font-size="29.0" text-anchor="end">0</text>
<text class="ts" x="920.5" y="513.6" font-size="29.0" text-anchor="end">−1.0</text>
<text class="ts" x="928.0" y="541.1" font-size="29.0" text-anchor="middle">−1.0</text>
<text class="ts" x="1153.0" y="541.1" font-size="29.0" text-anchor="middle">0</text>
<text class="ts" x="1373.0" y="541.1" font-size="29.0" text-anchor="middle">1.0</text>
<text class="tm" x="1153.0" y="579.7" font-size="23.9" text-anchor="middle">X-Pupil (Rel. Units)</text>
<text class="tm" font-size="23.9" text-anchor="middle" transform="translate(819.0 291.0) rotate(-90)" y="7.2">Y-Pupil (Rel. Units)</text>
</g>
<g id="pd">
<g filter="url(#bl)">
<g transform="translate(936.20 639.80) scale(6.98413 6.97619)" shape-rendering="crispEdges">
<rect x="0" y="0" width="63" height="63" fill="#300fc8"/>
<path fill="#2a1ccb" d="M11 54h1v1h-1zM51 54h1v1h-1z"/>
<path fill="#2427ce" d="M9 52h1v1h-1zM53 52h1v1h-1zM10 53h1v1h-1zM52 53h1v1h-1z"/>
<path fill="#1742d6" d="M15 57h1v1h-1zM47 57h1v1h-1z"/>
<path fill="#0f52db" d="M14 56h1v1h-1zM48 56h1v1h-1zM31 62h1v1h-1z"/>
<path fill="#0860e0" d="M6 48h1v1h-1zM56 48h1v1h-1zM17 58h1v1h-1zM45 58h1v1h-1zM21 60h1v1h-1zM41 60h1v1h-1zM24 61h15v1h-15z"/>
<path fill="#056ddb" d="M7 49h1v1h-1zM55 49h1v1h-1zM13 55h1v1h-1zM49 55h1v1h-1zM19 59h1v1h-1zM43 59h1v1h-1zM22 60h1v1h-1zM40 60h1v1h-1z"/>
<path fill="#0379d6" d="M8 50h1v1h-1zM54 50h1v1h-1zM11 53h1v1h-1zM51 53h1v1h-1zM12 54h1v1h-1zM50 54h1v1h-1zM16 57h1v1h-1zM46 57h1v1h-1zM23 60h1v1h-1zM39 60h1v1h-1z"/>
<path fill="#0185d1" d="M9 51h1v1h-1zM53 51h1v1h-1zM10 52h1v1h-1zM52 52h1v1h-1zM18 58h1v1h-1zM44 58h1v1h-1zM20 59h1v1h-1zM42 59h1v1h-1zM24 60h2v1h-2zM37 60h2v1h-2z"/>
<path fill="#0090ca" d="M5 46h1v1h-1zM57 46h1v1h-1zM15 56h1v1h-1zM47 56h1v1h-1zM21 59h1v1h-1zM41 59h1v1h-1zM26 60h11v1h-11z"/>
<path fill="#00a4bb" d="M6 47h1v1h-1zM56 47h1v1h-1zM14 55h1v1h-1zM48 55h1v1h-1zM17 57h1v1h-1zM45 57h1v1h-1zM19 58h1v1h-1zM43 58h1v1h-1zM22 59h1v1h-1zM40 59h1v1h-1z"/>
<path fill="#00aeb4" d="M4 44h1v1h-1zM58 44h1v1h-1zM7 48h1v1h-1zM55 48h1v1h-1zM13 54h1v1h-1zM49 54h1v1h-1zM23 59h2v1h-2zM38 59h2v1h-2z"/>
<path fill="#00b7ac" d="M8 49h1v1h-1zM54 49h1v1h-1zM12 53h1v1h-1zM50 53h1v1h-1zM16 56h1v1h-1zM46 56h1v1h-1zM20 58h1v1h-1zM42 58h1v1h-1zM25 59h4v1h-4zM34 59h4v1h-4z"/>
<path fill="#00c1a5" d="M5 45h1v1h-1zM57 45h1v1h-1zM9 50h1v1h-1zM53 50h1v1h-1zM10 51h1v1h-1zM52 51h1v1h-1zM11 52h1v1h-1zM51 52h1v1h-1zM18 57h1v1h-1zM44 57h1v1h-1zM21 58h1v1h-1zM41 58h1v1h-1zM29 59h5v1h-5z"/>
<path fill="#00ca9b" d="M15 55h1v1h-1zM47 55h1v1h-1z"/>
<path fill="#00d28c" d="M4 43h1v1h-1zM58 43h1v1h-1zM6 46h1v1h-1zM56 46h1v1h-1zM17 56h1v1h-1zM45 56h1v1h-1zM19 57h1v1h-1zM43 57h1v1h-1zM22 58h1v1h-1zM40 58h1v1h-1z"/>
<path fill="#00d97d" d="M3 41h1v1h-1zM59 41h1v1h-1zM14 54h1v1h-1zM48 54h1v1h-1zM23 58h2v1h-2zM38 58h2v1h-2z"/>
<path fill="#01e16e" d="M2 38h1v1h-1zM60 38h1v1h-1zM7 47h1v1h-1zM55 47h1v1h-1zM13 53h1v1h-1zM49 53h1v1h-1zM20 57h1v1h-1zM42 57h1v1h-1zM25 58h2v1h-2zM36 58h2v1h-2z"/>
<path fill="#05e560" d="M5 44h1v1h-1zM57 44h1v1h-1zM8 48h1v1h-1zM54 48h1v1h-1zM9 49h1v1h-1zM53 49h1v1h-1zM12 52h1v1h-1zM50 52h1v1h-1zM16 55h1v1h-1zM46 55h1v1h-1zM18 56h1v1h-1zM44 56h1v1h-1zM27 58h9v1h-9z"/>
<path fill="#0aea51" d="M2 37h1v1h-1zM60 37h1v1h-1zM3 40h1v1h-1zM59 40h1v1h-1zM4 42h1v1h-1zM58 42h1v1h-1zM10 50h1v1h-1zM52 50h1v1h-1zM11 51h1v1h-1zM51 51h1v1h-1zM21 57h1v1h-1zM41 57h1v1h-1z"/>
<path fill="#0fef42" d="M6 45h1v1h-1zM56 45h1v1h-1zM15 54h1v1h-1zM47 54h1v1h-1zM22 57h1v1h-1zM40 57h1v1h-1z"/>
<path fill="#18f136" d="M2 36h1v1h-1zM60 36h1v1h-1zM3 39h1v1h-1zM59 39h1v1h-1zM5 43h1v1h-1zM57 43h1v1h-1zM7 46h1v1h-1zM55 46h1v1h-1zM17 55h1v1h-1zM45 55h1v1h-1zM19 56h1v1h-1zM43 56h1v1h-1zM23 57h1v1h-1zM39 57h1v1h-1z"/>
<path fill="#22f32b" d="M2 35h1v1h-1zM60 35h1v1h-1zM4 41h1v1h-1zM58 41h1v1h-1zM14 53h1v1h-1zM48 53h1v1h-1zM24 57h1v1h-1zM38 57h1v1h-1z"/>
<path fill="#2cf51f" d="M2 24h1v1h-1zM60 24h1v1h-1zM2 34h1v1h-1zM60 34h1v1h-1zM3 38h1v1h-1zM59 38h1v1h-1zM8 47h1v1h-1zM54 47h1v1h-1zM9 48h1v1h-1zM53 48h1v1h-1zM13 52h1v1h-1zM49 52h1v1h-1zM20 56h1v1h-1zM42 56h1v1h-1zM25 57h2v1h-2zM36 57h2v1h-2z"/>
<path fill="#36f613" d="M2 25h1v1h-1zM60 25h1v1h-1zM2 33h1v1h-1zM60 33h1v1h-1zM6 44h1v1h-1zM56 44h1v1h-1zM10 49h1v1h-1zM52 49h1v1h-1zM11 50h1v1h-1zM51 50h1v1h-1zM12 51h1v1h-1zM50 51h1v1h-1zM16 54h1v1h-1zM46 54h1v1h-1zM18 55h1v1h-1zM44 55h1v1h-1zM27 57h9v1h-9z"/>
<path fill="#40f808" d="M2 26h1v1h-1zM60 26h1v1h-1zM2 27h1v1h-1zM60 27h1v1h-1zM2 31h1v1h-1zM60 31h1v1h-1zM2 32h1v1h-1zM60 32h1v1h-1zM3 37h1v1h-1zM59 37h1v1h-1zM4 40h1v1h-1zM58 40h1v1h-1zM5 42h1v1h-1zM57 42h1v1h-1zM7 45h1v1h-1zM55 45h1v1h-1zM21 56h1v1h-1zM41 56h1v1h-1z"/>
<path fill="#4af907" d="M24 1h1v1h-1zM38 1h1v1h-1zM21 2h2v1h-2zM40 2h2v1h-2zM19 3h1v1h-1zM43 3h1v1h-1zM17 4h1v1h-1zM45 4h1v1h-1zM15 5h1v1h-1zM47 5h1v1h-1zM4 18h1v1h-1zM58 18h1v1h-1zM3 21h1v1h-1zM59 21h1v1h-1zM2 28h1v1h-1zM60 28h1v1h-1zM2 29h1v1h-1zM60 29h1v1h-1zM2 30h1v1h-1zM60 30h1v1h-1zM15 53h1v1h-1zM47 53h1v1h-1zM22 56h1v1h-1zM40 56h1v1h-1z"/>
<path fill="#54fa05" d="M25 1h3v1h-3zM35 1h3v1h-3zM23 2h2v1h-2zM38 2h2v1h-2zM20 3h2v1h-2zM41 3h2v1h-2zM18 4h1v1h-1zM44 4h1v1h-1zM16 5h1v1h-1zM46 5h1v1h-1zM14 6h1v1h-1zM48 6h1v1h-1zM11 8h1v1h-1zM51 8h1v1h-1zM10 9h1v1h-1zM52 9h1v1h-1zM9 10h1v1h-1zM53 10h1v1h-1zM6 14h1v1h-1zM56 14h1v1h-1zM5 16h1v1h-1zM57 16h1v1h-1zM3 22h1v1h-1zM59 22h1v1h-1zM3 36h1v1h-1zM59 36h1v1h-1zM4 39h1v1h-1zM58 39h1v1h-1zM6 43h1v1h-1zM56 43h1v1h-1zM8 46h1v1h-1zM54 46h1v1h-1zM14 52h1v1h-1zM48 52h1v1h-1zM17 54h1v1h-1zM45 54h1v1h-1zM19 55h1v1h-1zM43 55h1v1h-1zM23 56h1v1h-1zM39 56h1v1h-1z"/>
<path fill="#5efb04" d="M31 0h1v1h-1zM28 1h7v1h-7zM25 2h4v1h-4zM34 2h4v1h-4zM22 3h2v1h-2zM39 3h2v1h-2zM19 4h1v1h-1zM43 4h1v1h-1zM17 5h1v1h-1zM45 5h1v1h-1zM15 6h1v1h-1zM47 6h1v1h-1zM13 7h1v1h-1zM49 7h1v1h-1zM7 13h1v1h-1zM55 13h1v1h-1zM4 19h1v1h-1zM58 19h1v1h-1zM3 23h1v1h-1zM59 23h1v1h-1zM3 35h1v1h-1zM59 35h1v1h-1zM5 41h1v1h-1zM57 41h1v1h-1zM9 47h1v1h-1zM53 47h1v1h-1zM13 51h1v1h-1zM49 51h1v1h-1zM24 56h1v1h-1zM38 56h1v1h-1z"/>
<path fill="#68fc03" d="M29 2h5v1h-5zM24 3h4v1h-4zM35 3h4v1h-4zM20 4h2v1h-2zM41 4h2v1h-2zM18 5h1v1h-1zM44 5h1v1h-1zM14 7h1v1h-1zM48 7h1v1h-1zM12 8h1v1h-1zM50 8h1v1h-1zM11 9h1v1h-1zM51 9h1v1h-1zM10 10h1v1h-1zM52 10h1v1h-1zM9 11h1v1h-1zM53 11h1v1h-1zM8 12h1v1h-1zM54 12h1v1h-1zM6 15h1v1h-1zM56 15h1v1h-1zM5 17h1v1h-1zM57 17h1v1h-1zM4 20h1v1h-1zM58 20h1v1h-1zM3 24h1v1h-1zM59 24h1v1h-1zM3 34h1v1h-1zM59 34h1v1h-1zM4 38h1v1h-1zM58 38h1v1h-1zM7 44h1v1h-1zM55 44h1v1h-1zM10 48h1v1h-1zM52 48h1v1h-1zM11 49h1v1h-1zM51 49h1v1h-1zM12 50h1v1h-1zM50 50h1v1h-1zM16 53h1v1h-1zM46 53h1v1h-1zM20 55h1v1h-1zM42 55h1v1h-1zM25 56h3v1h-3zM35 56h3v1h-3z"/>
<path fill="#72fd02" d="M28 3h7v1h-7zM22 4h3v1h-3zM38 4h3v1h-3zM19 5h1v1h-1zM43 5h1v1h-1zM16 6h1v1h-1zM46 6h1v1h-1zM13 8h1v1h-1zM49 8h1v1h-1zM7 14h1v1h-1zM55 14h1v1h-1zM6 16h1v1h-1zM56 16h1v1h-1zM5 18h1v1h-1zM57 18h1v1h-1zM4 21h1v1h-1zM58 21h1v1h-1zM3 25h1v1h-1zM59 25h1v1h-1zM3 26h1v1h-1zM59 26h1v1h-1zM3 32h1v1h-1zM59 32h1v1h-1zM3 33h1v1h-1zM59 33h1v1h-1zM5 40h1v1h-1zM57 40h1v1h-1zM6 42h1v1h-1zM56 42h1v1h-1zM18 54h1v1h-1zM44 54h1v1h-1zM21 55h1v1h-1zM41 55h1v1h-1zM28 56h7v1h-7z"/>
<path fill="#7cff01" d="M25 4h13v1h-13zM20 5h3v1h-3zM40 5h3v1h-3zM17 6h2v1h-2zM44 6h2v1h-2zM15 7h1v1h-1zM47 7h1v1h-1zM12 9h1v1h-1zM50 9h1v1h-1zM11 10h1v1h-1zM51 10h1v1h-1zM9 12h1v1h-1zM53 12h1v1h-1zM8 13h1v1h-1zM54 13h1v1h-1zM4 22h1v1h-1zM58 22h1v1h-1zM3 27h1v1h-1zM59 27h1v1h-1zM3 28h1v1h-1zM59 28h1v1h-1zM3 29h1v1h-1zM59 29h1v1h-1zM3 30h1v1h-1zM59 30h1v1h-1zM3 31h1v1h-1zM59 31h1v1h-1zM4 37h1v1h-1zM58 37h1v1h-1zM8 45h1v1h-1zM54 45h1v1h-1zM15 52h1v1h-1zM47 52h1v1h-1z"/>
<path fill="#83ff00" d="M23 5h17v1h-17zM19 6h2v1h-2zM42 6h2v1h-2zM16 7h2v1h-2zM45 7h2v1h-2zM14 8h1v1h-1zM48 8h1v1h-1zM13 9h1v1h-1zM49 9h1v1h-1zM10 11h1v1h-1zM52 11h1v1h-1zM7 15h1v1h-1zM55 15h1v1h-1zM6 17h1v1h-1zM56 17h1v1h-1zM5 19h1v1h-1zM57 19h1v1h-1zM4 23h1v1h-1zM58 23h1v1h-1zM4 36h1v1h-1zM58 36h1v1h-1zM5 39h1v1h-1zM57 39h1v1h-1zM7 43h1v1h-1zM55 43h1v1h-1zM9 46h1v1h-1zM53 46h1v1h-1zM19 54h1v1h-1zM43 54h1v1h-1zM22 55h1v1h-1zM40 55h1v1h-1z"/>
<path fill="#89ff00" d="M21 6h5v1h-5zM37 6h5v1h-5zM18 7h1v1h-1zM44 7h1v1h-1zM15 8h1v1h-1zM47 8h1v1h-1zM12 10h1v1h-1zM50 10h1v1h-1zM11 11h1v1h-1zM51 11h1v1h-1zM10 12h1v1h-1zM52 12h1v1h-1zM9 13h1v1h-1zM53 13h1v1h-1zM8 14h1v1h-1zM54 14h1v1h-1zM7 16h1v1h-1zM55 16h1v1h-1zM5 20h1v1h-1zM57 20h1v1h-1zM4 24h1v1h-1zM58 24h1v1h-1zM4 35h1v1h-1zM58 35h1v1h-1zM6 41h1v1h-1zM56 41h1v1h-1zM10 47h1v1h-1zM52 47h1v1h-1zM11 48h1v1h-1zM51 48h1v1h-1zM13 50h1v1h-1zM49 50h1v1h-1zM14 51h1v1h-1zM48 51h1v1h-1zM17 53h1v1h-1zM45 53h1v1h-1zM23 55h1v1h-1zM39 55h1v1h-1z"/>
<path fill="#8fff00" d="M26 6h11v1h-11zM19 7h3v1h-3zM41 7h3v1h-3zM16 8h2v1h-2zM45 8h2v1h-2zM14 9h1v1h-1zM48 9h1v1h-1zM13 10h1v1h-1zM49 10h1v1h-1zM8 15h1v1h-1zM54 15h1v1h-1zM6 18h1v1h-1zM56 18h1v1h-1zM5 21h1v1h-1zM57 21h1v1h-1zM4 25h1v1h-1zM58 25h1v1h-1zM4 34h1v1h-1zM58 34h1v1h-1zM5 38h1v1h-1zM57 38h1v1h-1zM8 44h1v1h-1zM54 44h1v1h-1zM12 49h1v1h-1zM50 49h1v1h-1zM20 54h1v1h-1zM42 54h1v1h-1zM24 55h2v1h-2zM37 55h2v1h-2z"/>
<path fill="#95ff00" d="M22 7h19v1h-19zM18 8h2v1h-2zM43 8h2v1h-2zM15 9h2v1h-2zM46 9h2v1h-2zM14 10h1v1h-1zM48 10h1v1h-1zM12 11h1v1h-1zM50 11h1v1h-1zM11 12h1v1h-1zM51 12h1v1h-1zM10 13h1v1h-1zM52 13h1v1h-1zM9 14h1v1h-1zM53 14h1v1h-1zM7 17h1v1h-1zM55 17h1v1h-1zM6 19h1v1h-1zM56 19h1v1h-1zM5 22h1v1h-1zM57 22h1v1h-1zM4 26h1v1h-1zM58 26h1v1h-1zM4 27h1v1h-1zM58 27h1v1h-1zM4 28h1v1h-1zM58 28h1v1h-1zM4 31h1v1h-1zM58 31h1v1h-1zM4 32h1v1h-1zM58 32h1v1h-1zM4 33h1v1h-1zM58 33h1v1h-1zM5 37h1v1h-1zM57 37h1v1h-1zM6 40h1v1h-1zM56 40h1v1h-1zM7 42h1v1h-1zM55 42h1v1h-1zM9 45h1v1h-1zM53 45h1v1h-1zM16 52h1v1h-1zM46 52h1v1h-1zM18 53h1v1h-1zM44 53h1v1h-1zM26 55h4v1h-4zM33 55h4v1h-4z"/>
<path fill="#9bff00" d="M20 8h23v1h-23zM17 9h2v1h-2zM44 9h2v1h-2zM15 10h1v1h-1zM47 10h1v1h-1zM13 11h1v1h-1zM49 11h1v1h-1zM12 12h1v1h-1zM50 12h1v1h-1zM9 15h1v1h-1zM53 15h1v1h-1zM8 16h1v1h-1zM54 16h1v1h-1zM7 18h1v1h-1zM55 18h1v1h-1zM6 20h1v1h-1zM56 20h1v1h-1zM5 23h1v1h-1zM57 23h1v1h-1zM4 29h1v1h-1zM58 29h1v1h-1zM4 30h1v1h-1zM58 30h1v1h-1zM5 36h1v1h-1zM57 36h1v1h-1zM10 46h1v1h-1zM52 46h1v1h-1zM15 51h1v1h-1zM47 51h1v1h-1zM21 54h1v1h-1zM41 54h1v1h-1zM30 55h3v1h-3z"/>
<path fill="#a1ff00" d="M19 9h5v1h-5zM39 9h5v1h-5zM16 10h2v1h-2zM45 10h2v1h-2zM14 11h1v1h-1zM48 11h1v1h-1zM11 13h1v1h-1zM51 13h1v1h-1zM10 14h1v1h-1zM52 14h1v1h-1zM8 17h1v1h-1zM54 17h1v1h-1zM6 21h1v1h-1zM56 21h1v1h-1zM5 24h1v1h-1zM57 24h1v1h-1zM5 35h1v1h-1zM57 35h1v1h-1zM6 39h1v1h-1zM56 39h1v1h-1zM7 41h1v1h-1zM55 41h1v1h-1zM8 43h1v1h-1zM54 43h1v1h-1zM11 47h1v1h-1zM51 47h1v1h-1zM14 50h1v1h-1zM48 50h1v1h-1zM19 53h1v1h-1zM43 53h1v1h-1zM22 54h1v1h-1zM40 54h1v1h-1z"/>
<path fill="#a7ff00" d="M24 9h15v1h-15zM18 10h3v1h-3zM42 10h3v1h-3zM15 11h2v1h-2zM46 11h2v1h-2zM13 12h2v1h-2zM48 12h2v1h-2zM12 13h1v1h-1zM50 13h1v1h-1zM11 14h1v1h-1zM51 14h1v1h-1zM10 15h1v1h-1zM52 15h1v1h-1zM9 16h1v1h-1zM53 16h1v1h-1zM7 19h1v1h-1zM55 19h1v1h-1zM6 22h1v1h-1zM56 22h1v1h-1zM5 25h1v1h-1zM57 25h1v1h-1zM5 26h1v1h-1zM57 26h1v1h-1zM5 34h1v1h-1zM57 34h1v1h-1zM6 38h1v1h-1zM56 38h1v1h-1zM9 44h1v1h-1zM53 44h1v1h-1zM12 48h1v1h-1zM50 48h1v1h-1zM13 49h1v1h-1zM49 49h1v1h-1zM17 52h1v1h-1zM45 52h1v1h-1zM23 54h1v1h-1zM39 54h1v1h-1z"/>
<path fill="#adff00" d="M21 10h21v1h-21zM17 11h2v1h-2zM44 11h2v1h-2zM15 12h1v1h-1zM47 12h1v1h-1zM13 13h1v1h-1zM49 13h1v1h-1zM12 14h1v1h-1zM50 14h1v1h-1zM9 17h1v1h-1zM53 17h1v1h-1zM8 18h1v1h-1zM54 18h1v1h-1zM7 20h1v1h-1zM55 20h1v1h-1zM6 23h1v1h-1zM56 23h1v1h-1zM5 27h1v1h-1zM57 27h1v1h-1zM5 28h1v1h-1zM57 28h1v1h-1zM5 29h1v1h-1zM57 29h1v1h-1zM5 30h1v1h-1zM57 30h1v1h-1zM5 31h1v1h-1zM57 31h1v1h-1zM5 32h1v1h-1zM57 32h1v1h-1zM5 33h1v1h-1zM57 33h1v1h-1zM6 37h1v1h-1zM56 37h1v1h-1zM7 40h1v1h-1zM55 40h1v1h-1zM8 42h1v1h-1zM54 42h1v1h-1zM16 51h1v1h-1zM46 51h1v1h-1zM20 53h1v1h-1zM42 53h1v1h-1zM24 54h1v1h-1zM38 54h1v1h-1z"/>
<path fill="#b3ff00" d="M19 11h25v1h-25zM16 12h2v1h-2zM45 12h2v1h-2zM14 13h1v1h-1zM48 13h1v1h-1zM13 14h1v1h-1zM49 14h1v1h-1zM11 15h1v1h-1zM51 15h1v1h-1zM10 16h1v1h-1zM52 16h1v1h-1zM9 18h1v1h-1zM53 18h1v1h-1zM8 19h1v1h-1zM54 19h1v1h-1zM7 21h1v1h-1zM55 21h1v1h-1zM6 24h1v1h-1zM56 24h1v1h-1zM6 36h1v1h-1zM56 36h1v1h-1zM10 45h1v1h-1zM52 45h1v1h-1zM18 52h1v1h-1zM44 52h1v1h-1zM25 54h3v1h-3zM35 54h3v1h-3z"/>
<path fill="#baff00" d="M18 12h27v1h-27zM15 13h3v1h-3zM45 13h3v1h-3zM14 14h1v1h-1zM48 14h1v1h-1zM12 15h1v1h-1zM50 15h1v1h-1zM11 16h1v1h-1zM51 16h1v1h-1zM10 17h1v1h-1zM52 17h1v1h-1zM8 20h1v1h-1zM54 20h1v1h-1zM7 22h1v1h-1zM55 22h1v1h-1zM6 25h1v1h-1zM56 25h1v1h-1zM6 26h1v1h-1zM56 26h1v1h-1zM6 35h1v1h-1zM56 35h1v1h-1zM7 39h1v1h-1zM55 39h1v1h-1zM8 41h1v1h-1zM54 41h1v1h-1zM9 43h1v1h-1zM53 43h1v1h-1zM11 46h1v1h-1zM51 46h1v1h-1zM12 47h1v1h-1zM50 47h1v1h-1zM13 48h1v1h-1zM49 48h1v1h-1zM14 49h1v1h-1zM48 49h1v1h-1zM15 50h1v1h-1zM47 50h1v1h-1zM21 53h1v1h-1zM41 53h1v1h-1zM28 54h7v1h-7z"/>
<path fill="#c0ff00" d="M18 13h27v1h-27zM15 14h2v1h-2zM46 14h2v1h-2zM13 15h2v1h-2zM48 15h2v1h-2zM12 16h1v1h-1zM50 16h1v1h-1zM11 17h1v1h-1zM51 17h1v1h-1zM10 18h1v1h-1zM52 18h1v1h-1zM9 19h1v1h-1zM53 19h1v1h-1zM8 21h1v1h-1zM54 21h1v1h-1zM7 23h1v1h-1zM55 23h1v1h-1zM6 27h1v1h-1zM56 27h1v1h-1zM6 28h1v1h-1zM56 28h1v1h-1zM6 29h1v1h-1zM56 29h1v1h-1zM6 32h1v1h-1zM56 32h1v1h-1zM6 33h1v1h-1zM56 33h1v1h-1zM6 34h1v1h-1zM56 34h1v1h-1zM7 38h1v1h-1zM55 38h1v1h-1zM10 44h1v1h-1zM52 44h1v1h-1zM17 51h1v1h-1zM45 51h1v1h-1zM19 52h1v1h-1zM43 52h1v1h-1zM22 53h1v1h-1zM40 53h1v1h-1z"/>
<path fill="#c4fc00" d="M17 14h5v1h-5zM41 14h5v1h-5zM15 15h2v1h-2zM46 15h2v1h-2zM13 16h1v1h-1zM49 16h1v1h-1zM12 17h1v1h-1zM50 17h1v1h-1zM11 18h1v1h-1zM51 18h1v1h-1zM10 19h1v1h-1zM52 19h1v1h-1zM9 20h1v1h-1zM53 20h1v1h-1zM8 22h1v1h-1zM54 22h1v1h-1zM7 24h1v1h-1zM55 24h1v1h-1zM7 25h1v1h-1zM55 25h1v1h-1zM6 30h1v1h-1zM56 30h1v1h-1zM6 31h1v1h-1zM56 31h1v1h-1zM7 37h1v1h-1zM55 37h1v1h-1zM8 40h1v1h-1zM54 40h1v1h-1zM9 42h1v1h-1zM53 42h1v1h-1zM11 45h1v1h-1zM51 45h1v1h-1zM23 53h1v1h-1zM39 53h1v1h-1z"/>
<path fill="#c8fa00" d="M22 14h19v1h-19zM17 15h3v1h-3zM43 15h3v1h-3zM14 16h2v1h-2zM47 16h2v1h-2zM13 17h1v1h-1zM49 17h1v1h-1zM12 18h1v1h-1zM50 18h1v1h-1zM11 19h1v1h-1zM51 19h1v1h-1zM10 20h1v1h-1zM52 20h1v1h-1zM9 21h1v1h-1zM53 21h1v1h-1zM8 23h1v1h-1zM54 23h1v1h-1zM7 26h1v1h-1zM55 26h1v1h-1zM7 27h1v1h-1zM55 27h1v1h-1zM7 35h1v1h-1zM55 35h1v1h-1zM7 36h1v1h-1zM55 36h1v1h-1zM8 39h1v1h-1zM54 39h1v1h-1zM10 43h1v1h-1zM52 43h1v1h-1zM12 46h1v1h-1zM50 46h1v1h-1zM15 49h1v1h-1zM47 49h1v1h-1zM16 50h1v1h-1zM46 50h1v1h-1zM18 51h1v1h-1zM44 51h1v1h-1zM20 52h1v1h-1zM42 52h1v1h-1zM24 53h2v1h-2zM37 53h2v1h-2z"/>
<path fill="#ccf700" d="M20 15h23v1h-23zM16 16h3v1h-3zM44 16h3v1h-3zM14 17h2v1h-2zM47 17h2v1h-2zM13 18h1v1h-1zM49 18h1v1h-1zM12 19h1v1h-1zM50 19h1v1h-1zM11 20h1v1h-1zM51 20h1v1h-1zM10 21h1v1h-1zM52 21h1v1h-1zM9 22h1v1h-1zM53 22h1v1h-1zM8 24h1v1h-1zM54 24h1v1h-1zM8 25h1v1h-1zM54 25h1v1h-1zM7 28h1v1h-1zM55 28h1v1h-1zM7 29h1v1h-1zM55 29h1v1h-1zM7 30h1v1h-1zM55 30h1v1h-1zM7 31h1v1h-1zM55 31h1v1h-1zM7 32h1v1h-1zM55 32h1v1h-1zM7 33h1v1h-1zM55 33h1v1h-1zM7 34h1v1h-1zM55 34h1v1h-1zM8 38h1v1h-1zM54 38h1v1h-1zM9 41h1v1h-1zM53 41h1v1h-1zM13 47h1v1h-1zM49 47h1v1h-1zM14 48h1v1h-1zM48 48h1v1h-1zM21 52h1v1h-1zM41 52h1v1h-1zM26 53h2v1h-2zM35 53h2v1h-2z"/>
<path fill="#d0f500" d="M19 16h25v1h-25zM16 17h3v1h-3zM44 17h3v1h-3zM14 18h2v1h-2zM47 18h2v1h-2zM13 19h1v1h-1zM49 19h1v1h-1zM12 20h1v1h-1zM50 20h1v1h-1zM11 21h1v1h-1zM51 21h1v1h-1zM10 22h1v1h-1zM52 22h1v1h-1zM9 23h1v1h-1zM53 23h1v1h-1zM9 24h1v1h-1zM53 24h1v1h-1zM8 26h1v1h-1zM54 26h1v1h-1zM8 37h1v1h-1zM54 37h1v1h-1zM9 40h1v1h-1zM53 40h1v1h-1zM10 42h1v1h-1zM52 42h1v1h-1zM11 44h1v1h-1zM51 44h1v1h-1zM17 50h1v1h-1zM45 50h1v1h-1zM19 51h1v1h-1zM43 51h1v1h-1zM28 53h7v1h-7z"/>
<path fill="#d5f200" d="M19 17h25v1h-25zM16 18h2v1h-2zM45 18h2v1h-2zM14 19h1v1h-1zM48 19h1v1h-1zM13 20h1v1h-1zM49 20h1v1h-1zM11 22h1v1h-1zM51 22h1v1h-1zM10 23h1v1h-1zM52 23h1v1h-1zM9 25h1v1h-1zM53 25h1v1h-1zM8 27h1v1h-1zM54 27h1v1h-1zM8 28h1v1h-1zM54 28h1v1h-1zM8 29h1v1h-1zM54 29h1v1h-1zM8 35h1v1h-1zM54 35h1v1h-1zM8 36h1v1h-1zM54 36h1v1h-1zM9 39h1v1h-1zM53 39h1v1h-1zM12 45h1v1h-1zM50 45h1v1h-1zM16 49h1v1h-1zM46 49h1v1h-1zM22 52h1v1h-1zM40 52h1v1h-1z"/>
<path fill="#d9ee00" d="M18 18h8v1h-8zM37 18h8v1h-8zM15 19h3v1h-3zM45 19h3v1h-3zM14 20h1v1h-1zM48 20h1v1h-1zM12 21h2v1h-2zM49 21h2v1h-2zM12 22h1v1h-1zM50 22h1v1h-1zM11 23h1v1h-1zM51 23h1v1h-1zM10 24h1v1h-1zM52 24h1v1h-1zM9 26h1v1h-1zM53 26h1v1h-1zM9 27h1v1h-1zM53 27h1v1h-1zM8 30h1v1h-1zM54 30h1v1h-1zM8 31h1v1h-1zM54 31h1v1h-1zM8 32h1v1h-1zM54 32h1v1h-1zM8 33h1v1h-1zM54 33h1v1h-1zM8 34h1v1h-1zM54 34h1v1h-1zM9 38h1v1h-1zM53 38h1v1h-1zM10 41h1v1h-1zM52 41h1v1h-1zM11 43h1v1h-1zM51 43h1v1h-1zM13 46h1v1h-1zM49 46h1v1h-1zM14 47h1v1h-1zM48 47h1v1h-1zM15 48h1v1h-1zM47 48h1v1h-1zM18 50h1v1h-1zM44 50h1v1h-1zM20 51h1v1h-1zM42 51h1v1h-1zM23 52h2v1h-2zM38 52h2v1h-2z"/>
<path fill="#dde400" d="M26 18h11v1h-11zM18 19h5v1h-5zM40 19h5v1h-5zM15 20h2v1h-2zM46 20h2v1h-2zM14 21h1v1h-1zM48 21h1v1h-1zM13 22h1v1h-1zM49 22h1v1h-1zM12 23h1v1h-1zM50 23h1v1h-1zM11 24h1v1h-1zM51 24h1v1h-1zM10 25h1v1h-1zM52 25h1v1h-1zM10 26h1v1h-1zM52 26h1v1h-1zM9 28h1v1h-1zM53 28h1v1h-1zM9 29h1v1h-1zM53 29h1v1h-1zM9 36h1v1h-1zM53 36h1v1h-1zM9 37h1v1h-1zM53 37h1v1h-1zM10 40h1v1h-1zM52 40h1v1h-1zM11 42h1v1h-1zM51 42h1v1h-1zM12 44h1v1h-1zM50 44h1v1h-1zM21 51h1v1h-1zM41 51h1v1h-1zM25 52h2v1h-2zM36 52h2v1h-2z"/>
<path fill="#e1d900" d="M23 19h17v1h-17zM17 20h4v1h-4zM42 20h4v1h-4zM15 21h2v1h-2zM46 21h2v1h-2zM14 22h1v1h-1zM48 22h1v1h-1zM13 23h1v1h-1zM49 23h1v1h-1zM12 24h1v1h-1zM50 24h1v1h-1zM11 25h1v1h-1zM51 25h1v1h-1zM10 27h1v1h-1zM52 27h1v1h-1zM9 30h1v1h-1zM53 30h1v1h-1zM9 31h1v1h-1zM53 31h1v1h-1zM9 32h1v1h-1zM53 32h1v1h-1zM9 33h1v1h-1zM53 33h1v1h-1zM9 34h1v1h-1zM53 34h1v1h-1zM9 35h1v1h-1zM53 35h1v1h-1zM10 39h1v1h-1zM52 39h1v1h-1zM13 45h1v1h-1zM49 45h1v1h-1zM14 46h1v1h-1zM48 46h1v1h-1zM16 48h1v1h-1zM46 48h1v1h-1zM17 49h1v1h-1zM45 49h1v1h-1zM19 50h1v1h-1zM43 50h1v1h-1zM27 52h9v1h-9z"/>
<path fill="#e5cf00" d="M21 20h21v1h-21zM17 21h4v1h-4zM42 21h4v1h-4zM15 22h2v1h-2zM46 22h2v1h-2zM14 23h1v1h-1zM48 23h1v1h-1zM13 24h1v1h-1zM49 24h1v1h-1zM12 25h1v1h-1zM50 25h1v1h-1zM11 26h1v1h-1zM51 26h1v1h-1zM11 27h1v1h-1zM51 27h1v1h-1zM10 28h1v1h-1zM52 28h1v1h-1zM10 29h1v1h-1zM52 29h1v1h-1zM10 30h1v1h-1zM52 30h1v1h-1zM10 37h1v1h-1zM52 37h1v1h-1zM10 38h1v1h-1zM52 38h1v1h-1zM11 41h1v1h-1zM51 41h1v1h-1zM12 43h1v1h-1zM50 43h1v1h-1zM15 47h1v1h-1zM47 47h1v1h-1zM22 51h1v1h-1zM40 51h1v1h-1z"/>
<path fill="#e9c400" d="M21 21h21v1h-21zM17 22h3v1h-3zM43 22h3v1h-3zM15 23h2v1h-2zM46 23h2v1h-2zM14 24h1v1h-1zM48 24h1v1h-1zM13 25h1v1h-1zM49 25h1v1h-1zM12 26h1v1h-1zM50 26h1v1h-1zM12 27h1v1h-1zM50 27h1v1h-1zM11 28h1v1h-1zM51 28h1v1h-1zM11 29h1v1h-1zM51 29h1v1h-1zM10 31h1v1h-1zM52 31h1v1h-1zM10 32h1v1h-1zM52 32h1v1h-1zM10 33h1v1h-1zM52 33h1v1h-1zM10 34h1v1h-1zM52 34h1v1h-1zM10 35h1v1h-1zM52 35h1v1h-1zM10 36h1v1h-1zM52 36h1v1h-1zM11 40h1v1h-1zM51 40h1v1h-1zM12 42h1v1h-1zM50 42h1v1h-1zM13 44h1v1h-1zM49 44h1v1h-1zM18 49h1v1h-1zM44 49h1v1h-1zM20 50h1v1h-1zM42 50h1v1h-1zM23 51h2v1h-2zM38 51h2v1h-2z"/>
<path fill="#ebb800" d="M20 22h23v1h-23zM17 23h3v1h-3zM43 23h3v1h-3zM15 24h2v1h-2zM46 24h2v1h-2zM14 25h2v1h-2zM47 25h2v1h-2zM13 26h1v1h-1zM49 26h1v1h-1zM13 27h1v1h-1zM49 27h1v1h-1zM12 28h1v1h-1zM50 28h1v1h-1zM11 30h1v1h-1zM51 30h1v1h-1zM11 31h1v1h-1zM51 31h1v1h-1zM11 38h1v1h-1zM51 38h1v1h-1zM11 39h1v1h-1zM51 39h1v1h-1zM12 41h1v1h-1zM50 41h1v1h-1zM13 43h1v1h-1zM49 43h1v1h-1zM14 45h1v1h-1zM48 45h1v1h-1zM15 46h1v1h-1zM47 46h1v1h-1zM16 47h1v1h-1zM46 47h1v1h-1zM17 48h1v1h-1zM45 48h1v1h-1zM19 49h1v1h-1zM43 49h1v1h-1zM21 50h1v1h-1zM41 50h1v1h-1zM25 51h2v1h-2zM36 51h2v1h-2z"/>
<path fill="#eeac00" d="M20 23h7v1h-7zM36 23h7v1h-7zM17 24h3v1h-3zM43 24h3v1h-3zM16 25h1v1h-1zM46 25h1v1h-1zM14 26h2v1h-2zM47 26h2v1h-2zM14 27h1v1h-1zM48 27h1v1h-1zM13 28h1v1h-1zM49 28h1v1h-1zM12 29h1v1h-1zM50 29h1v1h-1zM12 30h1v1h-1zM50 30h1v1h-1zM11 32h1v1h-1zM51 32h1v1h-1zM11 33h1v1h-1zM51 33h1v1h-1zM11 34h1v1h-1zM51 34h1v1h-1zM11 35h1v1h-1zM51 35h1v1h-1zM11 36h1v1h-1zM51 36h1v1h-1zM11 37h1v1h-1zM51 37h1v1h-1zM12 40h1v1h-1zM50 40h1v1h-1zM14 44h1v1h-1zM48 44h1v1h-1zM22 50h1v1h-1zM40 50h1v1h-1zM27 51h9v1h-9z"/>
<path fill="#f09e00" d="M27 23h9v1h-9zM20 24h5v1h-5zM38 24h5v1h-5zM17 25h3v1h-3zM43 25h3v1h-3zM16 26h2v1h-2zM45 26h2v1h-2zM15 27h1v1h-1zM47 27h1v1h-1zM14 28h1v1h-1zM48 28h1v1h-1zM13 29h1v1h-1zM49 29h1v1h-1zM13 30h1v1h-1zM49 30h1v1h-1zM12 31h1v1h-1zM50 31h1v1h-1zM12 32h1v1h-1zM50 32h1v1h-1zM12 33h1v1h-1zM50 33h1v1h-1zM12 34h1v1h-1zM50 34h1v1h-1zM12 37h1v1h-1zM50 37h1v1h-1zM12 38h1v1h-1zM50 38h1v1h-1zM12 39h1v1h-1zM50 39h1v1h-1zM13 42h1v1h-1zM49 42h1v1h-1zM15 45h1v1h-1zM47 45h1v1h-1zM16 46h1v1h-1zM46 46h1v1h-1zM17 47h1v1h-1zM45 47h1v1h-1zM18 48h1v1h-1zM44 48h1v1h-1zM20 49h1v1h-1zM42 49h1v1h-1zM23 50h1v1h-1zM39 50h1v1h-1z"/>
<path fill="#f08300" d="M25 24h13v1h-13zM20 25h5v1h-5zM38 25h5v1h-5zM18 26h2v1h-2zM43 26h2v1h-2zM16 27h2v1h-2zM45 27h2v1h-2zM15 28h1v1h-1zM47 28h1v1h-1zM14 29h1v1h-1zM48 29h1v1h-1zM14 30h1v1h-1zM48 30h1v1h-1zM13 31h1v1h-1zM49 31h1v1h-1zM13 32h1v1h-1zM49 32h1v1h-1zM12 35h1v1h-1zM50 35h1v1h-1zM12 36h1v1h-1zM50 36h1v1h-1zM13 40h1v1h-1zM49 40h1v1h-1zM13 41h1v1h-1zM49 41h1v1h-1zM14 43h1v1h-1zM48 43h1v1h-1zM19 48h1v1h-1zM43 48h1v1h-1zM21 49h1v1h-1zM41 49h1v1h-1zM24 50h2v1h-2zM37 50h2v1h-2z"/>
<path fill="#f06900" d="M25 25h13v1h-13zM20 26h4v1h-4zM39 26h4v1h-4zM18 27h2v1h-2zM43 27h2v1h-2zM16 28h2v1h-2zM45 28h2v1h-2zM15 29h2v1h-2zM46 29h2v1h-2zM15 30h1v1h-1zM47 30h1v1h-1zM14 31h1v1h-1zM48 31h1v1h-1zM14 32h1v1h-1zM48 32h1v1h-1zM13 33h1v1h-1zM49 33h1v1h-1zM13 34h1v1h-1zM49 34h1v1h-1zM13 35h1v1h-1zM49 35h1v1h-1zM13 36h1v1h-1zM49 36h1v1h-1zM13 37h1v1h-1zM49 37h1v1h-1zM13 38h1v1h-1zM49 38h1v1h-1zM13 39h1v1h-1zM49 39h1v1h-1zM14 42h1v1h-1zM48 42h1v1h-1zM15 44h1v1h-1zM47 44h1v1h-1zM16 45h1v1h-1zM46 45h1v1h-1zM17 46h1v1h-1zM45 46h1v1h-1zM18 47h1v1h-1zM44 47h1v1h-1zM22 49h1v1h-1zM40 49h1v1h-1zM26 50h4v1h-4zM33 50h4v1h-4z"/>
<path fill="#f04e00" d="M24 26h15v1h-15zM20 27h5v1h-5zM38 27h5v1h-5zM18 28h3v1h-3zM42 28h3v1h-3zM17 29h2v1h-2zM44 29h2v1h-2zM16 30h1v1h-1zM46 30h1v1h-1zM15 31h1v1h-1zM47 31h1v1h-1zM15 32h1v1h-1zM47 32h1v1h-1zM14 33h1v1h-1zM48 33h1v1h-1zM14 34h1v1h-1zM48 34h1v1h-1zM14 35h1v1h-1zM48 35h1v1h-1zM14 40h1v1h-1zM48 40h1v1h-1zM14 41h1v1h-1zM48 41h1v1h-1zM15 43h1v1h-1zM47 43h1v1h-1zM19 47h1v1h-1zM43 47h1v1h-1zM20 48h1v1h-1zM42 48h1v1h-1zM23 49h1v1h-1zM39 49h1v1h-1zM30 50h3v1h-3z"/>
<path fill="#f13800" d="M25 27h13v1h-13zM21 28h4v1h-4zM38 28h4v1h-4zM19 29h2v1h-2zM42 29h2v1h-2zM17 30h2v1h-2zM44 30h2v1h-2zM16 31h2v1h-2zM45 31h2v1h-2zM16 32h1v1h-1zM46 32h1v1h-1zM15 33h1v1h-1zM47 33h1v1h-1zM15 34h1v1h-1zM47 34h1v1h-1zM14 36h1v1h-1zM48 36h1v1h-1zM14 37h1v1h-1zM48 37h1v1h-1zM14 38h1v1h-1zM48 38h1v1h-1zM14 39h1v1h-1zM48 39h1v1h-1zM15 41h1v1h-1zM47 41h1v1h-1zM15 42h1v1h-1zM47 42h1v1h-1zM16 44h1v1h-1zM46 44h1v1h-1zM17 45h1v1h-1zM45 45h1v1h-1zM18 46h1v1h-1zM44 46h1v1h-1zM21 48h1v1h-1zM41 48h1v1h-1zM24 49h2v1h-2zM37 49h2v1h-2z"/>
<path fill="#f22400" d="M25 28h13v1h-13zM21 29h4v1h-4zM38 29h4v1h-4zM19 30h3v1h-3zM41 30h3v1h-3zM18 31h2v1h-2zM43 31h2v1h-2zM17 32h1v1h-1zM45 32h1v1h-1zM16 33h1v1h-1zM46 33h1v1h-1zM16 34h1v1h-1zM46 34h1v1h-1zM15 35h1v1h-1zM47 35h1v1h-1zM15 36h1v1h-1zM47 36h1v1h-1zM15 37h1v1h-1zM47 37h1v1h-1zM15 38h1v1h-1zM47 38h1v1h-1zM15 39h1v1h-1zM47 39h1v1h-1zM15 40h1v1h-1zM47 40h1v1h-1zM16 42h1v1h-1zM46 42h1v1h-1zM16 43h1v1h-1zM46 43h1v1h-1zM17 44h1v1h-1zM45 44h1v1h-1zM18 45h1v1h-1zM44 45h1v1h-1zM19 46h1v1h-1zM43 46h1v1h-1zM20 47h1v1h-1zM42 47h1v1h-1zM22 48h2v1h-2zM39 48h2v1h-2zM26 49h11v1h-11z"/>
<path fill="#f31000" d="M25 29h13v1h-13zM22 30h4v1h-4zM37 30h4v1h-4zM20 31h2v1h-2zM41 31h2v1h-2zM18 32h2v1h-2zM43 32h2v1h-2zM17 33h2v1h-2zM44 33h2v1h-2zM17 34h1v1h-1zM45 34h1v1h-1zM16 35h1v1h-1zM46 35h1v1h-1zM16 36h1v1h-1zM46 36h1v1h-1zM16 37h1v1h-1zM46 37h1v1h-1zM16 38h1v1h-1zM46 38h1v1h-1zM16 39h1v1h-1zM46 39h1v1h-1zM16 40h1v1h-1zM46 40h1v1h-1zM16 41h1v1h-1zM46 41h1v1h-1zM17 43h1v1h-1zM45 43h1v1h-1zM21 47h1v1h-1zM41 47h1v1h-1zM24 48h1v1h-1zM38 48h1v1h-1z"/>
<path fill="#ef0700" d="M26 30h11v1h-11zM22 31h5v1h-5zM36 31h5v1h-5zM20 32h3v1h-3zM40 32h3v1h-3zM19 33h2v1h-2zM42 33h2v1h-2zM18 34h2v1h-2zM43 34h2v1h-2zM17 35h2v1h-2zM44 35h2v1h-2zM17 36h1v1h-1zM45 36h1v1h-1zM17 37h1v1h-1zM45 37h1v1h-1zM17 38h1v1h-1zM45 38h1v1h-1zM17 41h1v1h-1zM45 41h1v1h-1zM17 42h1v1h-1zM45 42h1v1h-1zM18 44h1v1h-1zM44 44h1v1h-1zM19 45h1v1h-1zM43 45h1v1h-1zM20 46h1v1h-1zM42 46h1v1h-1zM22 47h2v1h-2zM39 47h2v1h-2zM25 48h4v1h-4zM34 48h4v1h-4z"/>
<path fill="#e60400" d="M27 31h9v1h-9zM23 32h6v1h-6zM34 32h6v1h-6zM21 33h3v1h-3zM39 33h3v1h-3zM20 34h2v1h-2zM41 34h2v1h-2zM19 35h1v1h-1zM43 35h1v1h-1zM18 36h2v1h-2zM43 36h2v1h-2zM18 37h1v1h-1zM44 37h1v1h-1zM18 38h1v1h-1zM44 38h1v1h-1zM17 39h1v1h-1zM45 39h1v1h-1zM17 40h1v1h-1zM45 40h1v1h-1zM18 41h1v1h-1zM44 41h1v1h-1zM18 42h1v1h-1zM44 42h1v1h-1zM18 43h1v1h-1zM44 43h1v1h-1zM19 44h1v1h-1zM43 44h1v1h-1zM20 45h1v1h-1zM42 45h1v1h-1zM21 46h2v1h-2zM40 46h2v1h-2zM24 47h1v1h-1zM38 47h1v1h-1zM29 48h5v1h-5z"/>
<path fill="#de0200" d="M29 32h5v1h-5zM24 33h15v1h-15zM22 34h3v1h-3zM38 34h3v1h-3zM20 35h3v1h-3zM40 35h3v1h-3zM20 36h1v1h-1zM42 36h1v1h-1zM19 37h1v1h-1zM43 37h1v1h-1zM19 38h1v1h-1zM43 38h1v1h-1zM18 39h2v1h-2zM43 39h2v1h-2zM18 40h1v1h-1zM44 40h1v1h-1zM19 41h1v1h-1zM43 41h1v1h-1zM19 42h1v1h-1zM43 42h1v1h-1zM19 43h1v1h-1zM43 43h1v1h-1zM20 44h1v1h-1zM42 44h1v1h-1zM21 45h1v1h-1zM41 45h1v1h-1zM23 46h1v1h-1zM39 46h1v1h-1zM25 47h5v1h-5zM33 47h5v1h-5z"/>
<path fill="#d50000" d="M25 34h13v1h-13zM23 35h4v1h-4zM36 35h4v1h-4zM21 36h3v1h-3zM39 36h3v1h-3zM20 37h2v1h-2zM41 37h2v1h-2zM20 38h1v1h-1zM42 38h1v1h-1zM20 39h1v1h-1zM42 39h1v1h-1zM19 40h2v1h-2zM42 40h2v1h-2zM20 41h1v1h-1zM42 41h1v1h-1zM20 42h1v1h-1zM42 42h1v1h-1zM20 43h2v1h-2zM41 43h2v1h-2zM21 44h1v1h-1zM41 44h1v1h-1zM22 45h2v1h-2zM39 45h2v1h-2zM24 46h3v1h-3zM36 46h3v1h-3zM30 47h3v1h-3z"/>
<path fill="#cd0000" d="M27 35h9v1h-9zM24 36h7v1h-7zM32 36h7v1h-7zM22 37h3v1h-3zM38 37h3v1h-3zM21 38h3v1h-3zM39 38h3v1h-3zM21 39h2v1h-2zM40 39h2v1h-2zM21 40h1v1h-1zM41 40h1v1h-1zM21 41h1v1h-1zM41 41h1v1h-1zM21 42h2v1h-2zM40 42h2v1h-2zM22 43h1v1h-1zM40 43h1v1h-1zM22 44h2v1h-2zM39 44h2v1h-2zM24 45h2v1h-2zM37 45h2v1h-2zM27 46h9v1h-9z"/>
<path fill="#c50000" d="M31 36h1v1h-1zM25 37h13v1h-13zM24 38h5v1h-5zM34 38h5v1h-5zM23 39h3v1h-3zM37 39h3v1h-3zM22 40h3v1h-3zM38 40h3v1h-3zM22 41h3v1h-3zM38 41h3v1h-3zM23 42h2v1h-2zM38 42h2v1h-2zM23 43h3v1h-3zM37 43h3v1h-3zM24 44h3v1h-3zM36 44h3v1h-3zM26 45h11v1h-11z"/>
<path fill="#bc0000" d="M29 38h5v1h-5zM26 39h11v1h-11zM25 40h13v1h-13zM25 41h5v1h-5zM33 41h5v1h-5zM25 42h5v1h-5zM33 42h5v1h-5zM26 43h11v1h-11zM27 44h9v1h-9z"/>
<path fill="#b40000" d="M30 41h3v1h-3zM30 42h3v1h-3z"/>
</g>
</g>
<path d="M935.9 639.8V1079.6H1376.2" fill="none" stroke="#3a3a55" stroke-opacity="0.55" stroke-width="1.2"/>
<rect x="1396.5" y="676.3" width="40.5" height="316.0" fill="url(#cb)" filter="url(#bl2)"/>
<text class="ts" x="1442.0" y="679.6" font-size="22.0" text-anchor="start">0.018</text>
<text class="ts" x="1442.0" y="712.7" font-size="22.0" text-anchor="start">−0.003</text>
<text class="ts" x="1442.0" y="745.9" font-size="22.0" text-anchor="start">−0.024</text>
<text class="ts" x="1442.0" y="779.0" font-size="22.0" text-anchor="start">−0.044</text>
<text class="ts" x="1442.0" y="812.2" font-size="22.0" text-anchor="start">−0.065</text>
<text class="ts" x="1442.0" y="845.3" font-size="22.0" text-anchor="start">−0.086</text>
<text class="ts" x="1442.0" y="878.5" font-size="22.0" text-anchor="start">−0.106</text>
<text class="ts" x="1442.0" y="911.6" font-size="22.0" text-anchor="start">−0.127</text>
<text class="ts" x="1442.0" y="944.8" font-size="22.0" text-anchor="start">−0.148</text>
<text class="ts" x="1442.0" y="977.9" font-size="22.0" text-anchor="start">−0.168</text>
<text class="ts" x="1442.0" y="1011.1" font-size="22.0" text-anchor="start">−0.189</text>
<text class="tm" x="1438.6" y="1034.0" font-size="16.5" text-anchor="start" style="stroke-width:0.15px">Waves</text>
<text class="ts" x="1164.7" y="626.0" font-size="40.0" text-anchor="middle">OBJ：− 0.40°</text>
<text class="ts" x="806.0" y="657.2" font-size="37.0" text-anchor="start" letter-spacing="1.2">(d)</text>
<text class="ts" x="929.5" y="647.3" font-size="29.0" text-anchor="end">1.0</text>
<text class="ts" x="931.5" y="861.6" font-size="29.0" text-anchor="end">0</text>
<text class="ts" x="929.5" y="1081.1" font-size="29.0" text-anchor="end">−1.0</text>
<text class="ts" x="934.0" y="1108.6" font-size="29.0" text-anchor="middle">−1.0</text>
<text class="ts" x="1159.5" y="1108.6" font-size="29.0" text-anchor="middle">0</text>
<text class="ts" x="1374.4" y="1108.6" font-size="29.0" text-anchor="middle">1.0</text>
<text class="tm" x="1157.5" y="1143.4" font-size="23.6" text-anchor="middle">X-Pupil (Rel. Units)</text>
<text class="tm" font-size="23.6" text-anchor="middle" transform="translate(827.6 857.0) rotate(-90)" y="7.1">Y-Pupil (Rel. Units)</text>
</g>
<g id="pe">
<g filter="url(#bl)">
<g transform="translate(1712.20 67.20) scale(7.10159 7.08730)" shape-rendering="crispEdges">
<rect x="0" y="0" width="63" height="63" fill="#300fc8"/>
<path fill="#009ac3" d="M55 50h1v1h-1zM54 51h1v1h-1zM53 52h1v1h-1zM52 53h1v1h-1z"/>
<path fill="#00a4bb" d="M56 49h1v1h-1zM51 54h1v1h-1zM50 55h1v1h-1z"/>
<path fill="#00b7ac" d="M57 47h1v1h-1zM56 48h1v1h-1zM55 49h1v1h-1z"/>
<path fill="#00c1a5" d="M58 46h1v1h-1z"/>
<path fill="#00ca9b" d="M58 45h1v1h-1zM54 50h1v1h-1zM48 56h1v1h-1zM47 57h1v1h-1z"/>
<path fill="#00d28c" d="M59 44h1v1h-1zM57 46h1v1h-1zM53 51h1v1h-1zM52 52h1v1h-1zM49 55h1v1h-1z"/>
<path fill="#00d97d" d="M59 43h1v1h-1zM58 44h1v1h-1zM56 47h1v1h-1zM51 53h1v1h-1zM50 54h1v1h-1z"/>
<path fill="#01e16e" d="M59 42h1v1h-1zM6 49h1v1h-1zM7 50h1v1h-1zM45 58h1v1h-1z"/>
<path fill="#05e560" d="M60 41h1v1h-1zM57 45h1v1h-1zM5 47h1v1h-1zM55 48h1v1h-1zM8 51h1v1h-1zM46 57h1v1h-1zM43 59h1v1h-1z"/>
<path fill="#0aea51" d="M60 40h1v1h-1zM59 41h1v1h-1zM58 43h1v1h-1zM4 46h1v1h-1zM9 52h1v1h-1zM41 60h1v1h-1z"/>
<path fill="#0fef42" d="M60 39h1v1h-1zM6 48h1v1h-1zM54 49h1v1h-1zM10 53h1v1h-1zM11 54h1v1h-1zM47 56h1v1h-1zM44 58h1v1h-1zM40 60h1v1h-1z"/>
<path fill="#18f136" d="M3 44h1v1h-1zM4 45h1v1h-1zM56 46h1v1h-1zM12 55h1v1h-1zM42 59h1v1h-1z"/>
<path fill="#22f32b" d="M60 38h2v1h-2zM59 40h1v1h-1zM7 49h1v1h-1zM53 50h1v1h-1zM48 55h1v1h-1zM39 60h1v1h-1z"/>
<path fill="#2cf51f" d="M61 36h1v1h-1zM61 37h1v1h-1zM58 42h1v1h-1zM3 43h1v1h-1zM57 44h1v1h-1zM5 46h1v1h-1zM15 57h1v1h-1zM37 61h1v1h-1z"/>
<path fill="#36f613" d="M61 34h1v1h-1zM61 35h1v1h-1zM60 37h1v1h-1zM8 50h1v1h-1zM52 51h1v1h-1zM49 54h1v1h-1zM14 56h1v1h-1zM45 57h1v1h-1zM41 59h1v1h-1z"/>
<path fill="#40f808" d="M62 31h1v1h-1zM61 33h1v1h-1zM59 39h1v1h-1zM2 41h1v1h-1zM4 44h1v1h-1zM55 47h1v1h-1zM51 52h1v1h-1zM50 53h1v1h-1zM17 58h1v1h-1zM43 58h1v1h-1zM19 59h1v1h-1zM38 60h1v1h-1zM36 61h1v1h-1z"/>
<path fill="#4af907" d="M61 31h1v1h-1zM61 32h1v1h-1zM60 36h1v1h-1zM58 41h1v1h-1zM6 47h1v1h-1zM9 51h1v1h-1zM12 54h1v1h-1zM13 55h1v1h-1zM21 60h1v1h-1z"/>
<path fill="#54fa05" d="M60 35h1v1h-1zM2 40h1v1h-1zM3 42h1v1h-1zM57 43h1v1h-1zM56 45h1v1h-1zM10 52h1v1h-1zM11 53h1v1h-1zM46 56h1v1h-1zM16 57h1v1h-1zM22 60h1v1h-1zM35 61h1v1h-1z"/>
<path fill="#5efb04" d="M61 30h1v1h-1zM1 38h1v1h-1zM59 38h1v1h-1zM5 45h1v1h-1zM54 48h1v1h-1zM18 58h1v1h-1zM20 59h1v1h-1zM40 59h1v1h-1zM37 60h1v1h-1z"/>
<path fill="#68fc03" d="M61 29h1v1h-1zM60 34h1v1h-1zM1 37h1v1h-1zM2 39h1v1h-1zM4 43h1v1h-1zM7 48h1v1h-1zM44 57h1v1h-1zM34 61h1v1h-1z"/>
<path fill="#72fd02" d="M61 28h1v1h-1zM60 33h1v1h-1zM1 36h1v1h-1zM59 37h1v1h-1zM58 40h1v1h-1zM3 41h1v1h-1zM53 49h1v1h-1zM47 55h1v1h-1zM15 56h1v1h-1zM42 58h1v1h-1zM21 59h1v1h-1zM23 60h1v1h-1zM33 61h1v1h-1z"/>
<path fill="#7cff01" d="M0 31h1v1h-1zM60 32h1v1h-1zM1 35h1v1h-1zM2 38h1v1h-1zM57 42h1v1h-1zM6 46h1v1h-1zM55 46h1v1h-1zM8 49h1v1h-1zM39 59h1v1h-1zM36 60h1v1h-1zM25 61h2v1h-2zM32 61h1v1h-1z"/>
<path fill="#83ff00" d="M61 27h1v1h-1zM60 31h1v1h-1zM1 33h1v1h-1zM1 34h1v1h-1zM59 36h1v1h-1zM3 40h1v1h-1zM5 44h1v1h-1zM56 44h1v1h-1zM9 50h1v1h-1zM52 50h1v1h-1zM48 54h1v1h-1zM14 55h1v1h-1zM17 57h1v1h-1zM19 58h1v1h-1zM24 60h1v1h-1zM27 61h5v1h-5z"/>
<path fill="#89ff00" d="M61 26h1v1h-1zM1 30h1v1h-1zM60 30h1v1h-1zM1 31h1v1h-1zM1 32h1v1h-1zM2 37h1v1h-1zM58 39h1v1h-1zM4 42h1v1h-1zM51 51h1v1h-1zM49 53h1v1h-1zM13 54h1v1h-1zM35 60h1v1h-1z"/>
<path fill="#8fff00" d="M61 25h1v1h-1zM1 27h1v1h-1zM1 28h1v1h-1zM1 29h1v1h-1zM60 29h1v1h-1zM59 35h1v1h-1zM2 36h1v1h-1zM3 39h1v1h-1zM57 41h1v1h-1zM7 47h1v1h-1zM54 47h1v1h-1zM10 51h1v1h-1zM11 52h1v1h-1zM50 52h1v1h-1zM12 53h1v1h-1zM45 56h1v1h-1zM41 58h1v1h-1zM22 59h1v1h-1zM38 59h1v1h-1zM25 60h1v1h-1zM34 60h1v1h-1z"/>
<path fill="#95ff00" d="M1 24h1v1h-1zM61 24h1v1h-1zM1 25h1v1h-1zM1 26h1v1h-1zM60 27h1v1h-1zM60 28h1v1h-1zM2 34h1v1h-1zM59 34h1v1h-1zM2 35h1v1h-1zM58 38h1v1h-1zM4 41h1v1h-1zM56 43h1v1h-1zM55 45h1v1h-1zM16 56h1v1h-1zM43 57h1v1h-1zM26 60h1v1h-1z"/>
<path fill="#9bff00" d="M2 21h1v1h-1zM2 22h1v1h-1zM60 22h1v1h-1zM2 23h1v1h-1zM60 23h1v1h-1zM2 24h1v1h-1zM60 24h1v1h-1zM60 25h1v1h-1zM60 26h1v1h-1zM2 31h1v1h-1zM2 32h1v1h-1zM2 33h1v1h-1zM58 37h1v1h-1zM3 38h1v1h-1zM57 40h1v1h-1zM5 43h1v1h-1zM6 45h1v1h-1zM8 48h1v1h-1zM53 48h1v1h-1zM18 57h1v1h-1zM20 58h1v1h-1zM23 59h1v1h-1zM27 60h1v1h-1zM32 60h2v1h-2z"/>
<path fill="#a1ff00" d="M25 1h13v1h-13zM21 2h6v1h-6zM19 3h1v1h-1zM5 15h1v1h-1zM4 16h1v1h-1zM4 17h1v1h-1zM3 18h2v1h-2zM3 19h1v1h-1zM3 20h1v1h-1zM3 21h1v1h-1zM60 21h1v1h-1zM2 25h1v1h-1zM2 26h1v1h-1zM2 27h1v1h-1zM2 28h1v1h-1zM2 29h1v1h-1zM2 30h1v1h-1zM59 33h1v1h-1zM3 37h1v1h-1zM4 40h1v1h-1zM56 42h1v1h-1zM55 44h1v1h-1zM54 46h1v1h-1zM52 49h1v1h-1zM46 55h1v1h-1zM37 59h1v1h-1zM28 60h4v1h-4z"/>
<path fill="#a7ff00" d="M27 2h15v1h-15zM20 3h4v1h-4zM43 3h1v1h-1zM17 4h2v1h-2zM15 5h2v1h-2zM14 6h1v1h-1zM12 7h1v1h-1zM11 8h1v1h-1zM8 11h1v1h-1zM7 12h1v1h-1zM6 13h1v1h-1zM6 14h1v1h-1zM5 16h1v1h-1zM5 17h1v1h-1zM4 19h1v1h-1zM3 22h1v1h-1zM3 23h1v1h-1zM3 24h1v1h-1zM59 32h1v1h-1zM3 35h1v1h-1zM3 36h1v1h-1zM58 36h1v1h-1zM57 39h1v1h-1zM56 41h1v1h-1zM5 42h1v1h-1zM7 46h1v1h-1zM53 47h1v1h-1zM9 49h1v1h-1zM51 50h1v1h-1zM15 55h1v1h-1zM40 58h1v1h-1z"/>
<path fill="#adff00" d="M24 3h10v1h-10zM39 3h4v1h-4zM19 4h3v1h-3zM44 4h2v1h-2zM17 5h1v1h-1zM15 6h1v1h-1zM13 7h1v1h-1zM12 8h1v1h-1zM10 9h1v1h-1zM9 10h1v1h-1zM9 11h1v1h-1zM8 12h1v1h-1zM7 13h1v1h-1zM7 14h1v1h-1zM6 15h1v1h-1zM6 16h1v1h-1zM5 18h1v1h-1zM59 18h1v1h-1zM59 19h1v1h-1zM4 20h1v1h-1zM59 20h1v1h-1zM4 21h1v1h-1zM59 21h1v1h-1zM4 22h1v1h-1zM59 22h1v1h-1zM3 25h1v1h-1zM3 26h1v1h-1zM3 27h1v1h-1zM3 28h1v1h-1zM3 29h1v1h-1zM3 30h1v1h-1zM59 30h1v1h-1zM3 31h1v1h-1zM59 31h1v1h-1zM3 32h1v1h-1zM3 33h1v1h-1zM3 34h1v1h-1zM58 35h1v1h-1zM4 37h1v1h-1zM4 38h1v1h-1zM57 38h1v1h-1zM4 39h1v1h-1zM55 43h1v1h-1zM6 44h1v1h-1zM54 45h1v1h-1zM50 51h1v1h-1zM49 52h1v1h-1zM48 53h1v1h-1zM14 54h1v1h-1zM47 54h1v1h-1zM44 56h1v1h-1zM21 58h1v1h-1zM24 59h1v1h-1zM36 59h1v1h-1z"/>
<path fill="#b3ff00" d="M34 3h5v1h-5zM22 4h12v1h-12zM42 4h2v1h-2zM18 5h9v1h-9zM46 5h2v1h-2zM16 6h1v1h-1zM14 7h1v1h-1zM13 8h1v1h-1zM11 9h1v1h-1zM10 10h1v1h-1zM9 12h1v1h-1zM8 13h1v1h-1zM7 15h1v1h-1zM57 15h1v1h-1zM58 16h1v1h-1zM6 17h1v1h-1zM58 17h1v1h-1zM58 18h1v1h-1zM5 19h1v1h-1zM5 20h1v1h-1zM4 23h1v1h-1zM59 23h1v1h-1zM4 24h1v1h-1zM59 24h1v1h-1zM4 25h1v1h-1zM59 25h1v1h-1zM4 26h1v1h-1zM59 26h1v1h-1zM4 27h1v1h-1zM59 27h1v1h-1zM4 28h1v1h-1zM59 28h1v1h-1zM4 29h1v1h-1zM59 29h1v1h-1zM4 30h1v1h-1zM4 31h1v1h-1zM4 32h1v1h-1zM4 33h1v1h-1zM58 33h1v1h-1zM4 34h1v1h-1zM58 34h1v1h-1zM4 35h1v1h-1zM4 36h1v1h-1zM57 37h1v1h-1zM5 38h1v1h-1zM5 39h1v1h-1zM5 40h1v1h-1zM56 40h1v1h-1zM5 41h1v1h-1zM6 43h1v1h-1zM52 48h1v1h-1zM10 50h1v1h-1zM11 51h1v1h-1zM13 53h1v1h-1zM17 56h1v1h-1zM19 57h1v1h-1zM42 57h1v1h-1z"/>
<path fill="#baff00" d="M34 4h8v1h-8zM27 5h8v1h-8zM44 5h2v1h-2zM17 6h13v1h-13zM47 6h2v1h-2zM15 7h2v1h-2zM49 7h2v1h-2zM14 8h1v1h-1zM51 8h1v1h-1zM12 9h1v1h-1zM11 10h1v1h-1zM10 11h1v1h-1zM55 12h1v1h-1zM9 13h1v1h-1zM56 13h1v1h-1zM8 14h1v1h-1zM56 14h1v1h-1zM7 16h1v1h-1zM57 16h1v1h-1zM7 17h1v1h-1zM6 18h1v1h-1zM6 19h1v1h-1zM58 19h1v1h-1zM6 20h1v1h-1zM5 21h2v1h-2zM5 22h2v1h-2zM5 23h2v1h-2zM5 24h2v1h-2zM5 25h3v1h-3zM5 26h3v1h-3zM5 27h3v1h-3zM5 28h3v1h-3zM5 29h3v1h-3zM5 30h3v1h-3zM5 31h3v1h-3zM5 32h3v1h-3zM58 32h1v1h-1zM5 33h3v1h-3zM5 34h2v1h-2zM5 35h2v1h-2zM5 36h2v1h-2zM57 36h1v1h-1zM5 37h2v1h-2zM6 38h1v1h-1zM6 39h1v1h-1zM56 39h1v1h-1zM6 40h1v1h-1zM6 41h1v1h-1zM6 42h1v1h-1zM55 42h1v1h-1zM7 44h1v1h-1zM54 44h1v1h-1zM7 45h1v1h-1zM53 46h1v1h-1zM8 47h1v1h-1zM51 49h1v1h-1zM12 52h1v1h-1zM45 55h1v1h-1zM39 58h1v1h-1zM25 59h1v1h-1zM35 59h1v1h-1z"/>
<path fill="#c0ff00" d="M35 5h6v1h-6zM42 5h2v1h-2zM30 6h7v1h-7zM46 6h1v1h-1zM17 7h16v1h-16zM48 7h1v1h-1zM15 8h11v1h-11zM50 8h1v1h-1zM13 9h8v1h-8zM52 9h1v1h-1zM12 10h3v1h-3zM53 10h1v1h-1zM11 11h2v1h-2zM54 11h1v1h-1zM10 12h2v1h-2zM10 13h1v1h-1zM55 13h1v1h-1zM9 14h2v1h-2zM8 15h3v1h-3zM56 15h1v1h-1zM8 16h2v1h-2zM8 17h2v1h-2zM57 17h1v1h-1zM7 18h3v1h-3zM7 19h3v1h-3zM7 20h4v1h-4zM58 20h1v1h-1zM7 21h4v1h-4zM7 22h4v1h-4zM7 23h5v1h-5zM7 24h5v1h-5zM8 25h4v1h-4zM8 26h4v1h-4zM8 27h4v1h-4zM8 28h4v1h-4zM8 29h5v1h-5zM58 29h1v1h-1zM8 30h5v1h-5zM58 30h1v1h-1zM8 31h5v1h-5zM58 31h1v1h-1zM8 32h5v1h-5zM8 33h5v1h-5zM7 34h5v1h-5zM57 34h1v1h-1zM7 35h5v1h-5zM57 35h1v1h-1zM7 36h4v1h-4zM7 37h2v1h-2zM7 38h2v1h-2zM56 38h1v1h-1zM7 39h1v1h-1zM7 40h1v1h-1zM7 41h1v1h-1zM55 41h1v1h-1zM7 42h1v1h-1zM7 43h1v1h-1zM8 45h1v1h-1zM8 46h1v1h-1zM52 47h1v1h-1zM9 48h1v1h-1zM50 50h1v1h-1zM49 51h1v1h-1zM46 54h1v1h-1zM22 58h1v1h-1zM26 59h1v1h-1zM34 59h1v1h-1z"/>
<path fill="#c4fc00" d="M41 5h1v1h-1zM37 6h6v1h-6zM44 6h2v1h-2zM33 7h7v1h-7zM47 7h1v1h-1zM26 8h9v1h-9zM49 8h1v1h-1zM21 9h6v1h-6zM51 9h1v1h-1zM15 10h9v1h-9zM52 10h1v1h-1zM13 11h8v1h-8zM53 11h1v1h-1zM12 12h7v1h-7zM54 12h1v1h-1zM11 13h7v1h-7zM11 14h5v1h-5zM55 14h1v1h-1zM11 15h5v1h-5zM10 16h5v1h-5zM10 17h5v1h-5zM10 18h4v1h-4zM57 18h1v1h-1zM10 19h4v1h-4zM11 20h3v1h-3zM11 21h3v1h-3zM58 21h1v1h-1zM11 22h3v1h-3zM58 22h1v1h-1zM12 23h2v1h-2zM12 24h2v1h-2zM12 25h2v1h-2zM12 26h2v1h-2zM58 26h1v1h-1zM12 27h2v1h-2zM58 27h1v1h-1zM12 28h2v1h-2zM58 28h1v1h-1zM13 29h1v1h-1zM13 30h1v1h-1zM13 31h1v1h-1zM13 32h1v1h-1zM57 32h1v1h-1zM13 33h1v1h-1zM57 33h1v1h-1zM12 34h2v1h-2zM12 35h2v1h-2zM11 36h3v1h-3zM56 36h1v1h-1zM9 37h5v1h-5zM56 37h1v1h-1zM9 38h4v1h-4zM8 39h3v1h-3zM8 40h2v1h-2zM55 40h1v1h-1zM8 41h2v1h-2zM8 42h1v1h-1zM8 43h1v1h-1zM54 43h1v1h-1zM8 44h1v1h-1zM53 45h1v1h-1zM9 46h1v1h-1zM9 47h1v1h-1zM51 48h1v1h-1zM10 49h1v1h-1zM11 50h1v1h-1zM48 52h1v1h-1zM47 53h1v1h-1zM16 55h1v1h-1zM43 56h1v1h-1zM41 57h1v1h-1zM38 58h1v1h-1zM27 59h1v1h-1zM33 59h1v1h-1z"/>
<path fill="#c8fa00" d="M43 6h1v1h-1zM40 7h7v1h-7zM35 8h7v1h-7zM48 8h1v1h-1zM27 9h14v1h-14zM50 9h1v1h-1zM24 10h4v1h-4zM51 10h1v1h-1zM21 11h3v1h-3zM19 12h3v1h-3zM53 12h1v1h-1zM18 13h3v1h-3zM54 13h1v1h-1zM16 14h3v1h-3zM16 15h2v1h-2zM15 16h3v1h-3zM56 16h1v1h-1zM15 17h2v1h-2zM14 18h2v1h-2zM14 19h2v1h-2zM57 19h1v1h-1zM14 20h2v1h-2zM14 21h2v1h-2zM14 22h1v1h-1zM14 23h1v1h-1zM58 23h1v1h-1zM14 24h1v1h-1zM47 24h3v1h-3zM58 24h1v1h-1zM14 25h1v1h-1zM47 25h3v1h-3zM58 25h1v1h-1zM14 26h1v1h-1zM47 26h3v1h-3zM14 27h1v1h-1zM47 27h4v1h-4zM14 28h1v1h-1zM47 28h4v1h-4zM57 28h1v1h-1zM14 29h1v1h-1zM48 29h2v1h-2zM57 29h1v1h-1zM14 30h1v1h-1zM48 30h2v1h-2zM57 30h1v1h-1zM14 31h1v1h-1zM57 31h1v1h-1zM14 32h2v1h-2zM14 33h2v1h-2zM14 34h2v1h-2zM56 34h1v1h-1zM14 35h2v1h-2zM56 35h1v1h-1zM14 36h2v1h-2zM14 37h2v1h-2zM13 38h3v1h-3zM11 39h4v1h-4zM55 39h1v1h-1zM10 40h4v1h-4zM10 41h2v1h-2zM9 42h2v1h-2zM54 42h1v1h-1zM9 43h2v1h-2zM9 44h1v1h-1zM53 44h1v1h-1zM9 45h1v1h-1zM52 46h1v1h-1zM10 47h1v1h-1zM10 48h1v1h-1zM11 49h1v1h-1zM50 49h1v1h-1zM12 51h1v1h-1zM13 52h1v1h-1zM15 54h1v1h-1zM44 55h1v1h-1zM18 56h1v1h-1zM20 57h1v1h-1zM23 58h1v1h-1zM28 59h5v1h-5z"/>
<path fill="#ccf700" d="M42 8h6v1h-6zM41 9h5v1h-5zM49 9h1v1h-1zM28 10h17v1h-17zM24 11h3v1h-3zM38 11h6v1h-6zM52 11h1v1h-1zM22 12h2v1h-2zM41 12h3v1h-3zM21 13h2v1h-2zM19 14h2v1h-2zM18 15h2v1h-2zM55 15h1v1h-1zM18 16h1v1h-1zM17 17h1v1h-1zM45 17h2v1h-2zM56 17h1v1h-1zM16 18h2v1h-2zM45 18h3v1h-3zM16 19h1v1h-1zM45 19h4v1h-4zM16 20h1v1h-1zM45 20h5v1h-5zM57 20h1v1h-1zM16 21h1v1h-1zM45 21h5v1h-5zM57 21h1v1h-1zM15 22h2v1h-2zM46 22h5v1h-5zM57 22h1v1h-1zM15 23h1v1h-1zM46 23h6v1h-6zM57 23h1v1h-1zM15 24h1v1h-1zM46 24h1v1h-1zM50 24h2v1h-2zM57 24h1v1h-1zM15 25h1v1h-1zM46 25h1v1h-1zM50 25h2v1h-2zM57 25h1v1h-1zM15 26h1v1h-1zM46 26h1v1h-1zM50 26h3v1h-3zM57 26h1v1h-1zM15 27h1v1h-1zM46 27h1v1h-1zM51 27h2v1h-2zM57 27h1v1h-1zM15 28h1v1h-1zM46 28h1v1h-1zM51 28h2v1h-2zM56 28h1v1h-1zM15 29h1v1h-1zM46 29h2v1h-2zM50 29h3v1h-3zM56 29h1v1h-1zM15 30h1v1h-1zM46 30h2v1h-2zM50 30h2v1h-2zM56 30h1v1h-1zM15 31h1v1h-1zM46 31h6v1h-6zM56 31h1v1h-1zM46 32h5v1h-5zM56 32h1v1h-1zM16 33h1v1h-1zM47 33h3v1h-3zM56 33h1v1h-1zM16 34h1v1h-1zM16 35h1v1h-1zM16 36h1v1h-1zM55 36h1v1h-1zM16 37h1v1h-1zM55 37h1v1h-1zM16 38h1v1h-1zM55 38h1v1h-1zM15 39h2v1h-2zM14 40h3v1h-3zM12 41h4v1h-4zM54 41h1v1h-1zM11 42h3v1h-3zM11 43h2v1h-2zM10 44h2v1h-2zM10 45h1v1h-1zM10 46h1v1h-1zM51 47h1v1h-1zM11 48h1v1h-1zM12 50h1v1h-1zM49 50h1v1h-1zM48 51h1v1h-1zM14 53h1v1h-1zM45 54h1v1h-1zM42 56h1v1h-1zM40 57h1v1h-1zM37 58h1v1h-1z"/>
<path fill="#d0f500" d="M46 9h3v1h-3zM45 10h6v1h-6zM27 11h11v1h-11zM44 11h4v1h-4zM51 11h1v1h-1zM24 12h3v1h-3zM37 12h4v1h-4zM44 12h4v1h-4zM52 12h1v1h-1zM23 13h1v1h-1zM39 13h9v1h-9zM53 13h1v1h-1zM21 14h2v1h-2zM41 14h7v1h-7zM54 14h1v1h-1zM20 15h1v1h-1zM42 15h7v1h-7zM19 16h1v1h-1zM42 16h8v1h-8zM55 16h1v1h-1zM18 17h2v1h-2zM43 17h2v1h-2zM47 17h3v1h-3zM18 18h1v1h-1zM43 18h2v1h-2zM48 18h3v1h-3zM56 18h1v1h-1zM17 19h1v1h-1zM44 19h1v1h-1zM49 19h2v1h-2zM56 19h1v1h-1zM17 20h1v1h-1zM44 20h1v1h-1zM50 20h2v1h-2zM56 20h1v1h-1zM17 21h1v1h-1zM44 21h1v1h-1zM50 21h3v1h-3zM56 21h1v1h-1zM44 22h2v1h-2zM51 22h2v1h-2zM56 22h1v1h-1zM16 23h1v1h-1zM45 23h1v1h-1zM52 23h2v1h-2zM56 23h1v1h-1zM16 24h1v1h-1zM45 24h1v1h-1zM52 24h5v1h-5zM16 25h1v1h-1zM45 25h1v1h-1zM52 25h5v1h-5zM16 26h1v1h-1zM45 26h1v1h-1zM53 26h4v1h-4zM16 27h1v1h-1zM45 27h1v1h-1zM53 27h4v1h-4zM16 28h1v1h-1zM45 28h1v1h-1zM53 28h3v1h-3zM16 29h1v1h-1zM45 29h1v1h-1zM53 29h3v1h-3zM16 30h1v1h-1zM45 30h1v1h-1zM52 30h4v1h-4zM16 31h1v1h-1zM45 31h1v1h-1zM52 31h4v1h-4zM16 32h1v1h-1zM45 32h1v1h-1zM51 32h5v1h-5zM45 33h2v1h-2zM50 33h3v1h-3zM54 33h2v1h-2zM17 34h1v1h-1zM45 34h6v1h-6zM54 34h2v1h-2zM17 35h1v1h-1zM45 35h5v1h-5zM55 35h1v1h-1zM17 36h1v1h-1zM46 36h2v1h-2zM17 37h1v1h-1zM17 38h1v1h-1zM54 38h1v1h-1zM17 39h1v1h-1zM54 39h1v1h-1zM17 40h2v1h-2zM54 40h1v1h-1zM16 41h2v1h-2zM14 42h4v1h-4zM53 42h1v1h-1zM13 43h3v1h-3zM53 43h1v1h-1zM12 44h2v1h-2zM11 45h2v1h-2zM52 45h1v1h-1zM11 46h1v1h-1zM11 47h1v1h-1zM50 48h1v1h-1zM12 49h1v1h-1zM13 51h1v1h-1zM14 52h1v1h-1zM47 52h1v1h-1zM15 53h1v1h-1zM46 53h1v1h-1zM16 54h1v1h-1zM17 55h1v1h-1zM43 55h1v1h-1zM21 57h1v1h-1zM39 57h1v1h-1zM24 58h1v1h-1zM35 58h2v1h-2z"/>
<path fill="#d5f200" d="M48 11h3v1h-3zM27 12h10v1h-10zM48 12h4v1h-4zM24 13h2v1h-2zM37 13h2v1h-2zM48 13h5v1h-5zM23 14h1v1h-1zM39 14h2v1h-2zM48 14h6v1h-6zM21 15h2v1h-2zM40 15h2v1h-2zM49 15h6v1h-6zM20 16h2v1h-2zM41 16h1v1h-1zM50 16h5v1h-5zM20 17h1v1h-1zM42 17h1v1h-1zM50 17h6v1h-6zM19 18h1v1h-1zM42 18h1v1h-1zM51 18h5v1h-5zM18 19h1v1h-1zM43 19h1v1h-1zM51 19h5v1h-5zM18 20h1v1h-1zM43 20h1v1h-1zM52 20h4v1h-4zM43 21h1v1h-1zM53 21h3v1h-3zM17 22h1v1h-1zM43 22h1v1h-1zM53 22h3v1h-3zM17 23h1v1h-1zM44 23h1v1h-1zM54 23h2v1h-2zM17 24h1v1h-1zM44 24h1v1h-1zM17 25h1v1h-1zM44 25h1v1h-1zM17 26h1v1h-1zM44 26h1v1h-1zM17 27h1v1h-1zM44 27h1v1h-1zM17 28h1v1h-1zM44 28h1v1h-1zM17 29h1v1h-1zM44 29h1v1h-1zM17 30h1v1h-1zM44 30h1v1h-1zM17 31h1v1h-1zM44 31h1v1h-1zM17 32h1v1h-1zM44 32h1v1h-1zM17 33h1v1h-1zM44 33h1v1h-1zM53 33h1v1h-1zM44 34h1v1h-1zM51 34h3v1h-3zM18 35h1v1h-1zM44 35h1v1h-1zM50 35h5v1h-5zM18 36h1v1h-1zM44 36h2v1h-2zM48 36h3v1h-3zM53 36h2v1h-2zM18 37h1v1h-1zM44 37h5v1h-5zM54 37h1v1h-1zM18 38h1v1h-1zM45 38h2v1h-2zM18 39h2v1h-2zM19 40h1v1h-1zM18 41h2v1h-2zM53 41h1v1h-1zM18 42h2v1h-2zM16 43h3v1h-3zM14 44h3v1h-3zM52 44h1v1h-1zM13 45h2v1h-2zM12 46h2v1h-2zM51 46h1v1h-1zM12 47h1v1h-1zM12 48h1v1h-1zM13 49h1v1h-1zM49 49h1v1h-1zM13 50h1v1h-1zM48 50h1v1h-1zM14 51h1v1h-1zM44 54h1v1h-1zM19 56h1v1h-1zM41 56h1v1h-1zM22 57h1v1h-1zM25 58h2v1h-2zM34 58h1v1h-1z"/>
<path fill="#d9ee00" d="M26 13h3v1h-3zM34 13h3v1h-3zM24 14h2v1h-2zM37 14h2v1h-2zM23 15h1v1h-1zM38 15h2v1h-2zM22 16h1v1h-1zM40 16h1v1h-1zM21 17h1v1h-1zM40 17h2v1h-2zM20 18h1v1h-1zM41 18h1v1h-1zM19 19h1v1h-1zM42 19h1v1h-1zM19 20h1v1h-1zM42 20h1v1h-1zM18 21h1v1h-1zM42 21h1v1h-1zM18 22h1v1h-1zM18 23h1v1h-1zM43 23h1v1h-1zM43 24h1v1h-1zM43 25h1v1h-1zM43 26h1v1h-1zM18 32h1v1h-1zM43 32h1v1h-1zM18 33h1v1h-1zM43 33h1v1h-1zM18 34h1v1h-1zM43 34h1v1h-1zM43 35h1v1h-1zM19 36h1v1h-1zM43 36h1v1h-1zM51 36h2v1h-2zM19 37h1v1h-1zM43 37h1v1h-1zM49 37h5v1h-5zM19 38h1v1h-1zM43 38h2v1h-2zM47 38h2v1h-2zM53 38h1v1h-1zM20 39h1v1h-1zM43 39h5v1h-5zM53 39h1v1h-1zM20 40h1v1h-1zM44 40h1v1h-1zM53 40h1v1h-1zM20 41h1v1h-1zM20 42h1v1h-1zM52 42h1v1h-1zM19 43h2v1h-2zM52 43h1v1h-1zM17 44h4v1h-4zM15 45h3v1h-3zM51 45h1v1h-1zM14 46h1v1h-1zM13 47h2v1h-2zM50 47h1v1h-1zM13 48h1v1h-1zM14 50h1v1h-1zM47 51h1v1h-1zM15 52h1v1h-1zM46 52h1v1h-1zM16 53h1v1h-1zM45 53h1v1h-1zM17 54h1v1h-1zM18 55h1v1h-1zM42 55h1v1h-1zM20 56h1v1h-1zM40 56h1v1h-1zM23 57h1v1h-1zM38 57h1v1h-1zM27 58h7v1h-7z"/>
<path fill="#dde400" d="M29 13h5v1h-5zM26 14h1v1h-1zM35 14h2v1h-2zM24 15h1v1h-1zM37 15h1v1h-1zM23 16h1v1h-1zM38 16h2v1h-2zM39 17h1v1h-1zM21 18h1v1h-1zM40 18h1v1h-1zM20 19h1v1h-1zM41 19h1v1h-1zM41 20h1v1h-1zM19 21h1v1h-1zM42 22h1v1h-1zM42 23h1v1h-1zM18 24h1v1h-1zM18 25h1v1h-1zM18 26h1v1h-1zM18 27h1v1h-1zM43 27h1v1h-1zM18 28h1v1h-1zM43 28h1v1h-1zM18 29h1v1h-1zM43 29h1v1h-1zM18 30h1v1h-1zM43 30h1v1h-1zM18 31h1v1h-1zM43 31h1v1h-1zM19 34h1v1h-1zM19 35h1v1h-1zM42 35h1v1h-1zM42 36h1v1h-1zM20 37h1v1h-1zM42 37h1v1h-1zM20 38h1v1h-1zM42 38h1v1h-1zM49 38h4v1h-4zM42 39h1v1h-1zM48 39h5v1h-5zM21 40h1v1h-1zM42 40h2v1h-2zM45 40h3v1h-3zM52 40h1v1h-1zM21 41h1v1h-1zM42 41h4v1h-4zM52 41h1v1h-1zM21 42h2v1h-2zM21 43h2v1h-2zM51 43h1v1h-1zM21 44h2v1h-2zM51 44h1v1h-1zM18 45h4v1h-4zM15 46h4v1h-4zM50 46h1v1h-1zM15 47h1v1h-1zM14 48h1v1h-1zM49 48h1v1h-1zM14 49h1v1h-1zM48 49h1v1h-1zM15 51h1v1h-1zM43 54h1v1h-1zM19 55h1v1h-1zM21 56h1v1h-1zM24 57h1v1h-1zM36 57h2v1h-2z"/>
<path fill="#e1d900" d="M27 14h4v1h-4zM32 14h3v1h-3zM25 15h1v1h-1zM36 15h1v1h-1zM24 16h1v1h-1zM37 16h1v1h-1zM22 17h1v1h-1zM39 18h1v1h-1zM21 19h1v1h-1zM40 19h1v1h-1zM20 20h1v1h-1zM41 21h1v1h-1zM19 22h1v1h-1zM19 23h1v1h-1zM19 24h1v1h-1zM42 24h1v1h-1zM42 25h1v1h-1zM42 26h1v1h-1zM42 27h1v1h-1zM42 28h1v1h-1zM42 30h1v1h-1zM42 31h1v1h-1zM19 32h1v1h-1zM42 32h1v1h-1zM19 33h1v1h-1zM42 33h1v1h-1zM42 34h1v1h-1zM20 36h1v1h-1zM41 36h1v1h-1zM41 37h1v1h-1zM21 38h1v1h-1zM41 38h1v1h-1zM21 39h1v1h-1zM41 39h1v1h-1zM22 40h1v1h-1zM40 40h2v1h-2zM48 40h4v1h-4zM22 41h1v1h-1zM40 41h2v1h-2zM46 41h3v1h-3zM50 41h2v1h-2zM23 42h1v1h-1zM40 42h7v1h-7zM51 42h1v1h-1zM23 43h2v1h-2zM39 43h5v1h-5zM23 44h2v1h-2zM50 44h1v1h-1zM22 45h3v1h-3zM50 45h1v1h-1zM19 46h6v1h-6zM16 47h3v1h-3zM49 47h1v1h-1zM15 48h2v1h-2zM48 48h1v1h-1zM15 49h1v1h-1zM15 50h1v1h-1zM47 50h1v1h-1zM16 51h1v1h-1zM46 51h1v1h-1zM16 52h1v1h-1zM45 52h1v1h-1zM17 53h1v1h-1zM44 53h1v1h-1zM18 54h1v1h-1zM41 55h1v1h-1zM22 56h1v1h-1zM39 56h1v1h-1zM25 57h1v1h-1zM35 57h1v1h-1z"/>
<path fill="#e5cf00" d="M31 14h1v1h-1zM26 15h2v1h-2zM34 15h2v1h-2zM25 16h1v1h-1zM36 16h1v1h-1zM23 17h1v1h-1zM38 17h1v1h-1zM22 18h1v1h-1zM39 19h1v1h-1zM21 20h1v1h-1zM40 20h1v1h-1zM20 21h1v1h-1zM20 22h1v1h-1zM41 22h1v1h-1zM41 23h1v1h-1zM19 25h1v1h-1zM19 26h1v1h-1zM19 27h1v1h-1zM19 28h1v1h-1zM19 29h1v1h-1zM42 29h1v1h-1zM19 30h1v1h-1zM19 31h1v1h-1zM20 34h1v1h-1zM41 34h1v1h-1zM20 35h1v1h-1zM41 35h1v1h-1zM21 37h1v1h-1zM40 37h1v1h-1zM40 38h1v1h-1zM22 39h1v1h-1zM40 39h1v1h-1zM23 40h1v1h-1zM39 40h1v1h-1zM23 41h2v1h-2zM38 41h2v1h-2zM49 41h1v1h-1zM24 42h1v1h-1zM38 42h2v1h-2zM47 42h4v1h-4zM25 43h1v1h-1zM37 43h2v1h-2zM44 43h3v1h-3zM49 43h2v1h-2zM25 44h3v1h-3zM36 44h9v1h-9zM49 44h1v1h-1zM25 45h4v1h-4zM35 45h8v1h-8zM49 45h1v1h-1zM25 46h5v1h-5zM35 46h5v1h-5zM49 46h1v1h-1zM19 47h9v1h-9zM48 47h1v1h-1zM17 48h2v1h-2zM16 49h2v1h-2zM47 49h1v1h-1zM16 50h1v1h-1zM46 50h1v1h-1zM17 51h1v1h-1zM45 51h1v1h-1zM17 52h1v1h-1zM44 52h1v1h-1zM18 53h1v1h-1zM43 53h1v1h-1zM19 54h1v1h-1zM42 54h1v1h-1zM20 55h1v1h-1zM40 55h1v1h-1zM23 56h1v1h-1zM38 56h1v1h-1zM26 57h3v1h-3zM32 57h3v1h-3z"/>
<path fill="#e9c400" d="M28 15h6v1h-6zM26 16h1v1h-1zM35 16h1v1h-1zM24 17h1v1h-1zM37 17h1v1h-1zM23 18h1v1h-1zM38 18h1v1h-1zM22 19h1v1h-1zM39 20h1v1h-1zM21 21h1v1h-1zM40 21h1v1h-1zM40 22h1v1h-1zM20 23h1v1h-1zM20 24h1v1h-1zM41 24h1v1h-1zM41 25h1v1h-1zM41 26h1v1h-1zM41 27h1v1h-1zM41 30h1v1h-1zM41 31h1v1h-1zM20 32h1v1h-1zM41 32h1v1h-1zM20 33h1v1h-1zM41 33h1v1h-1zM21 35h1v1h-1zM40 35h1v1h-1zM21 36h1v1h-1zM40 36h1v1h-1zM22 37h1v1h-1zM22 38h1v1h-1zM39 38h1v1h-1zM23 39h1v1h-1zM39 39h1v1h-1zM24 40h1v1h-1zM38 40h1v1h-1zM25 41h1v1h-1zM37 41h1v1h-1zM25 42h2v1h-2zM36 42h2v1h-2zM26 43h3v1h-3zM34 43h3v1h-3zM47 43h2v1h-2zM28 44h8v1h-8zM45 44h4v1h-4zM29 45h6v1h-6zM43 45h3v1h-3zM47 45h2v1h-2zM30 46h5v1h-5zM40 46h4v1h-4zM48 46h1v1h-1zM28 47h13v1h-13zM47 47h1v1h-1zM19 48h18v1h-18zM47 48h1v1h-1zM18 49h2v1h-2zM46 49h1v1h-1zM17 50h2v1h-2zM45 50h1v1h-1zM18 51h1v1h-1zM18 52h1v1h-1zM19 53h1v1h-1zM20 54h1v1h-1zM41 54h1v1h-1zM21 55h1v1h-1zM24 56h1v1h-1zM37 56h1v1h-1zM29 57h3v1h-3z"/>
<path fill="#ebb800" d="M27 16h2v1h-2zM33 16h2v1h-2zM25 17h1v1h-1zM36 17h1v1h-1zM24 18h1v1h-1zM37 18h1v1h-1zM23 19h1v1h-1zM38 19h1v1h-1zM22 20h1v1h-1zM39 21h1v1h-1zM21 22h1v1h-1zM40 23h1v1h-1zM20 25h1v1h-1zM20 26h1v1h-1zM20 27h1v1h-1zM20 28h1v1h-1zM41 28h1v1h-1zM20 29h1v1h-1zM41 29h1v1h-1zM20 30h1v1h-1zM20 31h1v1h-1zM21 34h1v1h-1zM40 34h1v1h-1zM22 36h1v1h-1zM39 36h1v1h-1zM39 37h1v1h-1zM23 38h1v1h-1zM38 38h1v1h-1zM24 39h1v1h-1zM38 39h1v1h-1zM25 40h1v1h-1zM37 40h1v1h-1zM26 41h1v1h-1zM36 41h1v1h-1zM27 42h2v1h-2zM34 42h2v1h-2zM29 43h5v1h-5zM46 45h1v1h-1zM44 46h4v1h-4zM41 47h6v1h-6zM37 48h5v1h-5zM45 48h2v1h-2zM20 49h18v1h-18zM45 49h1v1h-1zM19 50h2v1h-2zM44 50h1v1h-1zM19 51h1v1h-1zM44 51h1v1h-1zM19 52h1v1h-1zM43 52h1v1h-1zM42 53h1v1h-1zM21 54h1v1h-1zM22 55h1v1h-1zM39 55h1v1h-1zM25 56h1v1h-1zM35 56h2v1h-2z"/>
<path fill="#eeac00" d="M29 16h4v1h-4zM26 17h1v1h-1zM34 17h2v1h-2zM25 18h1v1h-1zM36 18h1v1h-1zM37 19h1v1h-1zM38 20h1v1h-1zM22 21h1v1h-1zM39 22h1v1h-1zM21 23h1v1h-1zM21 24h1v1h-1zM40 24h1v1h-1zM40 25h1v1h-1zM40 26h1v1h-1zM40 31h1v1h-1zM21 32h1v1h-1zM40 32h1v1h-1zM21 33h1v1h-1zM40 33h1v1h-1zM22 35h1v1h-1zM39 35h1v1h-1zM23 37h1v1h-1zM38 37h1v1h-1zM24 38h1v1h-1zM25 39h1v1h-1zM37 39h1v1h-1zM26 40h1v1h-1zM36 40h1v1h-1zM27 41h2v1h-2zM34 41h2v1h-2zM29 42h5v1h-5zM42 48h3v1h-3zM38 49h7v1h-7zM21 50h15v1h-15zM42 50h2v1h-2zM20 51h1v1h-1zM42 51h2v1h-2zM20 52h1v1h-1zM42 52h1v1h-1zM20 53h2v1h-2zM41 53h1v1h-1zM22 54h1v1h-1zM40 54h1v1h-1zM23 55h1v1h-1zM37 55h2v1h-2zM26 56h4v1h-4zM31 56h4v1h-4z"/>
<path fill="#f09e00" d="M27 17h2v1h-2zM33 17h1v1h-1zM35 18h1v1h-1zM24 19h1v1h-1zM23 20h1v1h-1zM37 20h1v1h-1zM38 21h1v1h-1zM22 22h1v1h-1zM39 23h1v1h-1zM21 25h1v1h-1zM21 26h1v1h-1zM21 27h1v1h-1zM40 27h1v1h-1zM40 28h1v1h-1zM21 29h1v1h-1zM40 29h1v1h-1zM21 30h1v1h-1zM40 30h1v1h-1zM21 31h1v1h-1zM39 33h1v1h-1zM22 34h1v1h-1zM39 34h1v1h-1zM23 36h1v1h-1zM38 36h1v1h-1zM24 37h1v1h-1zM37 38h1v1h-1zM26 39h1v1h-1zM36 39h1v1h-1zM27 40h1v1h-1zM34 40h2v1h-2zM29 41h5v1h-5zM36 50h6v1h-6zM21 51h4v1h-4zM39 51h3v1h-3zM21 52h2v1h-2zM40 52h2v1h-2zM22 53h1v1h-1zM40 53h1v1h-1zM23 54h1v1h-1zM38 54h2v1h-2zM24 55h2v1h-2zM36 55h1v1h-1zM30 56h1v1h-1z"/>
<path fill="#f08300" d="M29 17h4v1h-4zM26 18h2v1h-2zM34 18h1v1h-1zM25 19h1v1h-1zM36 19h1v1h-1zM24 20h1v1h-1zM23 21h1v1h-1zM38 22h1v1h-1zM22 23h1v1h-1zM39 24h1v1h-1zM39 25h1v1h-1zM21 28h1v1h-1zM39 31h1v1h-1zM22 32h1v1h-1zM39 32h1v1h-1zM22 33h1v1h-1zM23 35h1v1h-1zM38 35h1v1h-1zM24 36h1v1h-1zM37 37h1v1h-1zM25 38h1v1h-1zM36 38h1v1h-1zM27 39h1v1h-1zM34 39h2v1h-2zM28 40h6v1h-6zM25 51h14v1h-14zM23 52h2v1h-2zM37 52h3v1h-3zM23 53h1v1h-1zM38 53h2v1h-2zM24 54h1v1h-1zM37 54h1v1h-1zM26 55h3v1h-3zM32 55h4v1h-4z"/>
<path fill="#f06900" d="M28 18h1v1h-1zM32 18h2v1h-2zM26 19h1v1h-1zM35 19h1v1h-1zM25 20h1v1h-1zM36 20h1v1h-1zM24 21h1v1h-1zM37 21h1v1h-1zM23 22h1v1h-1zM38 23h1v1h-1zM22 24h1v1h-1zM22 25h1v1h-1zM39 26h1v1h-1zM39 27h1v1h-1zM39 28h1v1h-1zM39 29h1v1h-1zM22 30h1v1h-1zM39 30h1v1h-1zM22 31h1v1h-1zM38 33h1v1h-1zM23 34h1v1h-1zM38 34h1v1h-1zM37 36h1v1h-1zM25 37h1v1h-1zM36 37h1v1h-1zM26 38h1v1h-1zM35 38h1v1h-1zM28 39h2v1h-2zM32 39h2v1h-2zM25 52h12v1h-12zM24 53h3v1h-3zM34 53h4v1h-4zM25 54h3v1h-3zM33 54h4v1h-4zM29 55h3v1h-3z"/>
<path fill="#f04e00" d="M29 18h3v1h-3zM27 19h1v1h-1zM34 19h1v1h-1zM35 20h1v1h-1zM36 21h1v1h-1zM37 22h1v1h-1zM23 23h1v1h-1zM38 24h1v1h-1zM38 25h1v1h-1zM22 26h1v1h-1zM22 27h1v1h-1zM22 28h1v1h-1zM22 29h1v1h-1zM23 32h1v1h-1zM38 32h1v1h-1zM23 33h1v1h-1zM37 34h1v1h-1zM24 35h1v1h-1zM37 35h1v1h-1zM25 36h1v1h-1zM36 36h1v1h-1zM26 37h1v1h-1zM35 37h1v1h-1zM27 38h2v1h-2zM33 38h2v1h-2zM30 39h2v1h-2zM27 53h7v1h-7zM28 54h5v1h-5z"/>
<path fill="#f13800" d="M28 19h2v1h-2zM32 19h2v1h-2zM26 20h1v1h-1zM34 20h1v1h-1zM25 21h1v1h-1zM24 22h1v1h-1zM37 23h1v1h-1zM23 24h1v1h-1zM23 25h1v1h-1zM38 26h1v1h-1zM38 27h1v1h-1zM38 28h1v1h-1zM38 29h1v1h-1zM38 30h1v1h-1zM23 31h1v1h-1zM38 31h1v1h-1zM37 33h1v1h-1zM24 34h1v1h-1zM25 35h1v1h-1zM36 35h1v1h-1zM26 36h1v1h-1zM35 36h1v1h-1zM27 37h1v1h-1zM34 37h1v1h-1zM29 38h4v1h-4z"/>
<path fill="#f22400" d="M30 19h2v1h-2zM27 20h1v1h-1zM33 20h1v1h-1zM26 21h1v1h-1zM35 21h1v1h-1zM25 22h1v1h-1zM36 22h1v1h-1zM24 23h1v1h-1zM37 24h1v1h-1zM37 25h1v1h-1zM23 26h1v1h-1zM23 27h1v1h-1zM23 28h1v1h-1zM23 29h1v1h-1zM23 30h1v1h-1zM24 32h1v1h-1zM37 32h1v1h-1zM24 33h1v1h-1zM25 34h1v1h-1zM36 34h1v1h-1zM35 35h1v1h-1zM27 36h1v1h-1zM34 36h1v1h-1zM28 37h2v1h-2zM32 37h2v1h-2z"/>
<path fill="#f31000" d="M28 20h5v1h-5zM27 21h1v1h-1zM34 21h1v1h-1zM35 22h1v1h-1zM25 23h1v1h-1zM36 23h1v1h-1zM24 24h1v1h-1zM36 24h1v1h-1zM24 25h1v1h-1zM37 26h1v1h-1zM37 27h1v1h-1zM37 28h1v1h-1zM37 29h1v1h-1zM37 30h1v1h-1zM24 31h1v1h-1zM37 31h1v1h-1zM25 33h1v1h-1zM36 33h1v1h-1zM26 35h1v1h-1zM28 36h1v1h-1zM33 36h1v1h-1zM30 37h2v1h-2z"/>
<path fill="#ef0700" d="M28 21h1v1h-1zM33 21h1v1h-1zM26 22h1v1h-1zM34 22h1v1h-1zM35 23h1v1h-1zM25 24h1v1h-1zM36 25h1v1h-1zM24 26h1v1h-1zM24 27h1v1h-1zM24 28h1v1h-1zM24 29h1v1h-1zM24 30h1v1h-1zM36 31h1v1h-1zM25 32h1v1h-1zM36 32h1v1h-1zM26 34h1v1h-1zM35 34h1v1h-1zM27 35h1v1h-1zM34 35h1v1h-1zM29 36h4v1h-4z"/>
<path fill="#e60400" d="M29 21h4v1h-4zM27 22h1v1h-1zM33 22h1v1h-1zM26 23h1v1h-1zM34 23h1v1h-1zM35 24h1v1h-1zM25 25h1v1h-1zM36 26h1v1h-1zM36 27h1v1h-1zM36 28h1v1h-1zM36 29h1v1h-1zM36 30h1v1h-1zM25 31h1v1h-1zM35 32h1v1h-1zM26 33h1v1h-1zM35 33h1v1h-1zM27 34h1v1h-1zM34 34h1v1h-1zM28 35h2v1h-2zM32 35h2v1h-2z"/>
<path fill="#de0200" d="M28 22h2v1h-2zM31 22h2v1h-2zM27 23h1v1h-1zM26 24h1v1h-1zM34 24h1v1h-1zM35 25h1v1h-1zM25 26h1v1h-1zM35 26h1v1h-1zM25 27h1v1h-1zM25 28h1v1h-1zM25 29h1v1h-1zM25 30h1v1h-1zM35 31h1v1h-1zM26 32h1v1h-1zM27 33h1v1h-1zM34 33h1v1h-1zM28 34h1v1h-1zM32 34h2v1h-2zM30 35h2v1h-2z"/>
<path fill="#d50000" d="M30 22h1v1h-1zM28 23h1v1h-1zM32 23h2v1h-2zM27 24h1v1h-1zM26 25h1v1h-1zM34 25h1v1h-1zM26 26h1v1h-1zM26 27h1v1h-1zM35 27h1v1h-1zM35 28h1v1h-1zM26 29h1v1h-1zM35 29h1v1h-1zM26 30h1v1h-1zM35 30h1v1h-1zM26 31h1v1h-1zM34 31h1v1h-1zM27 32h1v1h-1zM34 32h1v1h-1zM28 33h1v1h-1zM33 33h1v1h-1zM29 34h3v1h-3z"/>
<path fill="#cd0000" d="M29 23h3v1h-3zM28 24h1v1h-1zM32 24h2v1h-2zM27 25h1v1h-1zM33 25h1v1h-1zM27 26h1v1h-1zM34 26h1v1h-1zM34 27h1v1h-1zM26 28h1v1h-1zM34 28h1v1h-1zM34 29h1v1h-1zM27 30h1v1h-1zM34 30h1v1h-1zM27 31h1v1h-1zM33 31h1v1h-1zM28 32h1v1h-1zM32 32h2v1h-2zM29 33h4v1h-4z"/>
<path fill="#c50000" d="M29 24h3v1h-3zM28 25h2v1h-2zM32 25h1v1h-1zM28 26h1v1h-1zM33 26h1v1h-1zM27 27h1v1h-1zM33 27h1v1h-1zM27 28h1v1h-1zM33 28h1v1h-1zM27 29h1v1h-1zM33 29h1v1h-1zM28 30h1v1h-1zM33 30h1v1h-1zM28 31h2v1h-2zM32 31h1v1h-1zM29 32h3v1h-3z"/>
<path fill="#bc0000" d="M30 25h2v1h-2zM29 26h4v1h-4zM28 27h2v1h-2zM31 27h2v1h-2zM28 28h2v1h-2zM32 28h1v1h-1zM28 29h2v1h-2zM31 29h2v1h-2zM29 30h4v1h-4zM30 31h2v1h-2z"/>
<path fill="#b40000" d="M30 27h1v1h-1zM30 28h2v1h-2zM30 29h1v1h-1z"/>
</g>
</g>
<path d="M1711.9 67.2V514.0H2159.6" fill="none" stroke="#3a3a55" stroke-opacity="0.55" stroke-width="1.2"/>
<rect x="2179.5" y="103.3" width="41.7" height="323.6" fill="url(#cb)" filter="url(#bl2)"/>
<text class="ts" x="2226.0" y="106.6" font-size="22.0" text-anchor="start">0.007</text>
<text class="ts" x="2226.0" y="140.4" font-size="22.0" text-anchor="start">−0.024</text>
<text class="ts" x="2226.0" y="174.2" font-size="22.0" text-anchor="start">−0.055</text>
<text class="ts" x="2226.0" y="208.0" font-size="22.0" text-anchor="start">−0.086</text>
<text class="ts" x="2226.0" y="241.8" font-size="22.0" text-anchor="start">−0.117</text>
<text class="ts" x="2226.0" y="275.6" font-size="22.0" text-anchor="start">−0.148</text>
<text class="ts" x="2226.0" y="309.4" font-size="22.0" text-anchor="start">−0.178</text>
<text class="ts" x="2226.0" y="343.2" font-size="22.0" text-anchor="start">−0.209</text>
<text class="ts" x="2226.0" y="377.0" font-size="22.0" text-anchor="start">−0.240</text>
<text class="ts" x="2226.0" y="410.8" font-size="22.0" text-anchor="start">−0.271</text>
<text class="ts" x="2226.0" y="444.7" font-size="22.0" text-anchor="start">−0.302</text>
<text class="tm" x="2223.0" y="468.0" font-size="16.5" text-anchor="start" style="stroke-width:0.15px">Waves</text>
<text class="ts" x="1936.3" y="49.0" font-size="40.0" text-anchor="middle">OBJ：<tspan dx="3">0.24°</tspan></text>
<text class="ts" x="1571.0" y="80.0" font-size="37.0" text-anchor="start" letter-spacing="1.2">(e)</text>
<text class="ts" x="1704.0" y="84.6" font-size="29.0" text-anchor="end">1.0</text>
<text class="ts" x="1705.5" y="300.6" font-size="29.0" text-anchor="end">0</text>
<text class="ts" x="1704.0" y="513.6" font-size="29.0" text-anchor="end">−1.0</text>
<text class="ts" x="1711.5" y="540.6" font-size="29.0" text-anchor="middle">−1.0</text>
<text class="ts" x="1937.0" y="540.6" font-size="29.0" text-anchor="middle">0</text>
<text class="ts" x="2158.0" y="540.6" font-size="29.0" text-anchor="middle">1.0</text>
<text class="tm" x="1937.0" y="577.7" font-size="24.0" text-anchor="middle">X-Pupil (Rel. Units)</text>
<text class="tm" font-size="24.0" text-anchor="middle" transform="translate(1600.0 288.0) rotate(-90)" y="7.2">Y-Pupil (Rel. Units)</text>
</g>
<g id="pf">
<g filter="url(#bl)">
<g transform="translate(1710.60 636.60) scale(7.16190 7.14921)" shape-rendering="crispEdges">
<rect x="0" y="0" width="63" height="63" fill="#300fc8"/>
<path fill="#0185d1" d="M50 7h1v1h-1zM51 8h1v1h-1zM54 11h1v1h-1zM55 12h1v1h-1z"/>
<path fill="#0090ca" d="M47 5h1v1h-1zM49 6h1v1h-1zM52 9h1v1h-1zM53 10h1v1h-1zM57 15h1v1h-1z"/>
<path fill="#009ac3" d="M46 4h1v1h-1zM48 6h1v1h-1z"/>
<path fill="#00a4bb" d="M45 4h1v1h-1zM46 5h1v1h-1zM49 7h1v1h-1zM58 17h1v1h-1z"/>
<path fill="#00aeb4" d="M44 4h1v1h-1zM56 14h1v1h-1zM59 19h1v1h-1z"/>
<path fill="#00b7ac" d="M43 3h2v1h-2zM45 5h1v1h-1zM47 6h1v1h-1zM50 8h1v1h-1z"/>
<path fill="#00c1a5" d="M42 3h1v1h-1zM51 9h1v1h-1zM55 13h1v1h-1zM60 21h1v1h-1z"/>
<path fill="#00ca9b" d="M43 4h1v1h-1zM48 7h1v1h-1zM52 10h1v1h-1zM54 12h1v1h-1zM57 16h1v1h-1zM60 22h1v1h-1z"/>
<path fill="#00d28c" d="M41 2h1v1h-1zM41 3h1v1h-1zM46 6h1v1h-1zM53 11h1v1h-1zM58 18h1v1h-1zM59 20h1v1h-1z"/>
<path fill="#00d97d" d="M39 2h2v1h-2zM15 5h1v1h-1zM44 5h1v1h-1zM13 6h1v1h-1zM12 7h1v1h-1zM11 8h1v1h-1z"/>
<path fill="#01e16e" d="M40 3h1v1h-1zM16 4h1v1h-1zM42 4h1v1h-1zM49 8h1v1h-1zM10 9h1v1h-1zM5 15h1v1h-1zM56 15h1v1h-1zM4 17h1v1h-1zM60 23h1v1h-1zM61 25h1v1h-1z"/>
<path fill="#05e560" d="M38 1h1v1h-1zM38 2h1v1h-1zM17 4h1v1h-1zM14 6h1v1h-1zM9 10h1v1h-1zM8 11h1v1h-1zM7 12h1v1h-1zM59 21h1v1h-1zM61 26h1v1h-1z"/>
<path fill="#0aea51" d="M37 1h1v1h-1zM37 2h1v1h-1zM18 3h1v1h-1zM47 7h1v1h-1zM50 9h1v1h-1zM6 14h1v1h-1zM57 17h1v1h-1zM58 19h1v1h-1zM60 24h1v1h-1z"/>
<path fill="#0fef42" d="M34 1h3v1h-3zM19 3h1v1h-1zM39 3h1v1h-1zM41 4h1v1h-1zM43 5h1v1h-1zM45 6h1v1h-1zM13 7h1v1h-1zM55 14h1v1h-1zM5 16h1v1h-1zM61 27h1v1h-1z"/>
<path fill="#18f136" d="M31 0h1v1h-1zM33 1h1v1h-1zM36 2h1v1h-1zM16 5h1v1h-1zM51 10h1v1h-1zM7 13h1v1h-1zM54 13h1v1h-1zM3 19h1v1h-1zM59 22h1v1h-1zM60 25h1v1h-1zM61 28h1v1h-1z"/>
<path fill="#22f32b" d="M31 1h2v1h-2zM21 2h1v1h-1zM38 3h1v1h-1zM18 4h1v1h-1zM12 8h1v1h-1zM52 11h1v1h-1zM53 12h1v1h-1zM4 18h1v1h-1z"/>
<path fill="#2cf51f" d="M29 1h2v1h-2zM22 2h1v1h-1zM35 2h1v1h-1zM20 3h1v1h-1zM15 6h1v1h-1zM48 8h1v1h-1zM11 9h1v1h-1zM10 10h1v1h-1zM9 11h1v1h-1zM8 12h1v1h-1zM6 15h1v1h-1zM56 16h1v1h-1zM5 17h1v1h-1zM3 20h1v1h-1zM58 20h1v1h-1zM2 21h1v1h-1zM60 26h1v1h-1zM61 29h1v1h-1z"/>
<path fill="#36f613" d="M24 1h1v1h-1zM27 1h2v1h-2zM23 2h1v1h-1zM34 2h1v1h-1zM40 4h1v1h-1zM42 5h1v1h-1zM46 7h1v1h-1zM57 18h1v1h-1zM2 22h1v1h-1zM59 23h1v1h-1z"/>
<path fill="#40f808" d="M25 1h2v1h-2zM21 3h1v1h-1zM37 3h1v1h-1zM19 4h1v1h-1zM17 5h1v1h-1zM44 6h1v1h-1zM14 7h1v1h-1zM60 27h1v1h-1zM61 30h1v1h-1z"/>
<path fill="#4af907" d="M24 2h1v1h-1zM33 2h1v1h-1zM49 9h1v1h-1zM7 14h1v1h-1zM55 15h1v1h-1zM4 19h1v1h-1zM3 21h1v1h-1zM58 21h1v1h-1zM2 23h1v1h-1zM59 24h1v1h-1zM60 28h1v1h-1zM61 31h1v1h-1z"/>
<path fill="#54fa05" d="M25 2h1v1h-1zM31 2h2v1h-2zM22 3h1v1h-1zM39 4h1v1h-1zM6 16h1v1h-1zM5 18h1v1h-1zM1 25h1v1h-1zM61 32h1v1h-1z"/>
<path fill="#5efb04" d="M26 2h5v1h-5zM36 3h1v1h-1zM20 4h1v1h-1zM16 6h1v1h-1zM13 8h1v1h-1zM47 8h1v1h-1zM50 10h1v1h-1zM8 13h1v1h-1zM56 17h1v1h-1zM57 19h1v1h-1zM2 24h1v1h-1zM59 25h1v1h-1zM60 29h1v1h-1zM61 33h1v1h-1zM61 34h1v1h-1z"/>
<path fill="#68fc03" d="M23 3h1v1h-1zM18 5h1v1h-1zM41 5h1v1h-1zM43 6h1v1h-1zM45 7h1v1h-1zM12 9h1v1h-1zM9 12h1v1h-1zM54 14h1v1h-1zM4 20h1v1h-1zM3 22h1v1h-1zM58 22h1v1h-1zM1 26h1v1h-1zM60 30h1v1h-1zM61 35h1v1h-1zM61 36h1v1h-1z"/>
<path fill="#72fd02" d="M35 3h1v1h-1zM11 10h1v1h-1zM10 11h1v1h-1zM51 11h1v1h-1zM52 12h1v1h-1zM53 13h1v1h-1zM7 15h1v1h-1zM6 17h1v1h-1zM59 26h1v1h-1zM61 37h1v1h-1z"/>
<path fill="#7cff01" d="M24 3h1v1h-1zM21 4h1v1h-1zM38 4h1v1h-1zM15 7h1v1h-1zM5 19h1v1h-1zM4 21h1v1h-1zM3 23h1v1h-1zM2 25h1v1h-1zM60 31h1v1h-1zM60 32h1v1h-1z"/>
<path fill="#83ff00" d="M34 3h1v1h-1zM19 5h1v1h-1zM17 6h1v1h-1zM48 9h1v1h-1zM55 16h1v1h-1zM57 20h1v1h-1zM58 23h1v1h-1zM1 27h1v1h-1zM59 27h1v1h-1zM60 33h1v1h-1zM60 34h1v1h-1zM60 35h1v1h-1zM60 36h1v1h-1zM60 37h1v1h-1zM60 38h1v1h-1z"/>
<path fill="#89ff00" d="M25 3h1v1h-1zM33 3h1v1h-1zM40 5h1v1h-1zM14 8h1v1h-1zM46 8h1v1h-1zM8 14h1v1h-1zM56 18h1v1h-1zM3 24h1v1h-1zM2 26h1v1h-1zM59 28h1v1h-1zM60 39h1v1h-1zM25 61h11v1h-11z"/>
<path fill="#8fff00" d="M26 3h1v1h-1zM32 3h1v1h-1zM22 4h1v1h-1zM37 4h1v1h-1zM42 6h1v1h-1zM44 7h1v1h-1zM49 10h1v1h-1zM9 13h1v1h-1zM7 16h1v1h-1zM6 18h1v1h-1zM5 20h1v1h-1zM4 22h1v1h-1zM58 24h1v1h-1zM1 28h1v1h-1zM59 29h1v1h-1zM60 40h1v1h-1zM23 60h16v1h-16zM24 61h1v1h-1zM36 61h2v1h-2zM31 62h1v1h-1z"/>
<path fill="#95ff00" d="M27 3h2v1h-2zM31 3h1v1h-1zM20 5h1v1h-1zM16 7h1v1h-1zM13 9h1v1h-1zM10 12h1v1h-1zM54 15h1v1h-1zM57 21h1v1h-1zM3 25h1v1h-1zM2 27h1v1h-1zM1 29h1v1h-1zM59 30h1v1h-1zM59 38h1v1h-1zM59 39h1v1h-1zM59 40h1v1h-1zM60 41h1v1h-1zM21 60h2v1h-2zM39 60h1v1h-1zM38 61h1v1h-1z"/>
<path fill="#9bff00" d="M29 3h2v1h-2zM23 4h1v1h-1zM36 4h1v1h-1zM39 5h1v1h-1zM18 6h1v1h-1zM12 10h1v1h-1zM11 11h1v1h-1zM50 11h1v1h-1zM4 23h1v1h-1zM58 25h1v1h-1zM59 31h1v1h-1zM59 32h1v1h-1zM59 33h1v1h-1zM59 34h1v1h-1zM59 35h1v1h-1zM59 36h1v1h-1zM59 37h1v1h-1zM59 41h1v1h-1zM59 42h1v1h-1zM59 43h1v1h-1zM19 59h7v1h-7zM35 59h7v1h-7zM40 60h1v1h-1z"/>
<path fill="#a1ff00" d="M47 9h1v1h-1zM51 12h1v1h-1zM53 14h1v1h-1zM8 15h1v1h-1zM7 17h1v1h-1zM55 17h1v1h-1zM6 19h1v1h-1zM56 19h1v1h-1zM5 21h1v1h-1zM3 26h1v1h-1zM58 26h1v1h-1zM2 28h1v1h-1zM1 30h1v1h-1zM1 31h1v1h-1zM1 32h1v1h-1zM1 33h1v1h-1zM1 34h1v1h-1zM1 35h1v1h-1zM1 36h1v1h-1zM1 37h1v1h-1zM58 42h1v1h-1zM58 43h1v1h-1zM58 44h1v1h-1zM57 45h2v1h-2zM57 46h1v1h-1zM17 58h4v1h-4zM18 59h1v1h-1zM26 59h9v1h-9zM42 59h2v1h-2zM41 60h1v1h-1z"/>
<path fill="#a7ff00" d="M24 4h1v1h-1zM21 5h1v1h-1zM41 6h1v1h-1zM43 7h1v1h-1zM15 8h1v1h-1zM45 8h1v1h-1zM52 13h1v1h-1zM57 22h1v1h-1zM4 24h1v1h-1zM3 27h1v1h-1zM58 27h1v1h-1zM2 29h1v1h-1zM2 36h1v1h-1zM2 37h1v1h-1zM2 38h1v1h-1zM2 39h1v1h-1zM58 39h1v1h-1zM2 40h2v1h-2zM58 40h1v1h-1zM2 41h2v1h-2zM58 41h1v1h-1zM3 42h1v1h-1zM3 43h2v1h-2zM57 43h1v1h-1zM4 44h1v1h-1zM57 44h1v1h-1zM56 46h1v1h-1zM56 47h2v1h-2zM55 48h2v1h-2zM55 49h1v1h-1zM13 56h3v1h-3zM15 57h4v1h-4zM16 58h1v1h-1zM21 58h2v1h-2zM39 58h7v1h-7zM44 59h1v1h-1z"/>
<path fill="#adff00" d="M35 4h1v1h-1zM38 5h1v1h-1zM19 6h1v1h-1zM17 7h1v1h-1zM9 14h1v1h-1zM5 22h1v1h-1zM4 25h1v1h-1zM3 28h1v1h-1zM58 28h1v1h-1zM2 30h1v1h-1zM2 31h1v1h-1zM2 32h1v1h-1zM2 33h1v1h-1zM2 34h1v1h-1zM2 35h1v1h-1zM3 37h1v1h-1zM3 38h1v1h-1zM58 38h1v1h-1zM3 39h1v1h-1zM4 40h1v1h-1zM4 41h1v1h-1zM4 42h1v1h-1zM57 42h1v1h-1zM5 43h1v1h-1zM5 44h1v1h-1zM4 45h2v1h-2zM56 45h1v1h-1zM5 46h2v1h-2zM5 47h2v1h-2zM55 47h1v1h-1zM6 48h2v1h-2zM7 49h1v1h-1zM54 49h1v1h-1zM7 50h2v1h-2zM54 50h2v1h-2zM8 51h2v1h-2zM53 51h2v1h-2zM9 52h1v1h-1zM52 52h2v1h-2zM10 53h2v1h-2zM51 53h2v1h-2zM11 54h2v1h-2zM50 54h2v1h-2zM12 55h3v1h-3zM49 55h2v1h-2zM16 56h1v1h-1zM47 56h3v1h-3zM19 57h1v1h-1zM43 57h5v1h-5zM23 58h2v1h-2zM36 58h3v1h-3zM46 58h1v1h-1z"/>
<path fill="#b3ff00" d="M25 4h1v1h-1zM34 4h1v1h-1zM14 9h1v1h-1zM48 10h1v1h-1zM10 13h1v1h-1zM8 16h1v1h-1zM54 16h1v1h-1zM7 18h1v1h-1zM6 20h1v1h-1zM56 20h1v1h-1zM5 23h1v1h-1zM57 23h1v1h-1zM4 26h1v1h-1zM3 29h1v1h-1zM58 29h1v1h-1zM58 30h1v1h-1zM3 34h1v1h-1zM3 35h1v1h-1zM3 36h1v1h-1zM58 36h1v1h-1zM58 37h1v1h-1zM4 38h1v1h-1zM4 39h1v1h-1zM5 40h1v1h-1zM5 41h1v1h-1zM57 41h1v1h-1zM5 42h1v1h-1zM6 43h1v1h-1zM6 44h1v1h-1zM56 44h1v1h-1zM6 45h1v1h-1zM7 46h1v1h-1zM55 46h1v1h-1zM7 47h1v1h-1zM8 48h1v1h-1zM54 48h1v1h-1zM8 49h1v1h-1zM9 50h1v1h-1zM53 50h1v1h-1zM10 51h1v1h-1zM52 51h1v1h-1zM10 52h2v1h-2zM51 52h1v1h-1zM12 53h1v1h-1zM50 53h1v1h-1zM13 54h2v1h-2zM49 54h1v1h-1zM15 55h1v1h-1zM48 55h1v1h-1zM17 56h2v1h-2zM45 56h2v1h-2zM20 57h2v1h-2zM41 57h2v1h-2zM25 58h4v1h-4zM31 58h5v1h-5z"/>
<path fill="#baff00" d="M26 4h1v1h-1zM22 5h1v1h-1zM40 6h1v1h-1zM42 7h1v1h-1zM44 8h1v1h-1zM46 9h1v1h-1zM13 10h1v1h-1zM12 11h1v1h-1zM49 11h1v1h-1zM11 12h1v1h-1zM55 18h1v1h-1zM6 21h1v1h-1zM5 24h1v1h-1zM57 24h1v1h-1zM4 27h1v1h-1zM4 28h1v1h-1zM3 30h1v1h-1zM3 31h1v1h-1zM58 31h1v1h-1zM3 32h1v1h-1zM58 32h1v1h-1zM3 33h1v1h-1zM58 33h1v1h-1zM4 34h1v1h-1zM58 34h1v1h-1zM4 35h1v1h-1zM58 35h1v1h-1zM4 36h3v1h-3zM4 37h3v1h-3zM5 38h2v1h-2zM5 39h2v1h-2zM6 40h1v1h-1zM57 40h1v1h-1zM6 41h2v1h-2zM6 42h2v1h-2zM7 43h1v1h-1zM56 43h1v1h-1zM7 44h1v1h-1zM7 45h1v1h-1zM55 45h1v1h-1zM8 46h1v1h-1zM8 47h1v1h-1zM54 47h1v1h-1zM9 48h1v1h-1zM9 49h1v1h-1zM53 49h1v1h-1zM10 50h1v1h-1zM52 50h1v1h-1zM11 51h1v1h-1zM12 52h1v1h-1zM13 53h1v1h-1zM15 54h1v1h-1zM48 54h1v1h-1zM16 55h2v1h-2zM47 55h1v1h-1zM19 56h1v1h-1zM44 56h1v1h-1zM22 57h2v1h-2zM37 57h4v1h-4zM29 58h2v1h-2z"/>
<path fill="#c0ff00" d="M27 4h1v1h-1zM33 4h1v1h-1zM37 5h1v1h-1zM20 6h1v1h-1zM16 8h1v1h-1zM47 10h1v1h-1zM53 15h1v1h-1zM7 19h1v1h-1zM56 21h1v1h-1zM6 22h1v1h-1zM6 23h1v1h-1zM6 24h1v1h-1zM5 25h2v1h-2zM57 25h1v1h-1zM5 26h2v1h-2zM57 26h1v1h-1zM5 27h3v1h-3zM57 27h1v1h-1zM5 28h5v1h-5zM4 29h7v1h-7zM4 30h8v1h-8zM4 31h8v1h-8zM4 32h9v1h-9zM4 33h9v1h-9zM5 34h8v1h-8zM5 35h7v1h-7zM7 36h5v1h-5zM7 37h5v1h-5zM7 38h5v1h-5zM57 38h1v1h-1zM7 39h4v1h-4zM57 39h1v1h-1zM7 40h4v1h-4zM8 41h3v1h-3zM56 41h1v1h-1zM8 42h2v1h-2zM56 42h1v1h-1zM8 43h2v1h-2zM8 44h2v1h-2zM55 44h1v1h-1zM8 45h2v1h-2zM9 46h1v1h-1zM54 46h1v1h-1zM9 47h1v1h-1zM10 48h1v1h-1zM53 48h1v1h-1zM10 49h1v1h-1zM52 49h1v1h-1zM11 50h1v1h-1zM12 51h1v1h-1zM51 51h1v1h-1zM13 52h1v1h-1zM50 52h1v1h-1zM14 53h1v1h-1zM49 53h1v1h-1zM16 54h1v1h-1zM18 55h1v1h-1zM45 55h2v1h-2zM20 56h2v1h-2zM41 56h3v1h-3zM24 57h13v1h-13z"/>
<path fill="#c4fc00" d="M28 4h5v1h-5zM23 5h1v1h-1zM39 6h1v1h-1zM18 7h1v1h-1zM41 7h1v1h-1zM43 8h1v1h-1zM45 9h1v1h-1zM50 12h1v1h-1zM51 13h1v1h-1zM52 14h1v1h-1zM9 15h1v1h-1zM8 17h1v1h-1zM7 20h1v1h-1zM7 21h1v1h-1zM7 22h1v1h-1zM56 22h1v1h-1zM7 23h1v1h-1zM7 24h2v1h-2zM7 25h3v1h-3zM7 26h4v1h-4zM8 27h4v1h-4zM10 28h3v1h-3zM57 28h1v1h-1zM11 29h3v1h-3zM57 29h1v1h-1zM12 30h2v1h-2zM57 30h1v1h-1zM12 31h2v1h-2zM57 31h1v1h-1zM13 32h1v1h-1zM57 32h1v1h-1zM13 33h1v1h-1zM57 33h1v1h-1zM13 34h1v1h-1zM57 34h1v1h-1zM12 35h2v1h-2zM57 35h1v1h-1zM12 36h2v1h-2zM57 36h1v1h-1zM12 37h2v1h-2zM57 37h1v1h-1zM12 38h2v1h-2zM11 39h3v1h-3zM56 39h1v1h-1zM11 40h3v1h-3zM56 40h1v1h-1zM11 41h2v1h-2zM10 42h3v1h-3zM55 42h1v1h-1zM10 43h3v1h-3zM55 43h1v1h-1zM10 44h3v1h-3zM10 45h3v1h-3zM54 45h1v1h-1zM10 46h3v1h-3zM10 47h3v1h-3zM53 47h1v1h-1zM11 48h2v1h-2zM52 48h1v1h-1zM11 49h3v1h-3zM12 50h2v1h-2zM51 50h1v1h-1zM13 51h2v1h-2zM50 51h1v1h-1zM14 52h2v1h-2zM49 52h1v1h-1zM15 53h3v1h-3zM48 53h1v1h-1zM17 54h4v1h-4zM46 54h2v1h-2zM19 55h6v1h-6zM32 55h7v1h-7zM43 55h2v1h-2zM22 56h19v1h-19z"/>
<path fill="#c8fa00" d="M24 5h1v1h-1zM36 5h1v1h-1zM21 6h1v1h-1zM15 9h1v1h-1zM46 10h1v1h-1zM48 11h1v1h-1zM10 14h1v1h-1zM54 17h1v1h-1zM8 18h1v1h-1zM8 19h1v1h-1zM55 19h1v1h-1zM8 20h1v1h-1zM8 21h1v1h-1zM8 22h1v1h-1zM8 23h2v1h-2zM56 23h1v1h-1zM9 24h2v1h-2zM56 24h1v1h-1zM10 25h3v1h-3zM56 25h1v1h-1zM11 26h3v1h-3zM56 26h1v1h-1zM12 27h3v1h-3zM13 28h2v1h-2zM14 29h1v1h-1zM14 30h1v1h-1zM14 31h1v1h-1zM14 32h1v1h-1zM14 33h1v1h-1zM14 34h1v1h-1zM14 35h1v1h-1zM56 35h1v1h-1zM14 36h1v1h-1zM56 36h1v1h-1zM14 37h1v1h-1zM56 37h1v1h-1zM14 38h1v1h-1zM56 38h1v1h-1zM14 39h1v1h-1zM14 40h1v1h-1zM55 40h1v1h-1zM13 41h2v1h-2zM55 41h1v1h-1zM13 42h2v1h-2zM54 42h1v1h-1zM13 43h2v1h-2zM54 43h1v1h-1zM13 44h3v1h-3zM54 44h1v1h-1zM13 45h3v1h-3zM53 45h1v1h-1zM13 46h3v1h-3zM53 46h1v1h-1zM13 47h4v1h-4zM52 47h1v1h-1zM13 48h4v1h-4zM14 49h4v1h-4zM51 49h1v1h-1zM14 50h5v1h-5zM50 50h1v1h-1zM15 51h6v1h-6zM16 52h8v1h-8zM48 52h1v1h-1zM18 53h22v1h-22zM47 53h1v1h-1zM21 54h25v1h-25zM25 55h7v1h-7zM39 55h4v1h-4z"/>
<path fill="#ccf700" d="M25 5h1v1h-1zM35 5h1v1h-1zM38 6h1v1h-1zM19 7h1v1h-1zM40 7h1v1h-1zM17 8h1v1h-1zM42 8h1v1h-1zM44 9h1v1h-1zM14 10h1v1h-1zM49 12h1v1h-1zM11 13h1v1h-1zM9 16h1v1h-1zM9 17h1v1h-1zM9 18h1v1h-1zM9 19h1v1h-1zM9 20h1v1h-1zM55 20h1v1h-1zM9 21h2v1h-2zM55 21h1v1h-1zM9 22h3v1h-3zM10 23h3v1h-3zM11 24h4v1h-4zM13 25h2v1h-2zM14 26h2v1h-2zM15 27h1v1h-1zM56 27h1v1h-1zM15 28h1v1h-1zM56 28h1v1h-1zM15 29h1v1h-1zM56 29h1v1h-1zM15 30h1v1h-1zM56 30h1v1h-1zM15 31h1v1h-1zM56 31h1v1h-1zM15 32h1v1h-1zM56 32h1v1h-1zM15 33h1v1h-1zM56 33h1v1h-1zM15 34h1v1h-1zM55 34h2v1h-2zM15 35h1v1h-1zM55 35h1v1h-1zM15 36h1v1h-1zM55 36h1v1h-1zM15 37h1v1h-1zM55 37h1v1h-1zM15 38h1v1h-1zM55 38h1v1h-1zM15 39h1v1h-1zM54 39h2v1h-2zM15 40h1v1h-1zM54 40h1v1h-1zM15 41h2v1h-2zM53 41h2v1h-2zM15 42h2v1h-2zM53 42h1v1h-1zM15 43h2v1h-2zM53 43h1v1h-1zM16 44h1v1h-1zM52 44h2v1h-2zM16 45h2v1h-2zM52 45h1v1h-1zM16 46h2v1h-2zM51 46h2v1h-2zM17 47h2v1h-2zM51 47h1v1h-1zM17 48h3v1h-3zM50 48h2v1h-2zM18 49h4v1h-4zM50 49h1v1h-1zM19 50h5v1h-5zM37 50h6v1h-6zM49 50h1v1h-1zM21 51h7v1h-7zM32 51h12v1h-12zM48 51h2v1h-2zM24 52h24v1h-24zM40 53h7v1h-7z"/>
<path fill="#d0f500" d="M26 5h1v1h-1zM34 5h1v1h-1zM22 6h1v1h-1zM45 10h1v1h-1zM13 11h1v1h-1zM47 11h1v1h-1zM12 12h1v1h-1zM48 12h1v1h-1zM50 13h1v1h-1zM51 14h1v1h-1zM10 15h1v1h-1zM52 15h1v1h-1zM10 16h1v1h-1zM53 16h1v1h-1zM10 17h1v1h-1zM10 18h1v1h-1zM54 18h1v1h-1zM10 19h1v1h-1zM10 20h2v1h-2zM11 21h2v1h-2zM12 22h3v1h-3zM55 22h1v1h-1zM13 23h3v1h-3zM55 23h1v1h-1zM15 24h2v1h-2zM55 24h1v1h-1zM15 25h2v1h-2zM55 25h1v1h-1zM16 26h1v1h-1zM55 26h1v1h-1zM16 27h1v1h-1zM55 27h1v1h-1zM16 28h1v1h-1zM55 28h1v1h-1zM16 29h1v1h-1zM55 29h1v1h-1zM16 30h1v1h-1zM47 30h2v1h-2zM55 30h1v1h-1zM16 31h1v1h-1zM46 31h4v1h-4zM54 31h2v1h-2zM16 32h1v1h-1zM46 32h5v1h-5zM54 32h2v1h-2zM16 33h1v1h-1zM46 33h10v1h-10zM16 34h1v1h-1zM46 34h9v1h-9zM16 35h1v1h-1zM46 35h9v1h-9zM16 36h1v1h-1zM46 36h9v1h-9zM16 37h1v1h-1zM46 37h9v1h-9zM16 38h1v1h-1zM46 38h9v1h-9zM16 39h1v1h-1zM46 39h8v1h-8zM16 40h1v1h-1zM46 40h8v1h-8zM17 41h1v1h-1zM45 41h8v1h-8zM17 42h1v1h-1zM45 42h8v1h-8zM17 43h1v1h-1zM44 43h9v1h-9zM17 44h2v1h-2zM44 44h8v1h-8zM18 45h1v1h-1zM43 45h9v1h-9zM18 46h2v1h-2zM42 46h9v1h-9zM19 47h2v1h-2zM40 47h11v1h-11zM20 48h3v1h-3zM38 48h12v1h-12zM22 49h3v1h-3zM36 49h14v1h-14zM24 50h13v1h-13zM43 50h6v1h-6zM28 51h4v1h-4zM44 51h4v1h-4z"/>
<path fill="#d5f200" d="M27 5h2v1h-2zM33 5h1v1h-1zM23 6h1v1h-1zM37 6h1v1h-1zM20 7h1v1h-1zM39 7h1v1h-1zM18 8h1v1h-1zM41 8h1v1h-1zM16 9h1v1h-1zM43 9h1v1h-1zM15 10h1v1h-1zM14 11h1v1h-1zM46 11h1v1h-1zM13 12h1v1h-1zM12 13h1v1h-1zM49 13h1v1h-1zM11 14h1v1h-1zM11 15h1v1h-1zM11 16h1v1h-1zM11 17h1v1h-1zM53 17h1v1h-1zM11 18h1v1h-1zM11 19h2v1h-2zM54 19h1v1h-1zM12 20h2v1h-2zM54 20h1v1h-1zM13 21h3v1h-3zM54 21h1v1h-1zM15 22h2v1h-2zM16 23h2v1h-2zM17 24h1v1h-1zM17 25h1v1h-1zM17 26h1v1h-1zM45 26h3v1h-3zM54 26h1v1h-1zM17 27h1v1h-1zM45 27h4v1h-4zM54 27h1v1h-1zM17 28h1v1h-1zM45 28h6v1h-6zM54 28h1v1h-1zM17 29h1v1h-1zM45 29h10v1h-10zM17 30h1v1h-1zM45 30h2v1h-2zM49 30h6v1h-6zM17 31h1v1h-1zM45 31h1v1h-1zM50 31h4v1h-4zM17 32h1v1h-1zM45 32h1v1h-1zM51 32h3v1h-3zM17 33h1v1h-1zM45 33h1v1h-1zM17 34h1v1h-1zM45 34h1v1h-1zM17 35h1v1h-1zM45 35h1v1h-1zM17 36h1v1h-1zM45 36h1v1h-1zM17 37h1v1h-1zM45 37h1v1h-1zM17 38h1v1h-1zM44 38h2v1h-2zM17 39h1v1h-1zM44 39h2v1h-2zM17 40h1v1h-1zM44 40h2v1h-2zM18 41h1v1h-1zM43 41h2v1h-2zM18 42h1v1h-1zM43 42h2v1h-2zM18 43h1v1h-1zM42 43h2v1h-2zM19 44h1v1h-1zM42 44h2v1h-2zM19 45h2v1h-2zM41 45h2v1h-2zM20 46h2v1h-2zM39 46h3v1h-3zM21 47h2v1h-2zM38 47h2v1h-2zM23 48h2v1h-2zM36 48h2v1h-2zM25 49h11v1h-11z"/>
<path fill="#d9ee00" d="M29 5h4v1h-4zM24 6h1v1h-1zM36 6h1v1h-1zM21 7h1v1h-1zM19 8h1v1h-1zM17 9h1v1h-1zM16 10h1v1h-1zM44 10h1v1h-1zM47 12h1v1h-1zM13 13h1v1h-1zM12 14h1v1h-1zM50 14h1v1h-1zM12 15h1v1h-1zM51 15h1v1h-1zM12 16h1v1h-1zM52 16h1v1h-1zM12 17h1v1h-1zM12 18h2v1h-2zM53 18h1v1h-1zM13 19h3v1h-3zM53 19h1v1h-1zM14 20h4v1h-4zM16 21h3v1h-3zM17 22h2v1h-2zM54 22h1v1h-1zM18 23h1v1h-1zM54 23h1v1h-1zM18 24h1v1h-1zM43 24h5v1h-5zM54 24h1v1h-1zM18 25h1v1h-1zM43 25h6v1h-6zM53 25h2v1h-2zM18 26h1v1h-1zM43 26h2v1h-2zM48 26h3v1h-3zM53 26h1v1h-1zM18 27h1v1h-1zM43 27h2v1h-2zM49 27h5v1h-5zM18 28h1v1h-1zM43 28h2v1h-2zM51 28h3v1h-3zM18 29h1v1h-1zM44 29h1v1h-1zM18 30h1v1h-1zM44 30h1v1h-1zM18 31h1v1h-1zM44 31h1v1h-1zM44 32h1v1h-1zM44 33h1v1h-1zM44 34h1v1h-1zM44 35h1v1h-1zM44 36h1v1h-1zM44 37h1v1h-1zM18 38h1v1h-1zM43 38h1v1h-1zM18 39h1v1h-1zM43 39h1v1h-1zM18 40h1v1h-1zM43 40h1v1h-1zM42 41h1v1h-1zM19 42h1v1h-1zM42 42h1v1h-1zM19 43h1v1h-1zM41 43h1v1h-1zM20 44h1v1h-1zM40 44h2v1h-2zM21 45h1v1h-1zM39 45h2v1h-2zM22 46h1v1h-1zM38 46h1v1h-1zM23 47h2v1h-2zM36 47h2v1h-2zM25 48h4v1h-4zM32 48h4v1h-4z"/>
<path fill="#dde400" d="M25 6h2v1h-2zM35 6h1v1h-1zM22 7h1v1h-1zM38 7h1v1h-1zM20 8h1v1h-1zM40 8h1v1h-1zM18 9h1v1h-1zM42 9h1v1h-1zM17 10h1v1h-1zM43 10h1v1h-1zM15 11h1v1h-1zM45 11h1v1h-1zM14 12h1v1h-1zM46 12h1v1h-1zM14 13h1v1h-1zM48 13h1v1h-1zM13 14h1v1h-1zM49 14h1v1h-1zM13 15h1v1h-1zM50 15h1v1h-1zM13 16h1v1h-1zM51 16h1v1h-1zM13 17h2v1h-2zM52 17h1v1h-1zM14 18h4v1h-4zM52 18h1v1h-1zM16 19h4v1h-4zM18 20h2v1h-2zM53 20h1v1h-1zM19 21h1v1h-1zM43 21h1v1h-1zM53 21h1v1h-1zM19 22h1v1h-1zM42 22h5v1h-5zM53 22h1v1h-1zM19 23h1v1h-1zM42 23h6v1h-6zM53 23h1v1h-1zM19 24h1v1h-1zM42 24h1v1h-1zM48 24h2v1h-2zM52 24h2v1h-2zM19 25h1v1h-1zM42 25h1v1h-1zM49 25h4v1h-4zM19 26h1v1h-1zM42 26h1v1h-1zM51 26h2v1h-2zM19 27h1v1h-1zM42 27h1v1h-1zM42 28h1v1h-1zM43 29h1v1h-1zM43 30h1v1h-1zM43 31h1v1h-1zM18 32h1v1h-1zM43 32h1v1h-1zM18 33h1v1h-1zM43 33h1v1h-1zM18 34h1v1h-1zM43 34h1v1h-1zM18 35h1v1h-1zM43 35h1v1h-1zM18 36h1v1h-1zM43 36h1v1h-1zM18 37h1v1h-1zM43 37h1v1h-1zM42 39h1v1h-1zM19 40h1v1h-1zM42 40h1v1h-1zM19 41h1v1h-1zM41 41h1v1h-1zM20 42h1v1h-1zM41 42h1v1h-1zM20 43h1v1h-1zM40 43h1v1h-1zM21 44h1v1h-1zM39 44h1v1h-1zM22 45h1v1h-1zM38 45h1v1h-1zM23 46h2v1h-2zM36 46h2v1h-2zM25 47h2v1h-2zM34 47h2v1h-2zM29 48h3v1h-3z"/>
<path fill="#e1d900" d="M27 6h1v1h-1zM34 6h1v1h-1zM23 7h1v1h-1zM37 7h1v1h-1zM21 8h1v1h-1zM19 9h1v1h-1zM41 9h1v1h-1zM18 10h1v1h-1zM16 11h1v1h-1zM44 11h1v1h-1zM15 12h1v1h-1zM45 12h1v1h-1zM15 13h1v1h-1zM47 13h1v1h-1zM14 14h1v1h-1zM48 14h1v1h-1zM14 15h2v1h-2zM49 15h1v1h-1zM14 16h3v1h-3zM50 16h1v1h-1zM15 17h5v1h-5zM51 17h1v1h-1zM18 18h4v1h-4zM51 18h1v1h-1zM20 19h2v1h-2zM41 19h2v1h-2zM52 19h1v1h-1zM20 20h2v1h-2zM40 20h6v1h-6zM52 20h1v1h-1zM20 21h2v1h-2zM40 21h3v1h-3zM44 21h3v1h-3zM52 21h1v1h-1zM20 22h2v1h-2zM40 22h2v1h-2zM47 22h2v1h-2zM51 22h2v1h-2zM20 23h1v1h-1zM40 23h2v1h-2zM48 23h5v1h-5zM20 24h1v1h-1zM41 24h1v1h-1zM50 24h2v1h-2zM20 25h1v1h-1zM41 25h1v1h-1zM20 26h1v1h-1zM41 26h1v1h-1zM41 27h1v1h-1zM19 28h1v1h-1zM19 29h1v1h-1zM42 29h1v1h-1zM19 30h1v1h-1zM42 30h1v1h-1zM19 31h1v1h-1zM42 31h1v1h-1zM19 32h1v1h-1zM42 32h1v1h-1zM19 33h1v1h-1zM42 33h1v1h-1zM19 34h1v1h-1zM42 34h1v1h-1zM19 35h1v1h-1zM42 35h1v1h-1zM19 36h1v1h-1zM42 36h1v1h-1zM19 37h1v1h-1zM42 37h1v1h-1zM19 38h1v1h-1zM42 38h1v1h-1zM19 39h1v1h-1zM41 39h1v1h-1zM41 40h1v1h-1zM20 41h1v1h-1zM40 42h1v1h-1zM21 43h1v1h-1zM39 43h1v1h-1zM22 44h1v1h-1zM38 44h1v1h-1zM23 45h1v1h-1zM37 45h1v1h-1zM25 46h1v1h-1zM35 46h1v1h-1zM27 47h7v1h-7z"/>
<path fill="#e5cf00" d="M28 6h6v1h-6zM24 7h2v1h-2zM22 8h1v1h-1zM39 8h1v1h-1zM20 9h1v1h-1zM19 10h1v1h-1zM42 10h1v1h-1zM17 11h2v1h-2zM43 11h1v1h-1zM16 12h2v1h-2zM44 12h1v1h-1zM16 13h1v1h-1zM46 13h1v1h-1zM15 14h2v1h-2zM47 14h1v1h-1zM16 15h3v1h-3zM48 15h1v1h-1zM17 16h7v1h-7zM49 16h1v1h-1zM20 17h5v1h-5zM50 17h1v1h-1zM22 18h3v1h-3zM38 18h6v1h-6zM50 18h1v1h-1zM22 19h2v1h-2zM38 19h3v1h-3zM43 19h3v1h-3zM50 19h2v1h-2zM22 20h2v1h-2zM38 20h2v1h-2zM46 20h2v1h-2zM50 20h2v1h-2zM22 21h1v1h-1zM38 21h2v1h-2zM47 21h5v1h-5zM22 22h1v1h-1zM39 22h1v1h-1zM49 22h2v1h-2zM21 23h1v1h-1zM39 23h1v1h-1zM21 24h1v1h-1zM40 24h1v1h-1zM21 25h1v1h-1zM40 25h1v1h-1zM40 26h1v1h-1zM20 27h1v1h-1zM20 28h1v1h-1zM41 28h1v1h-1zM20 29h1v1h-1zM41 29h1v1h-1zM41 30h1v1h-1zM41 37h1v1h-1zM41 38h1v1h-1zM20 39h1v1h-1zM20 40h1v1h-1zM40 40h1v1h-1zM21 41h1v1h-1zM40 41h1v1h-1zM21 42h1v1h-1zM39 42h1v1h-1zM22 43h1v1h-1zM38 43h1v1h-1zM23 44h1v1h-1zM37 44h1v1h-1zM24 45h2v1h-2zM35 45h2v1h-2zM26 46h3v1h-3zM32 46h3v1h-3z"/>
<path fill="#e9c400" d="M26 7h1v1h-1zM35 7h2v1h-2zM23 8h1v1h-1zM38 8h1v1h-1zM21 9h1v1h-1zM40 9h1v1h-1zM20 10h1v1h-1zM41 10h1v1h-1zM19 11h1v1h-1zM42 11h1v1h-1zM18 12h1v1h-1zM43 12h1v1h-1zM17 13h2v1h-2zM44 13h2v1h-2zM17 14h5v1h-5zM45 14h2v1h-2zM19 15h9v1h-9zM46 15h2v1h-2zM24 16h5v1h-5zM35 16h8v1h-8zM47 16h2v1h-2zM25 17h4v1h-4zM35 17h11v1h-11zM47 17h3v1h-3zM25 18h3v1h-3zM35 18h3v1h-3zM44 18h6v1h-6zM24 19h2v1h-2zM36 19h2v1h-2zM46 19h4v1h-4zM24 20h1v1h-1zM36 20h2v1h-2zM48 20h2v1h-2zM23 21h2v1h-2zM37 21h1v1h-1zM23 22h1v1h-1zM38 22h1v1h-1zM22 23h1v1h-1zM38 23h1v1h-1zM22 24h1v1h-1zM39 24h1v1h-1zM39 25h1v1h-1zM21 26h1v1h-1zM21 27h1v1h-1zM40 27h1v1h-1zM40 28h1v1h-1zM20 30h1v1h-1zM20 31h1v1h-1zM41 31h1v1h-1zM20 32h1v1h-1zM41 32h1v1h-1zM20 33h1v1h-1zM41 33h1v1h-1zM20 34h1v1h-1zM41 34h1v1h-1zM20 35h1v1h-1zM41 35h1v1h-1zM20 36h1v1h-1zM41 36h1v1h-1zM20 37h1v1h-1zM20 38h1v1h-1zM40 39h1v1h-1zM21 40h1v1h-1zM39 41h1v1h-1zM22 42h1v1h-1zM38 42h1v1h-1zM23 43h1v1h-1zM37 43h1v1h-1zM24 44h1v1h-1zM36 44h1v1h-1zM26 45h1v1h-1zM34 45h1v1h-1zM29 46h3v1h-3z"/>
<path fill="#ebb800" d="M27 7h2v1h-2zM34 7h1v1h-1zM24 8h1v1h-1zM37 8h1v1h-1zM22 9h2v1h-2zM39 9h1v1h-1zM21 10h1v1h-1zM40 10h1v1h-1zM20 11h1v1h-1zM41 11h1v1h-1zM19 12h2v1h-2zM42 12h1v1h-1zM19 13h6v1h-6zM42 13h2v1h-2zM22 14h23v1h-23zM28 15h18v1h-18zM29 16h6v1h-6zM43 16h4v1h-4zM29 17h6v1h-6zM46 17h1v1h-1zM28 18h7v1h-7zM26 19h3v1h-3zM33 19h3v1h-3zM25 20h2v1h-2zM34 20h2v1h-2zM25 21h1v1h-1zM36 21h1v1h-1zM24 22h1v1h-1zM37 22h1v1h-1zM23 23h1v1h-1zM37 23h1v1h-1zM23 24h1v1h-1zM38 24h1v1h-1zM22 25h1v1h-1zM38 25h1v1h-1zM22 26h1v1h-1zM39 26h1v1h-1zM39 27h1v1h-1zM21 28h1v1h-1zM21 29h1v1h-1zM40 29h1v1h-1zM40 30h1v1h-1zM40 31h1v1h-1zM40 36h1v1h-1zM40 37h1v1h-1zM21 38h1v1h-1zM40 38h1v1h-1zM21 39h1v1h-1zM39 40h1v1h-1zM22 41h1v1h-1zM38 41h1v1h-1zM23 42h1v1h-1zM24 43h1v1h-1zM36 43h1v1h-1zM25 44h1v1h-1zM35 44h1v1h-1zM27 45h7v1h-7z"/>
<path fill="#eeac00" d="M29 7h5v1h-5zM25 8h2v1h-2zM36 8h1v1h-1zM24 9h1v1h-1zM38 9h1v1h-1zM22 10h2v1h-2zM39 10h1v1h-1zM21 11h3v1h-3zM40 11h1v1h-1zM21 12h5v1h-5zM39 12h3v1h-3zM25 13h17v1h-17zM29 19h4v1h-4zM27 20h7v1h-7zM26 21h2v1h-2zM34 21h2v1h-2zM25 22h1v1h-1zM35 22h2v1h-2zM24 23h1v1h-1zM36 23h1v1h-1zM37 24h1v1h-1zM23 25h1v1h-1zM38 26h1v1h-1zM22 27h1v1h-1zM39 28h1v1h-1zM39 29h1v1h-1zM21 30h1v1h-1zM21 31h1v1h-1zM21 32h1v1h-1zM40 32h1v1h-1zM21 33h1v1h-1zM40 33h1v1h-1zM21 34h1v1h-1zM40 34h1v1h-1zM21 35h1v1h-1zM40 35h1v1h-1zM21 36h1v1h-1zM21 37h1v1h-1zM39 38h1v1h-1zM39 39h1v1h-1zM22 40h1v1h-1zM38 40h1v1h-1zM23 41h1v1h-1zM37 42h1v1h-1zM25 43h1v1h-1zM26 44h2v1h-2zM33 44h2v1h-2z"/>
<path fill="#f09e00" d="M27 8h2v1h-2zM34 8h2v1h-2zM25 9h2v1h-2zM37 9h1v1h-1zM24 10h2v1h-2zM38 10h1v1h-1zM24 11h3v1h-3zM38 11h2v1h-2zM26 12h13v1h-13zM28 21h6v1h-6zM26 22h2v1h-2zM34 22h1v1h-1zM25 23h1v1h-1zM35 23h1v1h-1zM24 24h1v1h-1zM36 24h1v1h-1zM24 25h1v1h-1zM37 25h1v1h-1zM23 26h1v1h-1zM38 27h1v1h-1zM22 28h1v1h-1zM22 29h1v1h-1zM39 30h1v1h-1zM39 31h1v1h-1zM39 36h1v1h-1zM39 37h1v1h-1zM22 38h1v1h-1zM22 39h1v1h-1zM38 39h1v1h-1zM23 40h1v1h-1zM37 41h1v1h-1zM24 42h1v1h-1zM36 42h1v1h-1zM26 43h1v1h-1zM34 43h2v1h-2zM28 44h5v1h-5z"/>
<path fill="#f08300" d="M29 8h5v1h-5zM27 9h2v1h-2zM34 9h3v1h-3zM26 10h3v1h-3zM35 10h3v1h-3zM27 11h11v1h-11zM28 22h6v1h-6zM26 23h2v1h-2zM34 23h1v1h-1zM25 24h1v1h-1zM35 24h1v1h-1zM36 25h1v1h-1zM24 26h1v1h-1zM37 26h1v1h-1zM23 27h1v1h-1zM23 28h1v1h-1zM38 28h1v1h-1zM38 29h1v1h-1zM22 30h1v1h-1zM22 31h1v1h-1zM22 32h1v1h-1zM39 32h1v1h-1zM39 33h1v1h-1zM39 34h1v1h-1zM39 35h1v1h-1zM22 36h1v1h-1zM22 37h1v1h-1zM38 38h1v1h-1zM23 39h1v1h-1zM37 40h1v1h-1zM24 41h1v1h-1zM36 41h1v1h-1zM25 42h1v1h-1zM35 42h1v1h-1zM27 43h1v1h-1zM33 43h1v1h-1z"/>
<path fill="#f06900" d="M29 9h5v1h-5zM29 10h6v1h-6zM28 23h2v1h-2zM32 23h2v1h-2zM26 24h1v1h-1zM34 24h1v1h-1zM25 25h1v1h-1zM35 25h1v1h-1zM36 26h1v1h-1zM24 27h1v1h-1zM37 27h1v1h-1zM37 28h1v1h-1zM23 29h1v1h-1zM38 30h1v1h-1zM38 31h1v1h-1zM22 33h1v1h-1zM22 34h1v1h-1zM22 35h1v1h-1zM38 36h1v1h-1zM38 37h1v1h-1zM23 38h1v1h-1zM37 39h1v1h-1zM24 40h1v1h-1zM25 41h1v1h-1zM26 42h1v1h-1zM34 42h1v1h-1zM28 43h5v1h-5z"/>
<path fill="#f04e00" d="M30 23h2v1h-2zM27 24h2v1h-2zM33 24h1v1h-1zM26 25h1v1h-1zM34 25h1v1h-1zM25 26h1v1h-1zM35 26h1v1h-1zM36 27h1v1h-1zM24 28h1v1h-1zM37 29h1v1h-1zM23 30h1v1h-1zM23 31h1v1h-1zM38 32h1v1h-1zM38 33h1v1h-1zM38 34h1v1h-1zM38 35h1v1h-1zM23 36h1v1h-1zM23 37h1v1h-1zM37 38h1v1h-1zM24 39h1v1h-1zM36 40h1v1h-1zM26 41h1v1h-1zM35 41h1v1h-1zM27 42h1v1h-1zM33 42h1v1h-1z"/>
<path fill="#f13800" d="M29 24h4v1h-4zM27 25h1v1h-1zM33 25h1v1h-1zM26 26h1v1h-1zM25 27h1v1h-1zM36 28h1v1h-1zM24 29h1v1h-1zM37 30h1v1h-1zM23 32h1v1h-1zM23 33h1v1h-1zM23 34h1v1h-1zM23 35h1v1h-1zM37 37h1v1h-1zM24 38h1v1h-1zM36 39h1v1h-1zM25 40h1v1h-1zM35 40h1v1h-1zM27 41h1v1h-1zM34 41h1v1h-1zM28 42h5v1h-5z"/>
<path fill="#f22400" d="M28 25h5v1h-5zM27 26h1v1h-1zM34 26h1v1h-1zM26 27h1v1h-1zM35 27h1v1h-1zM25 28h1v1h-1zM36 29h1v1h-1zM24 30h1v1h-1zM24 31h1v1h-1zM37 31h1v1h-1zM37 32h1v1h-1zM37 33h1v1h-1zM37 34h1v1h-1zM37 35h1v1h-1zM24 36h1v1h-1zM37 36h1v1h-1zM24 37h1v1h-1zM36 38h1v1h-1zM25 39h1v1h-1zM26 40h1v1h-1zM28 41h1v1h-1zM33 41h1v1h-1z"/>
<path fill="#f31000" d="M28 26h1v1h-1zM32 26h2v1h-2zM27 27h1v1h-1zM34 27h1v1h-1zM26 28h1v1h-1zM35 28h1v1h-1zM25 29h1v1h-1zM36 30h1v1h-1zM24 32h1v1h-1zM24 33h1v1h-1zM24 34h1v1h-1zM24 35h1v1h-1zM36 37h1v1h-1zM25 38h1v1h-1zM26 39h1v1h-1zM35 39h1v1h-1zM27 40h1v1h-1zM34 40h1v1h-1zM29 41h4v1h-4z"/>
<path fill="#ef0700" d="M29 26h3v1h-3zM28 27h1v1h-1zM33 27h1v1h-1zM34 28h1v1h-1zM26 29h1v1h-1zM35 29h1v1h-1zM25 30h1v1h-1zM25 31h1v1h-1zM36 31h1v1h-1zM36 32h1v1h-1zM36 33h1v1h-1zM36 34h1v1h-1zM36 35h1v1h-1zM25 36h1v1h-1zM36 36h1v1h-1zM25 37h1v1h-1zM26 38h1v1h-1zM35 38h1v1h-1zM34 39h1v1h-1zM28 40h1v1h-1zM32 40h2v1h-2z"/>
<path fill="#e60400" d="M29 27h4v1h-4zM27 28h1v1h-1zM33 28h1v1h-1zM34 29h1v1h-1zM26 30h1v1h-1zM35 30h1v1h-1zM35 31h1v1h-1zM25 32h1v1h-1zM25 33h1v1h-1zM25 34h1v1h-1zM25 35h1v1h-1zM26 37h1v1h-1zM35 37h1v1h-1zM34 38h1v1h-1zM27 39h1v1h-1zM33 39h1v1h-1zM29 40h3v1h-3z"/>
<path fill="#de0200" d="M28 28h2v1h-2zM32 28h1v1h-1zM27 29h1v1h-1zM34 30h1v1h-1zM26 31h1v1h-1zM35 32h1v1h-1zM35 33h1v1h-1zM35 34h1v1h-1zM35 35h1v1h-1zM26 36h1v1h-1zM35 36h1v1h-1zM34 37h1v1h-1zM27 38h1v1h-1zM28 39h2v1h-2zM31 39h2v1h-2z"/>
<path fill="#d50000" d="M30 28h2v1h-2zM28 29h1v1h-1zM32 29h2v1h-2zM27 30h1v1h-1zM34 31h1v1h-1zM26 32h1v1h-1zM26 33h1v1h-1zM26 34h1v1h-1zM26 35h1v1h-1zM34 36h1v1h-1zM27 37h1v1h-1zM28 38h1v1h-1zM32 38h2v1h-2zM30 39h1v1h-1z"/>
<path fill="#cd0000" d="M29 29h3v1h-3zM28 30h1v1h-1zM33 30h1v1h-1zM27 31h1v1h-1zM33 31h1v1h-1zM27 32h1v1h-1zM34 32h1v1h-1zM27 33h1v1h-1zM34 33h1v1h-1zM34 34h1v1h-1zM27 35h1v1h-1zM34 35h1v1h-1zM27 36h1v1h-1zM28 37h1v1h-1zM33 37h1v1h-1zM29 38h3v1h-3z"/>
<path fill="#c50000" d="M29 30h4v1h-4zM28 31h1v1h-1zM32 31h1v1h-1zM28 32h1v1h-1zM33 32h1v1h-1zM33 33h1v1h-1zM27 34h1v1h-1zM33 34h1v1h-1zM33 35h1v1h-1zM28 36h1v1h-1zM33 36h1v1h-1zM29 37h4v1h-4z"/>
<path fill="#bc0000" d="M29 31h3v1h-3zM29 32h1v1h-1zM32 32h1v1h-1zM28 33h1v1h-1zM32 33h1v1h-1zM28 34h1v1h-1zM32 34h1v1h-1zM28 35h2v1h-2zM32 35h1v1h-1zM29 36h4v1h-4z"/>
<path fill="#b40000" d="M30 32h2v1h-2zM29 33h3v1h-3zM29 34h3v1h-3zM30 35h2v1h-2z"/>
</g>
</g>
<path d="M1710.3 636.6V1087.3H2161.8" fill="none" stroke="#3a3a55" stroke-opacity="0.55" stroke-width="1.2"/>
<rect x="2182.0" y="672.8" width="41.7" height="326.0" fill="url(#cb)" filter="url(#bl2)"/>
<text class="ts" x="2229.7" y="677.1" font-size="22.0" text-anchor="start">0.007</text>
<text class="ts" x="2229.7" y="710.6" font-size="22.0" text-anchor="start">−0.028</text>
<text class="ts" x="2229.7" y="744.1" font-size="22.0" text-anchor="start">−0.063</text>
<text class="ts" x="2229.7" y="777.6" font-size="22.0" text-anchor="start">−0.097</text>
<text class="ts" x="2229.7" y="811.1" font-size="22.0" text-anchor="start">−0.132</text>
<text class="ts" x="2229.7" y="844.6" font-size="22.0" text-anchor="start">−0.166</text>
<text class="ts" x="2229.7" y="878.1" font-size="22.0" text-anchor="start">−0.201</text>
<text class="ts" x="2229.7" y="911.6" font-size="22.0" text-anchor="start">−0.236</text>
<text class="ts" x="2229.7" y="945.1" font-size="22.0" text-anchor="start">−0.270</text>
<text class="ts" x="2229.7" y="978.6" font-size="22.0" text-anchor="start">−0.305</text>
<text class="ts" x="2229.7" y="1012.1" font-size="22.0" text-anchor="start">−0.340</text>
<text class="tm" x="2225.7" y="1040.5" font-size="16.5" text-anchor="start" style="stroke-width:0.15px">Waves</text>
<text class="ts" x="1948.3" y="623.6" font-size="40.0" text-anchor="middle">OBJ：− 0.24°</text>
<text class="ts" x="1585.0" y="642.0" font-size="37.0" text-anchor="start" letter-spacing="1.2">(f)</text>
<text class="ts" x="1703.0" y="645.6" font-size="29.0" text-anchor="end">1.0</text>
<text class="ts" x="1704.5" y="869.0" font-size="29.0" text-anchor="end">0</text>
<text class="ts" x="1703.0" y="1091.2" font-size="29.0" text-anchor="end">−1.0</text>
<text class="ts" x="1708.0" y="1117.3" font-size="29.0" text-anchor="middle">−1.0</text>
<text class="ts" x="1937.3" y="1117.3" font-size="29.0" text-anchor="middle">0</text>
<text class="ts" x="2159.5" y="1117.3" font-size="29.0" text-anchor="middle">1.0</text>
<text class="tm" x="1938.8" y="1153.6" font-size="24.2" text-anchor="middle">X-Pupil (Rel. Units)</text>
<text class="tm" font-size="24.2" text-anchor="middle" transform="translate(1597.7 859.4) rotate(-90)" y="7.3">Y-Pupil (Rel. Units)</text>
</g>
</g>
</svg></body></html>
